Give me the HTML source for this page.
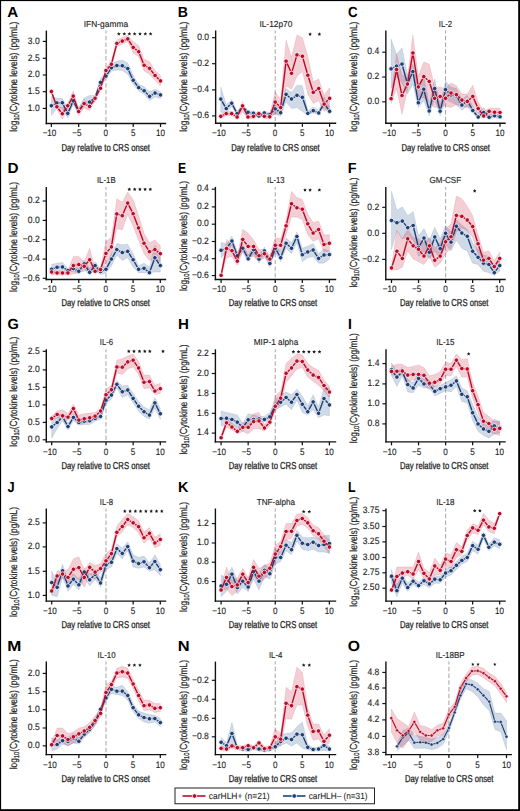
<!DOCTYPE html>
<html><head><meta charset="utf-8"><style>
html,body{margin:0;padding:0;background:#fff;}
svg{display:block;}
text{font-family:"Liberation Sans", sans-serif;fill:#262626;stroke:#262626;stroke-width:0.08px;text-rendering:geometricPrecision;}
</style></head><body>
<svg width="520" height="811" viewBox="0 0 520 811">
<rect x="0" y="0" width="520" height="811" fill="#fff"/>
<text transform="translate(7.37,16.85) scale(1.03,1)" font-size="14.7" text-anchor="start" font-weight="bold" style="fill:#000;stroke:none">A</text>
<text x="105.9" y="26.9" font-size="8.7" text-anchor="middle" font-weight="normal" textLength="44.4" lengthAdjust="spacingAndGlyphs" style="stroke-width:0.14px">IFN-gamma</text>
<line x1="105.95" y1="30.6" x2="105.95" y2="123.5" stroke="#a9a9a9" stroke-width="1.05" stroke-dasharray="4.4,2.35" stroke-dashoffset="1.5"/>
<path d="M51.4,96.5 L56.85,98 L62.31,98.62 L67.77,108 L73.22,98 L78.67,108 L84.13,98 L89.58,95.5 L95.04,95.5 L100.5,78.62 L105.95,73 L111.41,64.25 L116.86,61.12 L122.31,60.25 L127.77,63 L133.22,75.5 L138.68,84.25 L144.13,86.75 L149.59,91.75 L155.05,89.25 L160.5,91.75 L160.5,98.62 L155.05,96.75 L149.59,100.5 L144.13,94.25 L138.68,91.12 L133.22,84.25 L127.77,74.25 L122.31,70.5 L116.86,69.88 L111.41,71.12 L105.95,79.25 L100.5,86.75 L95.04,101.75 L89.58,105.5 L84.13,105.5 L78.67,114.25 L73.22,104.25 L67.77,118 L62.31,108 L56.85,108 L51.4,115.5 Z" fill="rgba(40,80,140,0.22)" stroke="rgba(40,80,140,0.18)" stroke-width="0.7"/>
<path d="M51.4,89.88 L56.85,104.88 L62.31,108 L67.77,103 L73.22,91.12 L78.67,108.62 L84.13,99.25 L89.58,104.25 L95.04,96.12 L100.5,85.5 L105.95,67.38 L111.41,60.5 L116.86,39.88 L122.31,37.38 L127.77,35.5 L133.22,41.75 L138.68,45.5 L144.13,59.25 L149.59,61.75 L155.05,70.5 L160.5,75.5 L160.5,86.12 L155.05,80.5 L149.59,74.25 L144.13,71.12 L138.68,56.75 L133.22,53 L127.77,41.75 L122.31,44.25 L116.86,46.75 L111.41,68 L105.95,73.62 L100.5,90.5 L95.04,100.5 L89.58,110.5 L84.13,108 L78.67,115.5 L73.22,100.5 L67.77,109.25 L62.31,119.25 L56.85,109.25 L51.4,93.62 Z" fill="rgba(200,30,60,0.22)" stroke="rgba(200,30,60,0.18)" stroke-width="0.7"/>
<path d="M51.4,105.75 L56.85,103 L62.31,102.75 L67.77,113.38 L73.22,100.88 L78.67,111.5 L84.13,102.75 L89.58,102.12 L95.04,97.38 L100.5,82.38 L105.95,76.12 L111.41,67.75 L116.86,65.5 L122.31,65.75 L127.77,68.62 L133.22,80.25 L138.68,87.62 L144.13,90.75 L149.59,96.38 L155.05,93 L160.5,94.88" fill="none" stroke="#1c3f78" stroke-width="1.4" stroke-linejoin="round"/>
<circle cx="51.4" cy="105.75" r="2.25" fill="#1c3f78" stroke="#fff" stroke-width="0.75"/>
<circle cx="56.85" cy="103" r="2.25" fill="#1c3f78" stroke="#fff" stroke-width="0.75"/>
<circle cx="62.31" cy="102.75" r="2.25" fill="#1c3f78" stroke="#fff" stroke-width="0.75"/>
<circle cx="67.77" cy="113.38" r="2.25" fill="#1c3f78" stroke="#fff" stroke-width="0.75"/>
<circle cx="73.22" cy="100.88" r="2.25" fill="#1c3f78" stroke="#fff" stroke-width="0.75"/>
<circle cx="78.67" cy="111.5" r="2.25" fill="#1c3f78" stroke="#fff" stroke-width="0.75"/>
<circle cx="84.13" cy="102.75" r="2.25" fill="#1c3f78" stroke="#fff" stroke-width="0.75"/>
<circle cx="89.58" cy="102.12" r="2.25" fill="#1c3f78" stroke="#fff" stroke-width="0.75"/>
<circle cx="95.04" cy="97.38" r="2.25" fill="#1c3f78" stroke="#fff" stroke-width="0.75"/>
<circle cx="100.5" cy="82.38" r="2.25" fill="#1c3f78" stroke="#fff" stroke-width="0.75"/>
<circle cx="105.95" cy="76.12" r="2.25" fill="#1c3f78" stroke="#fff" stroke-width="0.75"/>
<circle cx="111.41" cy="67.75" r="2.25" fill="#1c3f78" stroke="#fff" stroke-width="0.75"/>
<circle cx="116.86" cy="65.5" r="2.25" fill="#1c3f78" stroke="#fff" stroke-width="0.75"/>
<circle cx="122.31" cy="65.75" r="2.25" fill="#1c3f78" stroke="#fff" stroke-width="0.75"/>
<circle cx="127.77" cy="68.62" r="2.25" fill="#1c3f78" stroke="#fff" stroke-width="0.75"/>
<circle cx="133.22" cy="80.25" r="2.25" fill="#1c3f78" stroke="#fff" stroke-width="0.75"/>
<circle cx="138.68" cy="87.62" r="2.25" fill="#1c3f78" stroke="#fff" stroke-width="0.75"/>
<circle cx="144.13" cy="90.75" r="2.25" fill="#1c3f78" stroke="#fff" stroke-width="0.75"/>
<circle cx="149.59" cy="96.38" r="2.25" fill="#1c3f78" stroke="#fff" stroke-width="0.75"/>
<circle cx="155.05" cy="93" r="2.25" fill="#1c3f78" stroke="#fff" stroke-width="0.75"/>
<circle cx="160.5" cy="94.88" r="2.25" fill="#1c3f78" stroke="#fff" stroke-width="0.75"/>
<path d="M51.4,91.5 L56.85,106.75 L62.31,113.75 L67.77,105.75 L73.22,96.12 L78.67,111.5 L84.13,103.62 L89.58,106.38 L95.04,98.25 L100.5,88.25 L105.95,70.5 L111.41,64.25 L116.86,43.38 L122.31,41.12 L127.77,38.88 L133.22,47.38 L138.68,51.75 L144.13,65.25 L149.59,68.38 L155.05,75.5 L160.5,80.88" fill="none" stroke="#bb0a28" stroke-width="1.4" stroke-linejoin="round"/>
<circle cx="51.4" cy="91.5" r="2.25" fill="#bb0a28" stroke="#fff" stroke-width="0.75"/>
<circle cx="56.85" cy="106.75" r="2.25" fill="#bb0a28" stroke="#fff" stroke-width="0.75"/>
<circle cx="62.31" cy="113.75" r="2.25" fill="#bb0a28" stroke="#fff" stroke-width="0.75"/>
<circle cx="67.77" cy="105.75" r="2.25" fill="#bb0a28" stroke="#fff" stroke-width="0.75"/>
<circle cx="73.22" cy="96.12" r="2.25" fill="#bb0a28" stroke="#fff" stroke-width="0.75"/>
<circle cx="78.67" cy="111.5" r="2.25" fill="#bb0a28" stroke="#fff" stroke-width="0.75"/>
<circle cx="84.13" cy="103.62" r="2.25" fill="#bb0a28" stroke="#fff" stroke-width="0.75"/>
<circle cx="89.58" cy="106.38" r="2.25" fill="#bb0a28" stroke="#fff" stroke-width="0.75"/>
<circle cx="95.04" cy="98.25" r="2.25" fill="#bb0a28" stroke="#fff" stroke-width="0.75"/>
<circle cx="100.5" cy="88.25" r="2.25" fill="#bb0a28" stroke="#fff" stroke-width="0.75"/>
<circle cx="105.95" cy="70.5" r="2.25" fill="#bb0a28" stroke="#fff" stroke-width="0.75"/>
<circle cx="111.41" cy="64.25" r="2.25" fill="#bb0a28" stroke="#fff" stroke-width="0.75"/>
<circle cx="116.86" cy="43.38" r="2.25" fill="#bb0a28" stroke="#fff" stroke-width="0.75"/>
<circle cx="122.31" cy="41.12" r="2.25" fill="#bb0a28" stroke="#fff" stroke-width="0.75"/>
<circle cx="127.77" cy="38.88" r="2.25" fill="#bb0a28" stroke="#fff" stroke-width="0.75"/>
<circle cx="133.22" cy="47.38" r="2.25" fill="#bb0a28" stroke="#fff" stroke-width="0.75"/>
<circle cx="138.68" cy="51.75" r="2.25" fill="#bb0a28" stroke="#fff" stroke-width="0.75"/>
<circle cx="144.13" cy="65.25" r="2.25" fill="#bb0a28" stroke="#fff" stroke-width="0.75"/>
<circle cx="149.59" cy="68.38" r="2.25" fill="#bb0a28" stroke="#fff" stroke-width="0.75"/>
<circle cx="155.05" cy="75.5" r="2.25" fill="#bb0a28" stroke="#fff" stroke-width="0.75"/>
<circle cx="160.5" cy="80.88" r="2.25" fill="#bb0a28" stroke="#fff" stroke-width="0.75"/>
<line x1="46.35" y1="30.6" x2="46.35" y2="124.2" stroke="#111" stroke-width="1.4"/>
<line x1="45.65" y1="123.5" x2="166.2" y2="123.5" stroke="#111" stroke-width="1.4"/>
<line x1="51.4" y1="123.5" x2="51.4" y2="127" stroke="#111" stroke-width="1.25"/>
<text transform="translate(49.5,136.45) scale(0.87,1)" font-size="9.3" text-anchor="middle" font-weight="normal" style="stroke-width:0.14px">−10</text>
<line x1="78.67" y1="123.5" x2="78.67" y2="127" stroke="#111" stroke-width="1.25"/>
<text transform="translate(76.77,136.45) scale(0.87,1)" font-size="9.3" text-anchor="middle" font-weight="normal" style="stroke-width:0.14px">−5</text>
<line x1="105.95" y1="123.5" x2="105.95" y2="127" stroke="#111" stroke-width="1.25"/>
<text transform="translate(105.85,136.45) scale(0.87,1)" font-size="9.3" text-anchor="middle" font-weight="normal" style="stroke-width:0.14px">0</text>
<line x1="133.22" y1="123.5" x2="133.22" y2="127" stroke="#111" stroke-width="1.25"/>
<text transform="translate(133.12,136.45) scale(0.87,1)" font-size="9.3" text-anchor="middle" font-weight="normal" style="stroke-width:0.14px">5</text>
<line x1="160.5" y1="123.5" x2="160.5" y2="127" stroke="#111" stroke-width="1.25"/>
<text transform="translate(160.4,136.45) scale(0.87,1)" font-size="9.3" text-anchor="middle" font-weight="normal" style="stroke-width:0.14px">10</text>
<line x1="42.75" y1="41.4" x2="46.35" y2="41.4" stroke="#111" stroke-width="1.15"/>
<text transform="translate(39.75,43.6) scale(0.92,1)" font-size="9.3" text-anchor="end" font-weight="normal" style="stroke-width:0.14px">3.0</text>
<line x1="42.75" y1="58.3" x2="46.35" y2="58.3" stroke="#111" stroke-width="1.15"/>
<text transform="translate(39.75,60.5) scale(0.92,1)" font-size="9.3" text-anchor="end" font-weight="normal" style="stroke-width:0.14px">2.5</text>
<line x1="42.75" y1="75" x2="46.35" y2="75" stroke="#111" stroke-width="1.15"/>
<text transform="translate(39.75,77.2) scale(0.92,1)" font-size="9.3" text-anchor="end" font-weight="normal" style="stroke-width:0.14px">2.0</text>
<line x1="42.75" y1="91.7" x2="46.35" y2="91.7" stroke="#111" stroke-width="1.15"/>
<text transform="translate(39.75,93.9) scale(0.92,1)" font-size="9.3" text-anchor="end" font-weight="normal" style="stroke-width:0.14px">1.5</text>
<line x1="42.75" y1="108.4" x2="46.35" y2="108.4" stroke="#111" stroke-width="1.15"/>
<text transform="translate(39.75,110.6) scale(0.92,1)" font-size="9.3" text-anchor="end" font-weight="normal" style="stroke-width:0.14px">1.0</text>
<text x="105.75" y="150.8" font-size="10" text-anchor="middle" font-weight="normal" textLength="88.5" lengthAdjust="spacingAndGlyphs" style="stroke-width:0.3px">Day relative to CRS onset</text>
<text transform="translate(16.5,76.7) rotate(-90)" font-size="10.4" text-anchor="middle" style="stroke-width:0.22px" textLength="110" lengthAdjust="spacingAndGlyphs">log<tspan font-size="7.2" dy="2.2">10</tspan><tspan dy="-2.2">(Cytokine levels) (pg/mL)</tspan></text>
<path d="M118.8,32.01 L119.36,33.14 L120.61,33.32 L119.7,34.2 L119.92,35.45 L118.8,34.86 L117.68,35.45 L117.9,34.2 L116.99,33.32 L118.24,33.14 Z" fill="#1a1a1a"/>
<path d="M124.3,32.01 L124.86,33.14 L126.11,33.32 L125.2,34.2 L125.42,35.45 L124.3,34.86 L123.18,35.45 L123.4,34.2 L122.49,33.32 L123.74,33.14 Z" fill="#1a1a1a"/>
<path d="M129.4,32.01 L129.96,33.14 L131.21,33.32 L130.3,34.2 L130.52,35.45 L129.4,34.86 L128.28,35.45 L128.5,34.2 L127.59,33.32 L128.84,33.14 Z" fill="#1a1a1a"/>
<path d="M134.6,32.01 L135.16,33.14 L136.41,33.32 L135.5,34.2 L135.72,35.45 L134.6,34.86 L133.48,35.45 L133.7,34.2 L132.79,33.32 L134.04,33.14 Z" fill="#1a1a1a"/>
<path d="M140,32.01 L140.56,33.14 L141.81,33.32 L140.9,34.2 L141.12,35.45 L140,34.86 L138.88,35.45 L139.1,34.2 L138.19,33.32 L139.44,33.14 Z" fill="#1a1a1a"/>
<path d="M145.3,32.01 L145.86,33.14 L147.11,33.32 L146.2,34.2 L146.42,35.45 L145.3,34.86 L144.18,35.45 L144.4,34.2 L143.49,33.32 L144.74,33.14 Z" fill="#1a1a1a"/>
<path d="M150.6,32.01 L151.16,33.14 L152.41,33.32 L151.5,34.2 L151.72,35.45 L150.6,34.86 L149.48,35.45 L149.7,34.2 L148.79,33.32 L150.04,33.14 Z" fill="#1a1a1a"/>
<text transform="translate(177.69,16.85) scale(0.96,1)" font-size="14.7" text-anchor="start" font-weight="bold" style="fill:#000;stroke:none">B</text>
<text x="275.9" y="26.8" font-size="8.7" text-anchor="middle" font-weight="normal" textLength="33" lengthAdjust="spacingAndGlyphs" style="stroke-width:0.14px">IL-12p70</text>
<line x1="275.2" y1="30.5" x2="275.2" y2="123.3" stroke="#a9a9a9" stroke-width="1.05" stroke-dasharray="4.4,2.35" stroke-dashoffset="1.5"/>
<path d="M220.8,87.17 L226.24,104.81 L231.68,99.38 L237.12,111.59 L242.56,104.81 L248,110.23 L253.44,111.32 L258.88,114.03 L264.32,111.05 L269.76,112.67 L275.2,104.81 L280.64,108.88 L286.08,88.53 L291.52,92.6 L296.96,85.14 L302.4,85.82 L307.84,110.91 L313.28,106.84 L318.72,110.23 L324.16,96.67 L329.6,106.16 L329.6,114.57 L324.16,107.52 L318.72,114.57 L313.28,112.94 L307.84,114.98 L302.4,111.59 L296.96,107.52 L291.52,108.6 L286.08,102.09 L280.64,115.66 L275.2,114.3 L269.76,116.47 L264.32,114.84 L258.88,117.83 L253.44,115.11 L248,114.3 L242.56,108.88 L237.12,115.66 L231.68,106.16 L226.24,112.94 L220.8,112.27 Z" fill="rgba(40,80,140,0.22)" stroke="rgba(40,80,140,0.18)" stroke-width="0.7"/>
<path d="M220.8,114.3 L226.24,111.59 L231.68,111.59 L237.12,114.98 L242.56,101.42 L248,114.98 L253.44,114.3 L258.88,111.59 L264.32,114.3 L269.76,114.57 L275.2,91.92 L280.64,99.38 L286.08,40.38 L291.52,57.33 L296.96,34.95 L302.4,37.67 L307.84,56.66 L313.28,81.75 L318.72,79.04 L324.16,95.31 L329.6,87.85 L329.6,108.2 L324.16,111.59 L318.72,100.74 L313.28,103.45 L307.84,93.96 L302.4,71.58 L296.96,76.32 L291.52,89.21 L286.08,85.82 L280.64,115.66 L275.2,112.94 L269.76,118.64 L264.32,118.37 L258.88,115.66 L253.44,118.37 L248,119.05 L242.56,111.59 L237.12,119.05 L231.68,115.66 L226.24,115.66 L220.8,118.37 Z" fill="rgba(200,30,60,0.22)" stroke="rgba(200,30,60,0.18)" stroke-width="0.7"/>
<path d="M220.8,99.11 L226.24,108.6 L231.68,103.18 L237.12,113.62 L242.56,106.84 L248,112.27 L253.44,113.22 L258.88,115.93 L264.32,112.94 L269.76,114.57 L275.2,108.88 L280.64,112.67 L286.08,94.36 L291.52,98.97 L296.96,95.31 L302.4,97.35 L307.84,113.35 L313.28,110.64 L318.72,112.94 L324.16,103.18 L329.6,111.32" fill="none" stroke="#1c3f78" stroke-width="1.4" stroke-linejoin="round"/>
<circle cx="220.8" cy="99.11" r="2.25" fill="#1c3f78" stroke="#fff" stroke-width="0.75"/>
<circle cx="226.24" cy="108.6" r="2.25" fill="#1c3f78" stroke="#fff" stroke-width="0.75"/>
<circle cx="231.68" cy="103.18" r="2.25" fill="#1c3f78" stroke="#fff" stroke-width="0.75"/>
<circle cx="237.12" cy="113.62" r="2.25" fill="#1c3f78" stroke="#fff" stroke-width="0.75"/>
<circle cx="242.56" cy="106.84" r="2.25" fill="#1c3f78" stroke="#fff" stroke-width="0.75"/>
<circle cx="248" cy="112.27" r="2.25" fill="#1c3f78" stroke="#fff" stroke-width="0.75"/>
<circle cx="253.44" cy="113.22" r="2.25" fill="#1c3f78" stroke="#fff" stroke-width="0.75"/>
<circle cx="258.88" cy="115.93" r="2.25" fill="#1c3f78" stroke="#fff" stroke-width="0.75"/>
<circle cx="264.32" cy="112.94" r="2.25" fill="#1c3f78" stroke="#fff" stroke-width="0.75"/>
<circle cx="269.76" cy="114.57" r="2.25" fill="#1c3f78" stroke="#fff" stroke-width="0.75"/>
<circle cx="275.2" cy="108.88" r="2.25" fill="#1c3f78" stroke="#fff" stroke-width="0.75"/>
<circle cx="280.64" cy="112.67" r="2.25" fill="#1c3f78" stroke="#fff" stroke-width="0.75"/>
<circle cx="286.08" cy="94.36" r="2.25" fill="#1c3f78" stroke="#fff" stroke-width="0.75"/>
<circle cx="291.52" cy="98.97" r="2.25" fill="#1c3f78" stroke="#fff" stroke-width="0.75"/>
<circle cx="296.96" cy="95.31" r="2.25" fill="#1c3f78" stroke="#fff" stroke-width="0.75"/>
<circle cx="302.4" cy="97.35" r="2.25" fill="#1c3f78" stroke="#fff" stroke-width="0.75"/>
<circle cx="307.84" cy="113.35" r="2.25" fill="#1c3f78" stroke="#fff" stroke-width="0.75"/>
<circle cx="313.28" cy="110.64" r="2.25" fill="#1c3f78" stroke="#fff" stroke-width="0.75"/>
<circle cx="318.72" cy="112.94" r="2.25" fill="#1c3f78" stroke="#fff" stroke-width="0.75"/>
<circle cx="324.16" cy="103.18" r="2.25" fill="#1c3f78" stroke="#fff" stroke-width="0.75"/>
<circle cx="329.6" cy="111.32" r="2.25" fill="#1c3f78" stroke="#fff" stroke-width="0.75"/>
<path d="M220.8,116.34 L226.24,113.62 L231.68,113.62 L237.12,117.01 L242.56,105.89 L248,117.01 L253.44,116.34 L258.88,113.62 L264.32,116.34 L269.76,116.74 L275.2,102.09 L280.64,107.52 L286.08,61.13 L291.52,73.34 L296.96,54.89 L302.4,56.25 L307.84,75.24 L313.28,92.33 L318.72,88.53 L324.16,104.13 L329.6,98.3" fill="none" stroke="#bb0a28" stroke-width="1.4" stroke-linejoin="round"/>
<circle cx="220.8" cy="116.34" r="2.25" fill="#bb0a28" stroke="#fff" stroke-width="0.75"/>
<circle cx="226.24" cy="113.62" r="2.25" fill="#bb0a28" stroke="#fff" stroke-width="0.75"/>
<circle cx="231.68" cy="113.62" r="2.25" fill="#bb0a28" stroke="#fff" stroke-width="0.75"/>
<circle cx="237.12" cy="117.01" r="2.25" fill="#bb0a28" stroke="#fff" stroke-width="0.75"/>
<circle cx="242.56" cy="105.89" r="2.25" fill="#bb0a28" stroke="#fff" stroke-width="0.75"/>
<circle cx="248" cy="117.01" r="2.25" fill="#bb0a28" stroke="#fff" stroke-width="0.75"/>
<circle cx="253.44" cy="116.34" r="2.25" fill="#bb0a28" stroke="#fff" stroke-width="0.75"/>
<circle cx="258.88" cy="113.62" r="2.25" fill="#bb0a28" stroke="#fff" stroke-width="0.75"/>
<circle cx="264.32" cy="116.34" r="2.25" fill="#bb0a28" stroke="#fff" stroke-width="0.75"/>
<circle cx="269.76" cy="116.74" r="2.25" fill="#bb0a28" stroke="#fff" stroke-width="0.75"/>
<circle cx="275.2" cy="102.09" r="2.25" fill="#bb0a28" stroke="#fff" stroke-width="0.75"/>
<circle cx="280.64" cy="107.52" r="2.25" fill="#bb0a28" stroke="#fff" stroke-width="0.75"/>
<circle cx="286.08" cy="61.13" r="2.25" fill="#bb0a28" stroke="#fff" stroke-width="0.75"/>
<circle cx="291.52" cy="73.34" r="2.25" fill="#bb0a28" stroke="#fff" stroke-width="0.75"/>
<circle cx="296.96" cy="54.89" r="2.25" fill="#bb0a28" stroke="#fff" stroke-width="0.75"/>
<circle cx="302.4" cy="56.25" r="2.25" fill="#bb0a28" stroke="#fff" stroke-width="0.75"/>
<circle cx="307.84" cy="75.24" r="2.25" fill="#bb0a28" stroke="#fff" stroke-width="0.75"/>
<circle cx="313.28" cy="92.33" r="2.25" fill="#bb0a28" stroke="#fff" stroke-width="0.75"/>
<circle cx="318.72" cy="88.53" r="2.25" fill="#bb0a28" stroke="#fff" stroke-width="0.75"/>
<circle cx="324.16" cy="104.13" r="2.25" fill="#bb0a28" stroke="#fff" stroke-width="0.75"/>
<circle cx="329.6" cy="98.3" r="2.25" fill="#bb0a28" stroke="#fff" stroke-width="0.75"/>
<line x1="215.65" y1="30.5" x2="215.65" y2="124" stroke="#111" stroke-width="1.4"/>
<line x1="214.95" y1="123.3" x2="336.2" y2="123.3" stroke="#111" stroke-width="1.4"/>
<line x1="220.8" y1="123.3" x2="220.8" y2="126.8" stroke="#111" stroke-width="1.25"/>
<text transform="translate(218.9,136.25) scale(0.87,1)" font-size="9.3" text-anchor="middle" font-weight="normal" style="stroke-width:0.14px">−10</text>
<line x1="248" y1="123.3" x2="248" y2="126.8" stroke="#111" stroke-width="1.25"/>
<text transform="translate(246.1,136.25) scale(0.87,1)" font-size="9.3" text-anchor="middle" font-weight="normal" style="stroke-width:0.14px">−5</text>
<line x1="275.2" y1="123.3" x2="275.2" y2="126.8" stroke="#111" stroke-width="1.25"/>
<text transform="translate(275.1,136.25) scale(0.87,1)" font-size="9.3" text-anchor="middle" font-weight="normal" style="stroke-width:0.14px">0</text>
<line x1="302.4" y1="123.3" x2="302.4" y2="126.8" stroke="#111" stroke-width="1.25"/>
<text transform="translate(302.3,136.25) scale(0.87,1)" font-size="9.3" text-anchor="middle" font-weight="normal" style="stroke-width:0.14px">5</text>
<line x1="329.6" y1="123.3" x2="329.6" y2="126.8" stroke="#111" stroke-width="1.25"/>
<text transform="translate(329.5,136.25) scale(0.87,1)" font-size="9.3" text-anchor="middle" font-weight="normal" style="stroke-width:0.14px">10</text>
<line x1="212.05" y1="37.7" x2="215.65" y2="37.7" stroke="#111" stroke-width="1.15"/>
<text transform="translate(209.05,39.9) scale(0.92,1)" font-size="9.3" text-anchor="end" font-weight="normal" style="stroke-width:0.14px">0.0</text>
<line x1="212.05" y1="63.7" x2="215.65" y2="63.7" stroke="#111" stroke-width="1.15"/>
<text transform="translate(209.05,65.9) scale(0.92,1)" font-size="9.3" text-anchor="end" font-weight="normal" style="stroke-width:0.14px">−0.2</text>
<line x1="212.05" y1="89.9" x2="215.65" y2="89.9" stroke="#111" stroke-width="1.15"/>
<text transform="translate(209.05,92.1) scale(0.92,1)" font-size="9.3" text-anchor="end" font-weight="normal" style="stroke-width:0.14px">−0.4</text>
<line x1="212.05" y1="115.9" x2="215.65" y2="115.9" stroke="#111" stroke-width="1.15"/>
<text transform="translate(209.05,118.1) scale(0.92,1)" font-size="9.3" text-anchor="end" font-weight="normal" style="stroke-width:0.14px">−0.6</text>
<text x="275.5" y="150.8" font-size="10" text-anchor="middle" font-weight="normal" textLength="88.5" lengthAdjust="spacingAndGlyphs" style="stroke-width:0.3px">Day relative to CRS onset</text>
<text transform="translate(186.7,76.7) rotate(-90)" font-size="10.4" text-anchor="middle" style="stroke-width:0.22px" textLength="110" lengthAdjust="spacingAndGlyphs">log<tspan font-size="7.2" dy="2.2">10</tspan><tspan dy="-2.2">(Cytokine levels) (pg/mL)</tspan></text>
<path d="M310.1,32.3 L310.66,33.43 L311.91,33.61 L311,34.49 L311.22,35.74 L310.1,35.15 L308.98,35.74 L309.2,34.49 L308.29,33.61 L309.54,33.43 Z" fill="#1a1a1a"/>
<path d="M319.4,32.3 L319.96,33.43 L321.21,33.61 L320.3,34.49 L320.52,35.74 L319.4,35.15 L318.28,35.74 L318.5,34.49 L317.59,33.61 L318.84,33.43 Z" fill="#1a1a1a"/>
<text transform="translate(348.03,16.85) scale(0.91,1)" font-size="14.7" text-anchor="start" font-weight="bold" style="fill:#000;stroke:none">C</text>
<text x="445.5" y="26.8" font-size="8.7" text-anchor="middle" font-weight="normal" textLength="13.4" lengthAdjust="spacingAndGlyphs" style="stroke-width:0.14px">IL-2</text>
<line x1="445.55" y1="30.5" x2="445.55" y2="123.3" stroke="#a9a9a9" stroke-width="1.05" stroke-dasharray="4.4,2.35" stroke-dashoffset="1.5"/>
<path d="M391.1,39.02 L396.55,54.62 L401.99,47.84 L407.44,74.97 L412.88,64.12 L418.33,88.53 L423.77,76.32 L429.22,104.81 L434.66,79.04 L440.11,104.81 L445.55,81.07 L451,87.17 L456.44,88.53 L461.88,99.38 L467.33,95.31 L472.77,106.84 L478.22,112.94 L483.67,107.52 L489.11,114.3 L494.56,113.62 L500,114.3 L500,119.05 L494.56,117.69 L489.11,119.05 L483.67,115.66 L478.22,119.05 L472.77,112.94 L467.33,106.16 L461.88,110.23 L456.44,104.81 L451,102.09 L445.55,99.38 L440.11,115.66 L434.66,99.38 L429.22,115.66 L423.77,100.74 L418.33,107.52 L412.88,84.46 L407.44,93.96 L401.99,83.1 L396.55,76.32 L391.1,88.53 Z" fill="rgba(40,80,140,0.22)" stroke="rgba(40,80,140,0.18)" stroke-width="0.7"/>
<path d="M391.1,93.96 L396.55,53.94 L401.99,74.97 L407.44,77.68 L412.88,34.95 L418.33,76.32 L423.77,62.08 L429.22,64.12 L434.66,87.17 L440.11,87.17 L445.55,88.53 L451,83.1 L456.44,85.82 L461.88,93.96 L467.33,93.96 L472.77,85.14 L478.22,102.09 L483.67,111.59 L489.11,108.2 L494.56,108.2 L500,108.2 L500,114.98 L494.56,114.98 L489.11,114.3 L483.67,118.37 L478.22,112.94 L472.77,106.16 L467.33,107.52 L461.88,106.16 L456.44,104.81 L451,107.52 L445.55,106.16 L440.11,106.84 L434.66,107.52 L429.22,102.09 L423.77,98.02 L418.33,96.67 L412.88,70.9 L407.44,89.89 L401.99,114.3 L396.55,88.53 L391.1,103.45 Z" fill="rgba(200,30,60,0.22)" stroke="rgba(200,30,60,0.18)" stroke-width="0.7"/>
<path d="M391.1,68.86 L396.55,66.15 L401.99,64.12 L407.44,83.78 L412.88,71.58 L418.33,102.77 L423.77,89.21 L429.22,110.91 L434.66,88.53 L440.11,111.18 L445.55,89.62 L451,94.91 L456.44,95.99 L461.88,105.08 L467.33,100.74 L472.77,110.5 L478.22,117.01 L483.67,112.54 L489.11,117.28 L494.56,115.66 L500,116.74" fill="none" stroke="#1c3f78" stroke-width="1.4" stroke-linejoin="round"/>
<circle cx="391.1" cy="68.86" r="2.25" fill="#1c3f78" stroke="#fff" stroke-width="0.75"/>
<circle cx="396.55" cy="66.15" r="2.25" fill="#1c3f78" stroke="#fff" stroke-width="0.75"/>
<circle cx="401.99" cy="64.12" r="2.25" fill="#1c3f78" stroke="#fff" stroke-width="0.75"/>
<circle cx="407.44" cy="83.78" r="2.25" fill="#1c3f78" stroke="#fff" stroke-width="0.75"/>
<circle cx="412.88" cy="71.58" r="2.25" fill="#1c3f78" stroke="#fff" stroke-width="0.75"/>
<circle cx="418.33" cy="102.77" r="2.25" fill="#1c3f78" stroke="#fff" stroke-width="0.75"/>
<circle cx="423.77" cy="89.21" r="2.25" fill="#1c3f78" stroke="#fff" stroke-width="0.75"/>
<circle cx="429.22" cy="110.91" r="2.25" fill="#1c3f78" stroke="#fff" stroke-width="0.75"/>
<circle cx="434.66" cy="88.53" r="2.25" fill="#1c3f78" stroke="#fff" stroke-width="0.75"/>
<circle cx="440.11" cy="111.18" r="2.25" fill="#1c3f78" stroke="#fff" stroke-width="0.75"/>
<circle cx="445.55" cy="89.62" r="2.25" fill="#1c3f78" stroke="#fff" stroke-width="0.75"/>
<circle cx="451" cy="94.91" r="2.25" fill="#1c3f78" stroke="#fff" stroke-width="0.75"/>
<circle cx="456.44" cy="95.99" r="2.25" fill="#1c3f78" stroke="#fff" stroke-width="0.75"/>
<circle cx="461.88" cy="105.08" r="2.25" fill="#1c3f78" stroke="#fff" stroke-width="0.75"/>
<circle cx="467.33" cy="100.74" r="2.25" fill="#1c3f78" stroke="#fff" stroke-width="0.75"/>
<circle cx="472.77" cy="110.5" r="2.25" fill="#1c3f78" stroke="#fff" stroke-width="0.75"/>
<circle cx="478.22" cy="117.01" r="2.25" fill="#1c3f78" stroke="#fff" stroke-width="0.75"/>
<circle cx="483.67" cy="112.54" r="2.25" fill="#1c3f78" stroke="#fff" stroke-width="0.75"/>
<circle cx="489.11" cy="117.28" r="2.25" fill="#1c3f78" stroke="#fff" stroke-width="0.75"/>
<circle cx="494.56" cy="115.66" r="2.25" fill="#1c3f78" stroke="#fff" stroke-width="0.75"/>
<circle cx="500" cy="116.74" r="2.25" fill="#1c3f78" stroke="#fff" stroke-width="0.75"/>
<path d="M391.1,98.7 L396.55,69.54 L401.99,95.58 L407.44,84.05 L412.88,52.99 L418.33,86.9 L423.77,76.59 L429.22,81.48 L434.66,98.3 L440.11,96.4 L445.55,98.3 L451,93.01 L456.44,94.63 L461.88,100.06 L467.33,101.42 L472.77,96.4 L478.22,108.6 L483.67,115.93 L489.11,111.32 L494.56,112.27 L500,112.54" fill="none" stroke="#bb0a28" stroke-width="1.4" stroke-linejoin="round"/>
<circle cx="391.1" cy="98.7" r="2.25" fill="#bb0a28" stroke="#fff" stroke-width="0.75"/>
<circle cx="396.55" cy="69.54" r="2.25" fill="#bb0a28" stroke="#fff" stroke-width="0.75"/>
<circle cx="401.99" cy="95.58" r="2.25" fill="#bb0a28" stroke="#fff" stroke-width="0.75"/>
<circle cx="407.44" cy="84.05" r="2.25" fill="#bb0a28" stroke="#fff" stroke-width="0.75"/>
<circle cx="412.88" cy="52.99" r="2.25" fill="#bb0a28" stroke="#fff" stroke-width="0.75"/>
<circle cx="418.33" cy="86.9" r="2.25" fill="#bb0a28" stroke="#fff" stroke-width="0.75"/>
<circle cx="423.77" cy="76.59" r="2.25" fill="#bb0a28" stroke="#fff" stroke-width="0.75"/>
<circle cx="429.22" cy="81.48" r="2.25" fill="#bb0a28" stroke="#fff" stroke-width="0.75"/>
<circle cx="434.66" cy="98.3" r="2.25" fill="#bb0a28" stroke="#fff" stroke-width="0.75"/>
<circle cx="440.11" cy="96.4" r="2.25" fill="#bb0a28" stroke="#fff" stroke-width="0.75"/>
<circle cx="445.55" cy="98.3" r="2.25" fill="#bb0a28" stroke="#fff" stroke-width="0.75"/>
<circle cx="451" cy="93.01" r="2.25" fill="#bb0a28" stroke="#fff" stroke-width="0.75"/>
<circle cx="456.44" cy="94.63" r="2.25" fill="#bb0a28" stroke="#fff" stroke-width="0.75"/>
<circle cx="461.88" cy="100.06" r="2.25" fill="#bb0a28" stroke="#fff" stroke-width="0.75"/>
<circle cx="467.33" cy="101.42" r="2.25" fill="#bb0a28" stroke="#fff" stroke-width="0.75"/>
<circle cx="472.77" cy="96.4" r="2.25" fill="#bb0a28" stroke="#fff" stroke-width="0.75"/>
<circle cx="478.22" cy="108.6" r="2.25" fill="#bb0a28" stroke="#fff" stroke-width="0.75"/>
<circle cx="483.67" cy="115.93" r="2.25" fill="#bb0a28" stroke="#fff" stroke-width="0.75"/>
<circle cx="489.11" cy="111.32" r="2.25" fill="#bb0a28" stroke="#fff" stroke-width="0.75"/>
<circle cx="494.56" cy="112.27" r="2.25" fill="#bb0a28" stroke="#fff" stroke-width="0.75"/>
<circle cx="500" cy="112.54" r="2.25" fill="#bb0a28" stroke="#fff" stroke-width="0.75"/>
<line x1="385.85" y1="30.5" x2="385.85" y2="124" stroke="#111" stroke-width="1.4"/>
<line x1="385.15" y1="123.3" x2="505.7" y2="123.3" stroke="#111" stroke-width="1.4"/>
<line x1="391.1" y1="123.3" x2="391.1" y2="126.8" stroke="#111" stroke-width="1.25"/>
<text transform="translate(389.2,136.25) scale(0.87,1)" font-size="9.3" text-anchor="middle" font-weight="normal" style="stroke-width:0.14px">−10</text>
<line x1="418.33" y1="123.3" x2="418.33" y2="126.8" stroke="#111" stroke-width="1.25"/>
<text transform="translate(416.43,136.25) scale(0.87,1)" font-size="9.3" text-anchor="middle" font-weight="normal" style="stroke-width:0.14px">−5</text>
<line x1="445.55" y1="123.3" x2="445.55" y2="126.8" stroke="#111" stroke-width="1.25"/>
<text transform="translate(445.45,136.25) scale(0.87,1)" font-size="9.3" text-anchor="middle" font-weight="normal" style="stroke-width:0.14px">0</text>
<line x1="472.77" y1="123.3" x2="472.77" y2="126.8" stroke="#111" stroke-width="1.25"/>
<text transform="translate(472.67,136.25) scale(0.87,1)" font-size="9.3" text-anchor="middle" font-weight="normal" style="stroke-width:0.14px">5</text>
<line x1="500" y1="123.3" x2="500" y2="126.8" stroke="#111" stroke-width="1.25"/>
<text transform="translate(499.9,136.25) scale(0.87,1)" font-size="9.3" text-anchor="middle" font-weight="normal" style="stroke-width:0.14px">10</text>
<line x1="382.25" y1="52.2" x2="385.85" y2="52.2" stroke="#111" stroke-width="1.15"/>
<text transform="translate(379.25,54.4) scale(0.92,1)" font-size="9.3" text-anchor="end" font-weight="normal" style="stroke-width:0.14px">0.4</text>
<line x1="382.25" y1="77" x2="385.85" y2="77" stroke="#111" stroke-width="1.15"/>
<text transform="translate(379.25,79.2) scale(0.92,1)" font-size="9.3" text-anchor="end" font-weight="normal" style="stroke-width:0.14px">0.2</text>
<line x1="382.25" y1="101.8" x2="385.85" y2="101.8" stroke="#111" stroke-width="1.15"/>
<text transform="translate(379.25,104) scale(0.92,1)" font-size="9.3" text-anchor="end" font-weight="normal" style="stroke-width:0.14px">0.0</text>
<text x="445.75" y="150.8" font-size="10" text-anchor="middle" font-weight="normal" textLength="88.5" lengthAdjust="spacingAndGlyphs" style="stroke-width:0.3px">Day relative to CRS onset</text>
<text transform="translate(356.7,76.7) rotate(-90)" font-size="10.4" text-anchor="middle" style="stroke-width:0.22px" textLength="110" lengthAdjust="spacingAndGlyphs">log<tspan font-size="7.2" dy="2.2">10</tspan><tspan dy="-2.2">(Cytokine levels) (pg/mL)</tspan></text>
<text transform="translate(7.52,173.4) scale(1.04,1)" font-size="14.7" text-anchor="start" font-weight="bold" style="fill:#000;stroke:none">D</text>
<text x="106.3" y="182.9" font-size="8.7" text-anchor="middle" font-weight="normal" textLength="18.7" lengthAdjust="spacingAndGlyphs" style="stroke-width:0.14px">IL-1B</text>
<line x1="105.95" y1="186.9" x2="105.95" y2="279.5" stroke="#a9a9a9" stroke-width="1.05" stroke-dasharray="4.4,2.35" stroke-dashoffset="1.5"/>
<path d="M51.6,264.52 L57.04,263.16 L62.47,262.48 L67.91,268.59 L73.34,265.88 L78.78,268.59 L84.21,260.45 L89.65,268.59 L95.08,261.81 L100.52,268.59 L105.95,265.88 L111.39,253.67 L116.82,243.5 L122.25,244.85 L127.69,244.17 L133.12,253.67 L138.56,265.88 L144,263.16 L149.43,267.23 L154.87,245.53 L160.3,255.02 L160.3,271.98 L154.87,271.98 L149.43,272.66 L144,272.66 L138.56,272.66 L133.12,267.23 L127.69,257.74 L122.25,260.45 L116.82,255.02 L111.39,265.88 L105.95,272.66 L100.52,274.69 L95.08,269.94 L89.65,275.37 L84.21,268.59 L78.78,274.01 L73.34,271.3 L67.91,272.66 L62.47,271.98 L57.04,272.66 L51.6,275.37 Z" fill="rgba(40,80,140,0.22)" stroke="rgba(40,80,140,0.18)" stroke-width="0.7"/>
<path d="M51.6,269.94 L57.04,271.03 L62.47,271.03 L67.91,271.03 L73.34,256.38 L78.78,256.38 L84.21,261.81 L89.65,248.24 L95.08,268.59 L100.52,267.23 L105.95,241.46 L111.39,237.39 L116.82,198.74 L122.25,202.13 L127.69,191.95 L133.12,199.41 L138.56,215.69 L144,233.32 L149.43,242.82 L154.87,240.1 L160.3,245.53 L160.3,261.81 L154.87,259.09 L149.43,260.45 L144,253.67 L138.56,240.1 L133.12,226.54 L127.69,214.33 L122.25,229.93 L116.82,228.58 L111.39,255.02 L105.95,263.16 L100.52,271.98 L95.08,272.66 L89.65,269.94 L84.21,271.3 L78.78,272.66 L73.34,274.01 L67.91,275.1 L62.47,275.1 L57.04,275.1 L51.6,274.01 Z" fill="rgba(200,30,60,0.22)" stroke="rgba(200,30,60,0.18)" stroke-width="0.7"/>
<path d="M51.6,269.27 L57.04,267.23 L62.47,266.96 L67.91,270.62 L73.34,268.59 L78.78,271.3 L84.21,263.84 L89.65,272.25 L95.08,265.6 L100.52,271.57 L105.95,269.27 L111.39,259.09 L116.82,249.6 L122.25,252.58 L127.69,251.36 L133.12,259.77 L138.56,269.27 L144,268.32 L149.43,272.66 L154.87,257.74 L160.3,265.6" fill="none" stroke="#1c3f78" stroke-width="1.4" stroke-linejoin="round"/>
<circle cx="51.6" cy="269.27" r="2.25" fill="#1c3f78" stroke="#fff" stroke-width="0.75"/>
<circle cx="57.04" cy="267.23" r="2.25" fill="#1c3f78" stroke="#fff" stroke-width="0.75"/>
<circle cx="62.47" cy="266.96" r="2.25" fill="#1c3f78" stroke="#fff" stroke-width="0.75"/>
<circle cx="67.91" cy="270.62" r="2.25" fill="#1c3f78" stroke="#fff" stroke-width="0.75"/>
<circle cx="73.34" cy="268.59" r="2.25" fill="#1c3f78" stroke="#fff" stroke-width="0.75"/>
<circle cx="78.78" cy="271.3" r="2.25" fill="#1c3f78" stroke="#fff" stroke-width="0.75"/>
<circle cx="84.21" cy="263.84" r="2.25" fill="#1c3f78" stroke="#fff" stroke-width="0.75"/>
<circle cx="89.65" cy="272.25" r="2.25" fill="#1c3f78" stroke="#fff" stroke-width="0.75"/>
<circle cx="95.08" cy="265.6" r="2.25" fill="#1c3f78" stroke="#fff" stroke-width="0.75"/>
<circle cx="100.52" cy="271.57" r="2.25" fill="#1c3f78" stroke="#fff" stroke-width="0.75"/>
<circle cx="105.95" cy="269.27" r="2.25" fill="#1c3f78" stroke="#fff" stroke-width="0.75"/>
<circle cx="111.39" cy="259.09" r="2.25" fill="#1c3f78" stroke="#fff" stroke-width="0.75"/>
<circle cx="116.82" cy="249.6" r="2.25" fill="#1c3f78" stroke="#fff" stroke-width="0.75"/>
<circle cx="122.25" cy="252.58" r="2.25" fill="#1c3f78" stroke="#fff" stroke-width="0.75"/>
<circle cx="127.69" cy="251.36" r="2.25" fill="#1c3f78" stroke="#fff" stroke-width="0.75"/>
<circle cx="133.12" cy="259.77" r="2.25" fill="#1c3f78" stroke="#fff" stroke-width="0.75"/>
<circle cx="138.56" cy="269.27" r="2.25" fill="#1c3f78" stroke="#fff" stroke-width="0.75"/>
<circle cx="144" cy="268.32" r="2.25" fill="#1c3f78" stroke="#fff" stroke-width="0.75"/>
<circle cx="149.43" cy="272.66" r="2.25" fill="#1c3f78" stroke="#fff" stroke-width="0.75"/>
<circle cx="154.87" cy="257.74" r="2.25" fill="#1c3f78" stroke="#fff" stroke-width="0.75"/>
<circle cx="160.3" cy="265.6" r="2.25" fill="#1c3f78" stroke="#fff" stroke-width="0.75"/>
<path d="M51.6,271.98 L57.04,272.93 L62.47,272.93 L67.91,272.93 L73.34,265.6 L78.78,264.52 L84.21,266.28 L89.65,259.77 L95.08,271.3 L100.52,269.54 L105.95,253.4 L111.39,246.89 L116.82,213.93 L122.25,215.69 L127.69,203.08 L133.12,213.66 L138.56,227.9 L144,243.22 L149.43,251.63 L154.87,249.6 L160.3,253.67" fill="none" stroke="#bb0a28" stroke-width="1.4" stroke-linejoin="round"/>
<circle cx="51.6" cy="271.98" r="2.25" fill="#bb0a28" stroke="#fff" stroke-width="0.75"/>
<circle cx="57.04" cy="272.93" r="2.25" fill="#bb0a28" stroke="#fff" stroke-width="0.75"/>
<circle cx="62.47" cy="272.93" r="2.25" fill="#bb0a28" stroke="#fff" stroke-width="0.75"/>
<circle cx="67.91" cy="272.93" r="2.25" fill="#bb0a28" stroke="#fff" stroke-width="0.75"/>
<circle cx="73.34" cy="265.6" r="2.25" fill="#bb0a28" stroke="#fff" stroke-width="0.75"/>
<circle cx="78.78" cy="264.52" r="2.25" fill="#bb0a28" stroke="#fff" stroke-width="0.75"/>
<circle cx="84.21" cy="266.28" r="2.25" fill="#bb0a28" stroke="#fff" stroke-width="0.75"/>
<circle cx="89.65" cy="259.77" r="2.25" fill="#bb0a28" stroke="#fff" stroke-width="0.75"/>
<circle cx="95.08" cy="271.3" r="2.25" fill="#bb0a28" stroke="#fff" stroke-width="0.75"/>
<circle cx="100.52" cy="269.54" r="2.25" fill="#bb0a28" stroke="#fff" stroke-width="0.75"/>
<circle cx="105.95" cy="253.4" r="2.25" fill="#bb0a28" stroke="#fff" stroke-width="0.75"/>
<circle cx="111.39" cy="246.89" r="2.25" fill="#bb0a28" stroke="#fff" stroke-width="0.75"/>
<circle cx="116.82" cy="213.93" r="2.25" fill="#bb0a28" stroke="#fff" stroke-width="0.75"/>
<circle cx="122.25" cy="215.69" r="2.25" fill="#bb0a28" stroke="#fff" stroke-width="0.75"/>
<circle cx="127.69" cy="203.08" r="2.25" fill="#bb0a28" stroke="#fff" stroke-width="0.75"/>
<circle cx="133.12" cy="213.66" r="2.25" fill="#bb0a28" stroke="#fff" stroke-width="0.75"/>
<circle cx="138.56" cy="227.9" r="2.25" fill="#bb0a28" stroke="#fff" stroke-width="0.75"/>
<circle cx="144" cy="243.22" r="2.25" fill="#bb0a28" stroke="#fff" stroke-width="0.75"/>
<circle cx="149.43" cy="251.63" r="2.25" fill="#bb0a28" stroke="#fff" stroke-width="0.75"/>
<circle cx="154.87" cy="249.6" r="2.25" fill="#bb0a28" stroke="#fff" stroke-width="0.75"/>
<circle cx="160.3" cy="253.67" r="2.25" fill="#bb0a28" stroke="#fff" stroke-width="0.75"/>
<line x1="46.3" y1="186.9" x2="46.3" y2="280.2" stroke="#111" stroke-width="1.4"/>
<line x1="45.6" y1="279.5" x2="166.2" y2="279.5" stroke="#111" stroke-width="1.4"/>
<line x1="51.6" y1="279.5" x2="51.6" y2="283" stroke="#111" stroke-width="1.25"/>
<text transform="translate(49.7,292.45) scale(0.87,1)" font-size="9.3" text-anchor="middle" font-weight="normal" style="stroke-width:0.14px">−10</text>
<line x1="78.78" y1="279.5" x2="78.78" y2="283" stroke="#111" stroke-width="1.25"/>
<text transform="translate(76.88,292.45) scale(0.87,1)" font-size="9.3" text-anchor="middle" font-weight="normal" style="stroke-width:0.14px">−5</text>
<line x1="105.95" y1="279.5" x2="105.95" y2="283" stroke="#111" stroke-width="1.25"/>
<text transform="translate(105.85,292.45) scale(0.87,1)" font-size="9.3" text-anchor="middle" font-weight="normal" style="stroke-width:0.14px">0</text>
<line x1="133.12" y1="279.5" x2="133.12" y2="283" stroke="#111" stroke-width="1.25"/>
<text transform="translate(133.03,292.45) scale(0.87,1)" font-size="9.3" text-anchor="middle" font-weight="normal" style="stroke-width:0.14px">5</text>
<line x1="160.3" y1="279.5" x2="160.3" y2="283" stroke="#111" stroke-width="1.25"/>
<text transform="translate(160.2,292.45) scale(0.87,1)" font-size="9.3" text-anchor="middle" font-weight="normal" style="stroke-width:0.14px">10</text>
<line x1="42.7" y1="201" x2="46.3" y2="201" stroke="#111" stroke-width="1.15"/>
<text transform="translate(39.7,203.2) scale(0.92,1)" font-size="9.3" text-anchor="end" font-weight="normal" style="stroke-width:0.14px">0.2</text>
<line x1="42.7" y1="220.4" x2="46.3" y2="220.4" stroke="#111" stroke-width="1.15"/>
<text transform="translate(39.7,222.6) scale(0.92,1)" font-size="9.3" text-anchor="end" font-weight="normal" style="stroke-width:0.14px">0.0</text>
<line x1="42.7" y1="239.7" x2="46.3" y2="239.7" stroke="#111" stroke-width="1.15"/>
<text transform="translate(39.7,241.9) scale(0.92,1)" font-size="9.3" text-anchor="end" font-weight="normal" style="stroke-width:0.14px">−0.2</text>
<line x1="42.7" y1="259.1" x2="46.3" y2="259.1" stroke="#111" stroke-width="1.15"/>
<text transform="translate(39.7,261.3) scale(0.92,1)" font-size="9.3" text-anchor="end" font-weight="normal" style="stroke-width:0.14px">−0.4</text>
<line x1="42.7" y1="278.3" x2="46.3" y2="278.3" stroke="#111" stroke-width="1.15"/>
<text transform="translate(39.7,280.5) scale(0.92,1)" font-size="9.3" text-anchor="end" font-weight="normal" style="stroke-width:0.14px">−0.6</text>
<text x="105.75" y="306.3" font-size="10" text-anchor="middle" font-weight="normal" textLength="88.5" lengthAdjust="spacingAndGlyphs" style="stroke-width:0.3px">Day relative to CRS onset</text>
<text transform="translate(16.5,236.9) rotate(-90)" font-size="10.4" text-anchor="middle" style="stroke-width:0.22px" textLength="110" lengthAdjust="spacingAndGlyphs">log<tspan font-size="7.2" dy="2.2">10</tspan><tspan dy="-2.2">(Cytokine levels) (pg/mL)</tspan></text>
<path d="M129.3,187.45 L129.86,188.58 L131.11,188.76 L130.2,189.64 L130.42,190.89 L129.3,190.3 L128.18,190.89 L128.4,189.64 L127.49,188.76 L128.74,188.58 Z" fill="#1a1a1a"/>
<path d="M134.7,187.45 L135.26,188.58 L136.51,188.76 L135.6,189.64 L135.82,190.89 L134.7,190.3 L133.58,190.89 L133.8,189.64 L132.89,188.76 L134.14,188.58 Z" fill="#1a1a1a"/>
<path d="M139.9,187.45 L140.46,188.58 L141.71,188.76 L140.8,189.64 L141.02,190.89 L139.9,190.3 L138.78,190.89 L139,189.64 L138.09,188.76 L139.34,188.58 Z" fill="#1a1a1a"/>
<path d="M145.1,187.45 L145.66,188.58 L146.91,188.76 L146,189.64 L146.22,190.89 L145.1,190.3 L143.98,190.89 L144.2,189.64 L143.29,188.76 L144.54,188.58 Z" fill="#1a1a1a"/>
<path d="M150.3,187.45 L150.86,188.58 L152.11,188.76 L151.2,189.64 L151.42,190.89 L150.3,190.3 L149.18,190.89 L149.4,189.64 L148.49,188.76 L149.74,188.58 Z" fill="#1a1a1a"/>
<text transform="translate(178.11,173.4) scale(0.83,1)" font-size="14.7" text-anchor="start" font-weight="bold" style="fill:#000;stroke:none">E</text>
<text x="275.8" y="182.9" font-size="8.7" text-anchor="middle" font-weight="normal" textLength="17.6" lengthAdjust="spacingAndGlyphs" style="stroke-width:0.14px">IL-13</text>
<line x1="275.25" y1="186.9" x2="275.25" y2="279.5" stroke="#a9a9a9" stroke-width="1.05" stroke-dasharray="4.4,2.35" stroke-dashoffset="1.5"/>
<path d="M221.1,242.14 L226.51,244.17 L231.93,236.04 L237.34,252.31 L242.76,244.17 L248.17,255.02 L253.59,246.21 L259,255.02 L264.42,246.89 L269.83,259.09 L275.25,244.17 L280.66,252.31 L286.08,238.07 L291.5,242.82 L296.91,231.97 L302.32,248.24 L307.74,246.21 L313.15,243.5 L318.57,253.67 L323.99,248.92 L329.4,250.96 L329.4,259.09 L323.99,263.16 L318.57,263.16 L313.15,256.38 L307.74,257.74 L302.32,261.81 L296.91,242.82 L291.5,253.67 L286.08,248.24 L280.66,261.81 L275.25,252.31 L269.83,267.23 L264.42,255.02 L259,263.16 L253.59,253.67 L248.17,261.81 L242.76,252.31 L237.34,259.09 L231.93,245.53 L226.51,252.31 L221.1,257.74 Z" fill="rgba(40,80,140,0.22)" stroke="rgba(40,80,140,0.18)" stroke-width="0.7"/>
<path d="M221.1,273.34 L226.51,239.43 L231.93,245.53 L237.34,256.38 L242.76,229.25 L248.17,233.32 L253.59,240.1 L259,249.6 L264.42,249.6 L269.83,255.02 L275.25,237.39 L280.66,238.75 L286.08,219.76 L291.5,191.28 L296.91,197.38 L302.32,199.41 L307.74,214.33 L313.15,222.47 L318.57,221.12 L323.99,234.68 L329.4,234.68 L329.4,250.96 L323.99,252.31 L318.57,238.75 L313.15,241.46 L307.74,234.68 L302.32,219.76 L296.91,217.05 L291.5,217.05 L286.08,234.68 L280.66,250.96 L275.25,252.31 L269.83,263.16 L264.42,257.74 L259,261.81 L253.59,256.38 L248.17,256.38 L242.76,250.96 L237.34,265.2 L231.93,256.38 L226.51,257.74 L221.1,277.4 Z" fill="rgba(200,30,60,0.22)" stroke="rgba(200,30,60,0.18)" stroke-width="0.7"/>
<path d="M221.1,250.28 L226.51,248.24 L231.93,241.05 L237.34,255.7 L242.76,248.24 L248.17,258.82 L253.59,249.6 L259,259.09 L264.42,250.96 L269.83,263.43 L275.25,248.24 L280.66,257.74 L286.08,243.22 L291.5,248.24 L296.91,236.44 L302.32,254.75 L307.74,251.91 L313.15,250.01 L318.57,258.42 L323.99,255.02 L329.4,254.62" fill="none" stroke="#1c3f78" stroke-width="1.4" stroke-linejoin="round"/>
<circle cx="221.1" cy="250.28" r="2.25" fill="#1c3f78" stroke="#fff" stroke-width="0.75"/>
<circle cx="226.51" cy="248.24" r="2.25" fill="#1c3f78" stroke="#fff" stroke-width="0.75"/>
<circle cx="231.93" cy="241.05" r="2.25" fill="#1c3f78" stroke="#fff" stroke-width="0.75"/>
<circle cx="237.34" cy="255.7" r="2.25" fill="#1c3f78" stroke="#fff" stroke-width="0.75"/>
<circle cx="242.76" cy="248.24" r="2.25" fill="#1c3f78" stroke="#fff" stroke-width="0.75"/>
<circle cx="248.17" cy="258.82" r="2.25" fill="#1c3f78" stroke="#fff" stroke-width="0.75"/>
<circle cx="253.59" cy="249.6" r="2.25" fill="#1c3f78" stroke="#fff" stroke-width="0.75"/>
<circle cx="259" cy="259.09" r="2.25" fill="#1c3f78" stroke="#fff" stroke-width="0.75"/>
<circle cx="264.42" cy="250.96" r="2.25" fill="#1c3f78" stroke="#fff" stroke-width="0.75"/>
<circle cx="269.83" cy="263.43" r="2.25" fill="#1c3f78" stroke="#fff" stroke-width="0.75"/>
<circle cx="275.25" cy="248.24" r="2.25" fill="#1c3f78" stroke="#fff" stroke-width="0.75"/>
<circle cx="280.66" cy="257.74" r="2.25" fill="#1c3f78" stroke="#fff" stroke-width="0.75"/>
<circle cx="286.08" cy="243.22" r="2.25" fill="#1c3f78" stroke="#fff" stroke-width="0.75"/>
<circle cx="291.5" cy="248.24" r="2.25" fill="#1c3f78" stroke="#fff" stroke-width="0.75"/>
<circle cx="296.91" cy="236.44" r="2.25" fill="#1c3f78" stroke="#fff" stroke-width="0.75"/>
<circle cx="302.32" cy="254.75" r="2.25" fill="#1c3f78" stroke="#fff" stroke-width="0.75"/>
<circle cx="307.74" cy="251.91" r="2.25" fill="#1c3f78" stroke="#fff" stroke-width="0.75"/>
<circle cx="313.15" cy="250.01" r="2.25" fill="#1c3f78" stroke="#fff" stroke-width="0.75"/>
<circle cx="318.57" cy="258.42" r="2.25" fill="#1c3f78" stroke="#fff" stroke-width="0.75"/>
<circle cx="323.99" cy="255.02" r="2.25" fill="#1c3f78" stroke="#fff" stroke-width="0.75"/>
<circle cx="329.4" cy="254.62" r="2.25" fill="#1c3f78" stroke="#fff" stroke-width="0.75"/>
<path d="M221.1,275.37 L226.51,248.51 L231.93,250.68 L237.34,261.13 L242.76,239.43 L248.17,246.48 L253.59,246.48 L259,255.7 L264.42,253.67 L269.83,259.09 L275.25,245.26 L280.66,245.26 L286.08,225.86 L291.5,203.75 L296.91,207.82 L302.32,209.18 L307.74,223.83 L313.15,233.05 L318.57,229.53 L323.99,244.45 L329.4,243.22" fill="none" stroke="#bb0a28" stroke-width="1.4" stroke-linejoin="round"/>
<circle cx="221.1" cy="275.37" r="2.25" fill="#bb0a28" stroke="#fff" stroke-width="0.75"/>
<circle cx="226.51" cy="248.51" r="2.25" fill="#bb0a28" stroke="#fff" stroke-width="0.75"/>
<circle cx="231.93" cy="250.68" r="2.25" fill="#bb0a28" stroke="#fff" stroke-width="0.75"/>
<circle cx="237.34" cy="261.13" r="2.25" fill="#bb0a28" stroke="#fff" stroke-width="0.75"/>
<circle cx="242.76" cy="239.43" r="2.25" fill="#bb0a28" stroke="#fff" stroke-width="0.75"/>
<circle cx="248.17" cy="246.48" r="2.25" fill="#bb0a28" stroke="#fff" stroke-width="0.75"/>
<circle cx="253.59" cy="246.48" r="2.25" fill="#bb0a28" stroke="#fff" stroke-width="0.75"/>
<circle cx="259" cy="255.7" r="2.25" fill="#bb0a28" stroke="#fff" stroke-width="0.75"/>
<circle cx="264.42" cy="253.67" r="2.25" fill="#bb0a28" stroke="#fff" stroke-width="0.75"/>
<circle cx="269.83" cy="259.09" r="2.25" fill="#bb0a28" stroke="#fff" stroke-width="0.75"/>
<circle cx="275.25" cy="245.26" r="2.25" fill="#bb0a28" stroke="#fff" stroke-width="0.75"/>
<circle cx="280.66" cy="245.26" r="2.25" fill="#bb0a28" stroke="#fff" stroke-width="0.75"/>
<circle cx="286.08" cy="225.86" r="2.25" fill="#bb0a28" stroke="#fff" stroke-width="0.75"/>
<circle cx="291.5" cy="203.75" r="2.25" fill="#bb0a28" stroke="#fff" stroke-width="0.75"/>
<circle cx="296.91" cy="207.82" r="2.25" fill="#bb0a28" stroke="#fff" stroke-width="0.75"/>
<circle cx="302.32" cy="209.18" r="2.25" fill="#bb0a28" stroke="#fff" stroke-width="0.75"/>
<circle cx="307.74" cy="223.83" r="2.25" fill="#bb0a28" stroke="#fff" stroke-width="0.75"/>
<circle cx="313.15" cy="233.05" r="2.25" fill="#bb0a28" stroke="#fff" stroke-width="0.75"/>
<circle cx="318.57" cy="229.53" r="2.25" fill="#bb0a28" stroke="#fff" stroke-width="0.75"/>
<circle cx="323.99" cy="244.45" r="2.25" fill="#bb0a28" stroke="#fff" stroke-width="0.75"/>
<circle cx="329.4" cy="243.22" r="2.25" fill="#bb0a28" stroke="#fff" stroke-width="0.75"/>
<line x1="215.4" y1="186.9" x2="215.4" y2="280.2" stroke="#111" stroke-width="1.4"/>
<line x1="214.7" y1="279.5" x2="336.2" y2="279.5" stroke="#111" stroke-width="1.4"/>
<line x1="221.1" y1="279.5" x2="221.1" y2="283" stroke="#111" stroke-width="1.25"/>
<text transform="translate(219.2,292.45) scale(0.87,1)" font-size="9.3" text-anchor="middle" font-weight="normal" style="stroke-width:0.14px">−10</text>
<line x1="248.17" y1="279.5" x2="248.17" y2="283" stroke="#111" stroke-width="1.25"/>
<text transform="translate(246.27,292.45) scale(0.87,1)" font-size="9.3" text-anchor="middle" font-weight="normal" style="stroke-width:0.14px">−5</text>
<line x1="275.25" y1="279.5" x2="275.25" y2="283" stroke="#111" stroke-width="1.25"/>
<text transform="translate(275.15,292.45) scale(0.87,1)" font-size="9.3" text-anchor="middle" font-weight="normal" style="stroke-width:0.14px">0</text>
<line x1="302.32" y1="279.5" x2="302.32" y2="283" stroke="#111" stroke-width="1.25"/>
<text transform="translate(302.22,292.45) scale(0.87,1)" font-size="9.3" text-anchor="middle" font-weight="normal" style="stroke-width:0.14px">5</text>
<line x1="329.4" y1="279.5" x2="329.4" y2="283" stroke="#111" stroke-width="1.25"/>
<text transform="translate(329.3,292.45) scale(0.87,1)" font-size="9.3" text-anchor="middle" font-weight="normal" style="stroke-width:0.14px">10</text>
<line x1="211.8" y1="189.2" x2="215.4" y2="189.2" stroke="#111" stroke-width="1.15"/>
<text transform="translate(208.8,191.4) scale(0.92,1)" font-size="9.3" text-anchor="end" font-weight="normal" style="stroke-width:0.14px">0.4</text>
<line x1="211.8" y1="206.9" x2="215.4" y2="206.9" stroke="#111" stroke-width="1.15"/>
<text transform="translate(208.8,209.1) scale(0.92,1)" font-size="9.3" text-anchor="end" font-weight="normal" style="stroke-width:0.14px">0.2</text>
<line x1="211.8" y1="224.2" x2="215.4" y2="224.2" stroke="#111" stroke-width="1.15"/>
<text transform="translate(208.8,226.4) scale(0.92,1)" font-size="9.3" text-anchor="end" font-weight="normal" style="stroke-width:0.14px">0.0</text>
<line x1="211.8" y1="241.5" x2="215.4" y2="241.5" stroke="#111" stroke-width="1.15"/>
<text transform="translate(208.8,243.7) scale(0.92,1)" font-size="9.3" text-anchor="end" font-weight="normal" style="stroke-width:0.14px">−0.2</text>
<line x1="211.8" y1="258.7" x2="215.4" y2="258.7" stroke="#111" stroke-width="1.15"/>
<text transform="translate(208.8,260.9) scale(0.92,1)" font-size="9.3" text-anchor="end" font-weight="normal" style="stroke-width:0.14px">−0.4</text>
<line x1="211.8" y1="275.6" x2="215.4" y2="275.6" stroke="#111" stroke-width="1.15"/>
<text transform="translate(208.8,277.8) scale(0.92,1)" font-size="9.3" text-anchor="end" font-weight="normal" style="stroke-width:0.14px">−0.6</text>
<text x="273" y="306.3" font-size="10" text-anchor="middle" font-weight="normal" textLength="88.5" lengthAdjust="spacingAndGlyphs" style="stroke-width:0.3px">Day relative to CRS onset</text>
<text transform="translate(186.7,236) rotate(-90)" font-size="10.4" text-anchor="middle" style="stroke-width:0.22px" textLength="110" lengthAdjust="spacingAndGlyphs">log<tspan font-size="7.2" dy="2.2">10</tspan><tspan dy="-2.2">(Cytokine levels) (pg/mL)</tspan></text>
<path d="M305,188.15 L305.56,189.28 L306.81,189.46 L305.9,190.34 L306.12,191.59 L305,191 L303.88,191.59 L304.1,190.34 L303.19,189.46 L304.44,189.28 Z" fill="#1a1a1a"/>
<path d="M310.1,188.15 L310.66,189.28 L311.91,189.46 L311,190.34 L311.22,191.59 L310.1,191 L308.98,191.59 L309.2,190.34 L308.29,189.46 L309.54,189.28 Z" fill="#1a1a1a"/>
<path d="M319.4,188.15 L319.96,189.28 L321.21,189.46 L320.3,190.34 L320.52,191.59 L319.4,191 L318.28,191.59 L318.5,190.34 L317.59,189.46 L318.84,189.28 Z" fill="#1a1a1a"/>
<text transform="translate(347.67,173.4) scale(0.98,1)" font-size="14.7" text-anchor="start" font-weight="bold" style="fill:#000;stroke:none">F</text>
<text x="445.3" y="182.9" font-size="8.7" text-anchor="middle" font-weight="normal" textLength="31.7" lengthAdjust="spacingAndGlyphs" style="stroke-width:0.14px">GM-CSF</text>
<line x1="445.6" y1="186.9" x2="445.6" y2="279.5" stroke="#a9a9a9" stroke-width="1.05" stroke-dasharray="4.4,2.35" stroke-dashoffset="1.5"/>
<path d="M391.5,191.28 L396.91,210.27 L402.32,206.87 L407.73,215.69 L413.14,211.62 L418.55,236.04 L423.96,228.58 L429.37,240.1 L434.78,227.22 L440.19,238.75 L445.6,225.18 L451.01,231.97 L456.42,219.76 L461.83,225.18 L467.24,229.25 L472.65,242.82 L478.06,249.6 L483.47,255.02 L488.88,256.38 L494.29,268.59 L499.7,260.45 L499.7,271.3 L494.29,275.37 L488.88,272.66 L483.47,271.3 L478.06,264.52 L472.65,263.16 L467.24,250.96 L461.83,248.24 L456.42,240.1 L451.01,250.96 L445.6,244.17 L440.19,259.09 L434.78,250.96 L429.37,259.09 L423.96,250.96 L418.55,256.38 L413.14,240.1 L407.73,237.39 L402.32,238.75 L396.91,230.61 L391.5,249.6 Z" fill="rgba(40,80,140,0.22)" stroke="rgba(40,80,140,0.18)" stroke-width="0.7"/>
<path d="M391.5,265.88 L396.91,230.61 L402.32,238.75 L407.73,229.25 L413.14,237.39 L418.55,238.75 L423.96,242.82 L429.37,237.39 L434.78,248.24 L440.19,242.82 L445.6,229.25 L451.01,223.83 L456.42,196.02 L461.83,198.74 L467.24,206.2 L472.65,215.69 L478.06,234.68 L483.47,252.31 L488.88,250.96 L494.29,260.45 L499.7,252.31 L499.7,264.52 L494.29,269.94 L488.88,263.16 L483.47,265.88 L478.06,253.67 L472.65,237.39 L467.24,230.61 L461.83,227.9 L456.42,231.97 L451.01,248.24 L445.6,253.67 L440.19,263.16 L434.78,267.23 L429.37,256.38 L423.96,264.52 L418.55,261.81 L413.14,259.09 L407.73,250.96 L402.32,267.23 L396.91,269.94 L391.5,269.94 Z" fill="rgba(200,30,60,0.22)" stroke="rgba(200,30,60,0.18)" stroke-width="0.7"/>
<path d="M391.5,220.44 L396.91,222.74 L402.32,221.12 L407.73,227.63 L413.14,225.46 L418.55,247.56 L423.96,238.07 L429.37,252.31 L434.78,236.99 L440.19,248.65 L445.6,233.32 L451.01,242.14 L456.42,226.27 L461.83,233.05 L467.24,236.31 L472.65,251.23 L478.06,257.33 L483.47,263.16 L488.88,264.52 L494.29,272.66 L499.7,265.6" fill="none" stroke="#1c3f78" stroke-width="1.4" stroke-linejoin="round"/>
<circle cx="391.5" cy="220.44" r="2.25" fill="#1c3f78" stroke="#fff" stroke-width="0.75"/>
<circle cx="396.91" cy="222.74" r="2.25" fill="#1c3f78" stroke="#fff" stroke-width="0.75"/>
<circle cx="402.32" cy="221.12" r="2.25" fill="#1c3f78" stroke="#fff" stroke-width="0.75"/>
<circle cx="407.73" cy="227.63" r="2.25" fill="#1c3f78" stroke="#fff" stroke-width="0.75"/>
<circle cx="413.14" cy="225.46" r="2.25" fill="#1c3f78" stroke="#fff" stroke-width="0.75"/>
<circle cx="418.55" cy="247.56" r="2.25" fill="#1c3f78" stroke="#fff" stroke-width="0.75"/>
<circle cx="423.96" cy="238.07" r="2.25" fill="#1c3f78" stroke="#fff" stroke-width="0.75"/>
<circle cx="429.37" cy="252.31" r="2.25" fill="#1c3f78" stroke="#fff" stroke-width="0.75"/>
<circle cx="434.78" cy="236.99" r="2.25" fill="#1c3f78" stroke="#fff" stroke-width="0.75"/>
<circle cx="440.19" cy="248.65" r="2.25" fill="#1c3f78" stroke="#fff" stroke-width="0.75"/>
<circle cx="445.6" cy="233.32" r="2.25" fill="#1c3f78" stroke="#fff" stroke-width="0.75"/>
<circle cx="451.01" cy="242.14" r="2.25" fill="#1c3f78" stroke="#fff" stroke-width="0.75"/>
<circle cx="456.42" cy="226.27" r="2.25" fill="#1c3f78" stroke="#fff" stroke-width="0.75"/>
<circle cx="461.83" cy="233.05" r="2.25" fill="#1c3f78" stroke="#fff" stroke-width="0.75"/>
<circle cx="467.24" cy="236.31" r="2.25" fill="#1c3f78" stroke="#fff" stroke-width="0.75"/>
<circle cx="472.65" cy="251.23" r="2.25" fill="#1c3f78" stroke="#fff" stroke-width="0.75"/>
<circle cx="478.06" cy="257.33" r="2.25" fill="#1c3f78" stroke="#fff" stroke-width="0.75"/>
<circle cx="483.47" cy="263.16" r="2.25" fill="#1c3f78" stroke="#fff" stroke-width="0.75"/>
<circle cx="488.88" cy="264.52" r="2.25" fill="#1c3f78" stroke="#fff" stroke-width="0.75"/>
<circle cx="494.29" cy="272.66" r="2.25" fill="#1c3f78" stroke="#fff" stroke-width="0.75"/>
<circle cx="499.7" cy="265.6" r="2.25" fill="#1c3f78" stroke="#fff" stroke-width="0.75"/>
<path d="M391.5,267.91 L396.91,251.23 L402.32,258.42 L407.73,238.75 L413.14,245.8 L418.55,249.33 L423.96,256.11 L429.37,245.8 L434.78,260.18 L440.19,256.11 L445.6,241.87 L451.01,236.71 L456.42,215.42 L461.83,216.37 L467.24,220.03 L472.65,226.54 L478.06,243.77 L483.47,260.18 L488.88,258.42 L494.29,266.55 L499.7,258.42" fill="none" stroke="#bb0a28" stroke-width="1.4" stroke-linejoin="round"/>
<circle cx="391.5" cy="267.91" r="2.25" fill="#bb0a28" stroke="#fff" stroke-width="0.75"/>
<circle cx="396.91" cy="251.23" r="2.25" fill="#bb0a28" stroke="#fff" stroke-width="0.75"/>
<circle cx="402.32" cy="258.42" r="2.25" fill="#bb0a28" stroke="#fff" stroke-width="0.75"/>
<circle cx="407.73" cy="238.75" r="2.25" fill="#bb0a28" stroke="#fff" stroke-width="0.75"/>
<circle cx="413.14" cy="245.8" r="2.25" fill="#bb0a28" stroke="#fff" stroke-width="0.75"/>
<circle cx="418.55" cy="249.33" r="2.25" fill="#bb0a28" stroke="#fff" stroke-width="0.75"/>
<circle cx="423.96" cy="256.11" r="2.25" fill="#bb0a28" stroke="#fff" stroke-width="0.75"/>
<circle cx="429.37" cy="245.8" r="2.25" fill="#bb0a28" stroke="#fff" stroke-width="0.75"/>
<circle cx="434.78" cy="260.18" r="2.25" fill="#bb0a28" stroke="#fff" stroke-width="0.75"/>
<circle cx="440.19" cy="256.11" r="2.25" fill="#bb0a28" stroke="#fff" stroke-width="0.75"/>
<circle cx="445.6" cy="241.87" r="2.25" fill="#bb0a28" stroke="#fff" stroke-width="0.75"/>
<circle cx="451.01" cy="236.71" r="2.25" fill="#bb0a28" stroke="#fff" stroke-width="0.75"/>
<circle cx="456.42" cy="215.42" r="2.25" fill="#bb0a28" stroke="#fff" stroke-width="0.75"/>
<circle cx="461.83" cy="216.37" r="2.25" fill="#bb0a28" stroke="#fff" stroke-width="0.75"/>
<circle cx="467.24" cy="220.03" r="2.25" fill="#bb0a28" stroke="#fff" stroke-width="0.75"/>
<circle cx="472.65" cy="226.54" r="2.25" fill="#bb0a28" stroke="#fff" stroke-width="0.75"/>
<circle cx="478.06" cy="243.77" r="2.25" fill="#bb0a28" stroke="#fff" stroke-width="0.75"/>
<circle cx="483.47" cy="260.18" r="2.25" fill="#bb0a28" stroke="#fff" stroke-width="0.75"/>
<circle cx="488.88" cy="258.42" r="2.25" fill="#bb0a28" stroke="#fff" stroke-width="0.75"/>
<circle cx="494.29" cy="266.55" r="2.25" fill="#bb0a28" stroke="#fff" stroke-width="0.75"/>
<circle cx="499.7" cy="258.42" r="2.25" fill="#bb0a28" stroke="#fff" stroke-width="0.75"/>
<line x1="385.8" y1="186.9" x2="385.8" y2="280.2" stroke="#111" stroke-width="1.4"/>
<line x1="385.1" y1="279.5" x2="505.7" y2="279.5" stroke="#111" stroke-width="1.4"/>
<line x1="391.5" y1="279.5" x2="391.5" y2="283" stroke="#111" stroke-width="1.25"/>
<text transform="translate(389.6,292.45) scale(0.87,1)" font-size="9.3" text-anchor="middle" font-weight="normal" style="stroke-width:0.14px">−10</text>
<line x1="418.55" y1="279.5" x2="418.55" y2="283" stroke="#111" stroke-width="1.25"/>
<text transform="translate(416.65,292.45) scale(0.87,1)" font-size="9.3" text-anchor="middle" font-weight="normal" style="stroke-width:0.14px">−5</text>
<line x1="445.6" y1="279.5" x2="445.6" y2="283" stroke="#111" stroke-width="1.25"/>
<text transform="translate(445.5,292.45) scale(0.87,1)" font-size="9.3" text-anchor="middle" font-weight="normal" style="stroke-width:0.14px">0</text>
<line x1="472.65" y1="279.5" x2="472.65" y2="283" stroke="#111" stroke-width="1.25"/>
<text transform="translate(472.55,292.45) scale(0.87,1)" font-size="9.3" text-anchor="middle" font-weight="normal" style="stroke-width:0.14px">5</text>
<line x1="499.7" y1="279.5" x2="499.7" y2="283" stroke="#111" stroke-width="1.25"/>
<text transform="translate(499.6,292.45) scale(0.87,1)" font-size="9.3" text-anchor="middle" font-weight="normal" style="stroke-width:0.14px">10</text>
<line x1="382.2" y1="207.3" x2="385.8" y2="207.3" stroke="#111" stroke-width="1.15"/>
<text transform="translate(379.2,209.5) scale(0.92,1)" font-size="9.3" text-anchor="end" font-weight="normal" style="stroke-width:0.14px">0.2</text>
<line x1="382.2" y1="233.3" x2="385.8" y2="233.3" stroke="#111" stroke-width="1.15"/>
<text transform="translate(379.2,235.5) scale(0.92,1)" font-size="9.3" text-anchor="end" font-weight="normal" style="stroke-width:0.14px">0.0</text>
<line x1="382.2" y1="259.4" x2="385.8" y2="259.4" stroke="#111" stroke-width="1.15"/>
<text transform="translate(379.2,261.6) scale(0.92,1)" font-size="9.3" text-anchor="end" font-weight="normal" style="stroke-width:0.14px">−0.2</text>
<text x="444.25" y="306.3" font-size="10" text-anchor="middle" font-weight="normal" textLength="88.5" lengthAdjust="spacingAndGlyphs" style="stroke-width:0.3px">Day relative to CRS onset</text>
<text transform="translate(356.7,232.5) rotate(-90)" font-size="10.4" text-anchor="middle" style="stroke-width:0.22px" textLength="110" lengthAdjust="spacingAndGlyphs">log<tspan font-size="7.2" dy="2.2">10</tspan><tspan dy="-2.2">(Cytokine levels) (pg/mL)</tspan></text>
<path d="M474.7,189.05 L475.26,190.18 L476.51,190.36 L475.6,191.24 L475.82,192.49 L474.7,191.9 L473.58,192.49 L473.8,191.24 L472.89,190.36 L474.14,190.18 Z" fill="#1a1a1a"/>
<text transform="translate(7.47,329) scale(0.99,1)" font-size="14.7" text-anchor="start" font-weight="bold" style="fill:#000;stroke:none">G</text>
<text x="106.5" y="345.2" font-size="8.7" text-anchor="middle" font-weight="normal" textLength="13.3" lengthAdjust="spacingAndGlyphs" style="stroke-width:0.14px">IL-6</text>
<line x1="106" y1="349.3" x2="106" y2="441.85" stroke="#a9a9a9" stroke-width="1.05" stroke-dasharray="4.4,2.35" stroke-dashoffset="1.5"/>
<path d="M51.7,419.16 L57.13,417.81 L62.56,413.74 L67.99,423.23 L73.42,413.74 L78.85,419.16 L84.28,418.48 L89.71,417.81 L95.14,415.09 L100.57,413.06 L106,396.1 L111.43,391.36 L116.86,380.51 L122.29,385.93 L127.72,385.25 L133.15,393.39 L138.58,401.53 L144.01,406.96 L149.44,409.67 L154.87,397.46 L160.3,408.31 L160.3,419.16 L154.87,408.31 L149.44,419.16 L144.01,416.45 L138.58,411.02 L133.15,402.89 L127.72,394.75 L122.29,397.46 L116.86,387.97 L111.43,398.82 L106,404.24 L100.57,419.16 L95.14,421.2 L89.71,424.59 L84.28,424.59 L78.85,425.27 L73.42,420.52 L67.99,430.01 L62.56,420.52 L57.13,428.66 L51.7,438.15 Z" fill="rgba(40,80,140,0.22)" stroke="rgba(40,80,140,0.18)" stroke-width="0.7"/>
<path d="M51.7,415.77 L57.13,411.02 L62.56,409.67 L67.99,413.74 L73.42,404.24 L78.85,415.09 L84.28,413.74 L89.71,413.06 L95.14,412.38 L100.57,408.31 L106,389.32 L111.43,385.25 L116.86,360.16 L122.29,358.81 L127.72,356.09 L133.15,354.06 L138.58,361.52 L144.01,375.08 L149.44,375.08 L154.87,385.25 L160.3,383.22 L160.3,393.39 L154.87,394.75 L149.44,387.97 L144.01,388.64 L138.58,374.4 L133.15,366.94 L127.72,368.98 L122.29,374.4 L116.86,373.05 L111.43,394.75 L106,398.82 L100.57,413.74 L95.14,419.16 L89.71,421.88 L84.28,423.23 L78.85,424.59 L73.42,413.74 L67.99,420.52 L62.56,419.16 L57.13,417.81 L51.7,421.2 Z" fill="rgba(200,30,60,0.22)" stroke="rgba(200,30,60,0.18)" stroke-width="0.7"/>
<path d="M51.7,426.89 L57.13,422.55 L62.56,416.72 L67.99,426.62 L73.42,417.4 L78.85,422.55 L84.28,421.2 L89.71,420.79 L95.14,418.48 L100.57,416.45 L106,400.17 L111.43,395.02 L116.86,384.3 L122.29,391.76 L127.72,390 L133.15,398.41 L138.58,406.28 L144.01,411.7 L149.44,415.09 L154.87,402.89 L160.3,413.74" fill="none" stroke="#1c3f78" stroke-width="1.4" stroke-linejoin="round"/>
<circle cx="51.7" cy="426.89" r="2.25" fill="#1c3f78" stroke="#fff" stroke-width="0.75"/>
<circle cx="57.13" cy="422.55" r="2.25" fill="#1c3f78" stroke="#fff" stroke-width="0.75"/>
<circle cx="62.56" cy="416.72" r="2.25" fill="#1c3f78" stroke="#fff" stroke-width="0.75"/>
<circle cx="67.99" cy="426.62" r="2.25" fill="#1c3f78" stroke="#fff" stroke-width="0.75"/>
<circle cx="73.42" cy="417.4" r="2.25" fill="#1c3f78" stroke="#fff" stroke-width="0.75"/>
<circle cx="78.85" cy="422.55" r="2.25" fill="#1c3f78" stroke="#fff" stroke-width="0.75"/>
<circle cx="84.28" cy="421.2" r="2.25" fill="#1c3f78" stroke="#fff" stroke-width="0.75"/>
<circle cx="89.71" cy="420.79" r="2.25" fill="#1c3f78" stroke="#fff" stroke-width="0.75"/>
<circle cx="95.14" cy="418.48" r="2.25" fill="#1c3f78" stroke="#fff" stroke-width="0.75"/>
<circle cx="100.57" cy="416.45" r="2.25" fill="#1c3f78" stroke="#fff" stroke-width="0.75"/>
<circle cx="106" cy="400.17" r="2.25" fill="#1c3f78" stroke="#fff" stroke-width="0.75"/>
<circle cx="111.43" cy="395.02" r="2.25" fill="#1c3f78" stroke="#fff" stroke-width="0.75"/>
<circle cx="116.86" cy="384.3" r="2.25" fill="#1c3f78" stroke="#fff" stroke-width="0.75"/>
<circle cx="122.29" cy="391.76" r="2.25" fill="#1c3f78" stroke="#fff" stroke-width="0.75"/>
<circle cx="127.72" cy="390" r="2.25" fill="#1c3f78" stroke="#fff" stroke-width="0.75"/>
<circle cx="133.15" cy="398.41" r="2.25" fill="#1c3f78" stroke="#fff" stroke-width="0.75"/>
<circle cx="138.58" cy="406.28" r="2.25" fill="#1c3f78" stroke="#fff" stroke-width="0.75"/>
<circle cx="144.01" cy="411.7" r="2.25" fill="#1c3f78" stroke="#fff" stroke-width="0.75"/>
<circle cx="149.44" cy="415.09" r="2.25" fill="#1c3f78" stroke="#fff" stroke-width="0.75"/>
<circle cx="154.87" cy="402.89" r="2.25" fill="#1c3f78" stroke="#fff" stroke-width="0.75"/>
<circle cx="160.3" cy="413.74" r="2.25" fill="#1c3f78" stroke="#fff" stroke-width="0.75"/>
<path d="M51.7,418.48 L57.13,414.42 L62.56,415.77 L67.99,417.13 L73.42,408.58 L78.85,420.11 L84.28,418.76 L89.71,417.81 L95.14,416.18 L100.57,411.02 L106,394.75 L111.43,389.73 L116.86,366.94 L122.29,367.21 L127.72,361.92 L133.15,360.16 L138.58,368.03 L144.01,382.27 L149.44,381.59 L154.87,391.09 L160.3,388.64" fill="none" stroke="#bb0a28" stroke-width="1.4" stroke-linejoin="round"/>
<circle cx="51.7" cy="418.48" r="2.25" fill="#bb0a28" stroke="#fff" stroke-width="0.75"/>
<circle cx="57.13" cy="414.42" r="2.25" fill="#bb0a28" stroke="#fff" stroke-width="0.75"/>
<circle cx="62.56" cy="415.77" r="2.25" fill="#bb0a28" stroke="#fff" stroke-width="0.75"/>
<circle cx="67.99" cy="417.13" r="2.25" fill="#bb0a28" stroke="#fff" stroke-width="0.75"/>
<circle cx="73.42" cy="408.58" r="2.25" fill="#bb0a28" stroke="#fff" stroke-width="0.75"/>
<circle cx="78.85" cy="420.11" r="2.25" fill="#bb0a28" stroke="#fff" stroke-width="0.75"/>
<circle cx="84.28" cy="418.76" r="2.25" fill="#bb0a28" stroke="#fff" stroke-width="0.75"/>
<circle cx="89.71" cy="417.81" r="2.25" fill="#bb0a28" stroke="#fff" stroke-width="0.75"/>
<circle cx="95.14" cy="416.18" r="2.25" fill="#bb0a28" stroke="#fff" stroke-width="0.75"/>
<circle cx="100.57" cy="411.02" r="2.25" fill="#bb0a28" stroke="#fff" stroke-width="0.75"/>
<circle cx="106" cy="394.75" r="2.25" fill="#bb0a28" stroke="#fff" stroke-width="0.75"/>
<circle cx="111.43" cy="389.73" r="2.25" fill="#bb0a28" stroke="#fff" stroke-width="0.75"/>
<circle cx="116.86" cy="366.94" r="2.25" fill="#bb0a28" stroke="#fff" stroke-width="0.75"/>
<circle cx="122.29" cy="367.21" r="2.25" fill="#bb0a28" stroke="#fff" stroke-width="0.75"/>
<circle cx="127.72" cy="361.92" r="2.25" fill="#bb0a28" stroke="#fff" stroke-width="0.75"/>
<circle cx="133.15" cy="360.16" r="2.25" fill="#bb0a28" stroke="#fff" stroke-width="0.75"/>
<circle cx="138.58" cy="368.03" r="2.25" fill="#bb0a28" stroke="#fff" stroke-width="0.75"/>
<circle cx="144.01" cy="382.27" r="2.25" fill="#bb0a28" stroke="#fff" stroke-width="0.75"/>
<circle cx="149.44" cy="381.59" r="2.25" fill="#bb0a28" stroke="#fff" stroke-width="0.75"/>
<circle cx="154.87" cy="391.09" r="2.25" fill="#bb0a28" stroke="#fff" stroke-width="0.75"/>
<circle cx="160.3" cy="388.64" r="2.25" fill="#bb0a28" stroke="#fff" stroke-width="0.75"/>
<line x1="46.3" y1="349.3" x2="46.3" y2="442.55" stroke="#111" stroke-width="1.4"/>
<line x1="45.6" y1="441.85" x2="166.2" y2="441.85" stroke="#111" stroke-width="1.4"/>
<line x1="51.7" y1="441.85" x2="51.7" y2="445.35" stroke="#111" stroke-width="1.25"/>
<text transform="translate(49.8,454.8) scale(0.87,1)" font-size="9.3" text-anchor="middle" font-weight="normal" style="stroke-width:0.14px">−10</text>
<line x1="78.85" y1="441.85" x2="78.85" y2="445.35" stroke="#111" stroke-width="1.25"/>
<text transform="translate(76.95,454.8) scale(0.87,1)" font-size="9.3" text-anchor="middle" font-weight="normal" style="stroke-width:0.14px">−5</text>
<line x1="106" y1="441.85" x2="106" y2="445.35" stroke="#111" stroke-width="1.25"/>
<text transform="translate(105.9,454.8) scale(0.87,1)" font-size="9.3" text-anchor="middle" font-weight="normal" style="stroke-width:0.14px">0</text>
<line x1="133.15" y1="441.85" x2="133.15" y2="445.35" stroke="#111" stroke-width="1.25"/>
<text transform="translate(133.05,454.8) scale(0.87,1)" font-size="9.3" text-anchor="middle" font-weight="normal" style="stroke-width:0.14px">5</text>
<line x1="160.3" y1="441.85" x2="160.3" y2="445.35" stroke="#111" stroke-width="1.25"/>
<text transform="translate(160.2,454.8) scale(0.87,1)" font-size="9.3" text-anchor="middle" font-weight="normal" style="stroke-width:0.14px">10</text>
<line x1="42.7" y1="351.3" x2="46.3" y2="351.3" stroke="#111" stroke-width="1.15"/>
<text transform="translate(39.7,353.5) scale(0.92,1)" font-size="9.3" text-anchor="end" font-weight="normal" style="stroke-width:0.14px">2.5</text>
<line x1="42.7" y1="369.9" x2="46.3" y2="369.9" stroke="#111" stroke-width="1.15"/>
<text transform="translate(39.7,372.1) scale(0.92,1)" font-size="9.3" text-anchor="end" font-weight="normal" style="stroke-width:0.14px">2.0</text>
<line x1="42.7" y1="387.3" x2="46.3" y2="387.3" stroke="#111" stroke-width="1.15"/>
<text transform="translate(39.7,389.5) scale(0.92,1)" font-size="9.3" text-anchor="end" font-weight="normal" style="stroke-width:0.14px">1.5</text>
<line x1="42.7" y1="404.9" x2="46.3" y2="404.9" stroke="#111" stroke-width="1.15"/>
<text transform="translate(39.7,407.1) scale(0.92,1)" font-size="9.3" text-anchor="end" font-weight="normal" style="stroke-width:0.14px">1.0</text>
<line x1="42.7" y1="422.4" x2="46.3" y2="422.4" stroke="#111" stroke-width="1.15"/>
<text transform="translate(39.7,424.6) scale(0.92,1)" font-size="9.3" text-anchor="end" font-weight="normal" style="stroke-width:0.14px">0.5</text>
<line x1="42.7" y1="439.8" x2="46.3" y2="439.8" stroke="#111" stroke-width="1.15"/>
<text transform="translate(39.7,442) scale(0.92,1)" font-size="9.3" text-anchor="end" font-weight="normal" style="stroke-width:0.14px">0.0</text>
<text x="105.75" y="468.7" font-size="10" text-anchor="middle" font-weight="normal" textLength="88.5" lengthAdjust="spacingAndGlyphs" style="stroke-width:0.3px">Day relative to CRS onset</text>
<text transform="translate(16.5,391.7) rotate(-90)" font-size="10.4" text-anchor="middle" style="stroke-width:0.22px" textLength="110" lengthAdjust="spacingAndGlyphs">log<tspan font-size="7.2" dy="2.2">10</tspan><tspan dy="-2.2">(Cytokine levels) (pg/mL)</tspan></text>
<path d="M128.8,349.45 L129.36,350.58 L130.61,350.76 L129.7,351.64 L129.92,352.89 L128.8,352.3 L127.68,352.89 L127.9,351.64 L126.99,350.76 L128.24,350.58 Z" fill="#1a1a1a"/>
<path d="M134,349.45 L134.56,350.58 L135.81,350.76 L134.9,351.64 L135.12,352.89 L134,352.3 L132.88,352.89 L133.1,351.64 L132.19,350.76 L133.44,350.58 Z" fill="#1a1a1a"/>
<path d="M139.5,349.45 L140.06,350.58 L141.31,350.76 L140.4,351.64 L140.62,352.89 L139.5,352.3 L138.38,352.89 L138.6,351.64 L137.69,350.76 L138.94,350.58 Z" fill="#1a1a1a"/>
<path d="M144.8,349.45 L145.36,350.58 L146.61,350.76 L145.7,351.64 L145.92,352.89 L144.8,352.3 L143.68,352.89 L143.9,351.64 L142.99,350.76 L144.24,350.58 Z" fill="#1a1a1a"/>
<path d="M149.8,349.45 L150.36,350.58 L151.61,350.76 L150.7,351.64 L150.92,352.89 L149.8,352.3 L148.68,352.89 L148.9,351.64 L147.99,350.76 L149.24,350.58 Z" fill="#1a1a1a"/>
<path d="M163,349.45 L163.56,350.58 L164.81,350.76 L163.9,351.64 L164.12,352.89 L163,352.3 L161.88,352.89 L162.1,351.64 L161.19,350.76 L162.44,350.58 Z" fill="#1a1a1a"/>
<text transform="translate(177.92,329) scale(1.03,1)" font-size="14.7" text-anchor="start" font-weight="bold" style="fill:#000;stroke:none">H</text>
<text x="276" y="345.2" font-size="8.7" text-anchor="middle" font-weight="normal" textLength="44.5" lengthAdjust="spacingAndGlyphs" style="stroke-width:0.14px">MIP-1 alpha</text>
<line x1="275.25" y1="349.3" x2="275.25" y2="441.85" stroke="#a9a9a9" stroke-width="1.05" stroke-dasharray="4.4,2.35" stroke-dashoffset="1.5"/>
<path d="M221.1,411.02 L226.51,412.38 L231.93,413.74 L237.34,415.09 L242.76,423.23 L248.17,413.74 L253.59,415.09 L259,416.45 L264.42,416.45 L269.83,412.38 L275.25,400.17 L280.66,394.75 L286.08,392.04 L291.5,394.75 L296.91,389.32 L302.32,396.1 L307.74,405.6 L313.15,394.75 L318.57,406.96 L323.99,387.97 L329.4,387.97 L329.4,415.77 L323.99,415.09 L318.57,417.81 L313.15,409.67 L307.74,415.09 L302.32,412.38 L296.91,400.17 L291.5,409.67 L286.08,404.24 L280.66,406.96 L275.25,409.67 L269.83,419.16 L264.42,421.88 L259,421.2 L253.59,423.23 L248.17,425.94 L242.76,431.37 L237.34,427.3 L231.93,424.59 L226.51,424.59 L221.1,425.94 Z" fill="rgba(40,80,140,0.22)" stroke="rgba(40,80,140,0.18)" stroke-width="0.7"/>
<path d="M221.1,436.12 L226.51,417.81 L231.93,423.23 L237.34,427.98 L242.76,423.23 L248.17,420.52 L253.59,413.74 L259,412.38 L264.42,424.59 L269.83,417.81 L275.25,396.1 L280.66,391.36 L286.08,363.55 L291.5,358.13 L296.91,354.06 L302.32,354.74 L307.74,363.55 L313.15,367.62 L318.57,370.33 L323.99,379.83 L329.4,386.61 L329.4,397.46 L323.99,390.68 L318.57,385.25 L313.15,381.18 L307.74,377.12 L302.32,367.62 L296.91,368.98 L291.5,375.76 L286.08,382.54 L280.66,404.24 L275.25,411.02 L269.83,425.94 L264.42,431.37 L259,428.66 L253.59,428.66 L248.17,434.08 L242.76,431.37 L237.34,434.08 L231.93,430.01 L226.51,427.3 L221.1,439.51 Z" fill="rgba(200,30,60,0.22)" stroke="rgba(200,30,60,0.18)" stroke-width="0.7"/>
<path d="M221.1,418.48 L226.51,418.21 L231.93,419.43 L237.34,422.15 L242.76,427.57 L248.17,419.84 L253.59,419.43 L259,418.89 L264.42,419.43 L269.83,416.86 L275.25,405.87 L280.66,402.21 L286.08,397.46 L291.5,402.21 L296.91,394.48 L302.32,404.24 L307.74,411.7 L313.15,401.94 L318.57,413.33 L323.99,398.55 L329.4,404.92" fill="none" stroke="#1c3f78" stroke-width="1.4" stroke-linejoin="round"/>
<circle cx="221.1" cy="418.48" r="2.25" fill="#1c3f78" stroke="#fff" stroke-width="0.75"/>
<circle cx="226.51" cy="418.21" r="2.25" fill="#1c3f78" stroke="#fff" stroke-width="0.75"/>
<circle cx="231.93" cy="419.43" r="2.25" fill="#1c3f78" stroke="#fff" stroke-width="0.75"/>
<circle cx="237.34" cy="422.15" r="2.25" fill="#1c3f78" stroke="#fff" stroke-width="0.75"/>
<circle cx="242.76" cy="427.57" r="2.25" fill="#1c3f78" stroke="#fff" stroke-width="0.75"/>
<circle cx="248.17" cy="419.84" r="2.25" fill="#1c3f78" stroke="#fff" stroke-width="0.75"/>
<circle cx="253.59" cy="419.43" r="2.25" fill="#1c3f78" stroke="#fff" stroke-width="0.75"/>
<circle cx="259" cy="418.89" r="2.25" fill="#1c3f78" stroke="#fff" stroke-width="0.75"/>
<circle cx="264.42" cy="419.43" r="2.25" fill="#1c3f78" stroke="#fff" stroke-width="0.75"/>
<circle cx="269.83" cy="416.86" r="2.25" fill="#1c3f78" stroke="#fff" stroke-width="0.75"/>
<circle cx="275.25" cy="405.87" r="2.25" fill="#1c3f78" stroke="#fff" stroke-width="0.75"/>
<circle cx="280.66" cy="402.21" r="2.25" fill="#1c3f78" stroke="#fff" stroke-width="0.75"/>
<circle cx="286.08" cy="397.46" r="2.25" fill="#1c3f78" stroke="#fff" stroke-width="0.75"/>
<circle cx="291.5" cy="402.21" r="2.25" fill="#1c3f78" stroke="#fff" stroke-width="0.75"/>
<circle cx="296.91" cy="394.48" r="2.25" fill="#1c3f78" stroke="#fff" stroke-width="0.75"/>
<circle cx="302.32" cy="404.24" r="2.25" fill="#1c3f78" stroke="#fff" stroke-width="0.75"/>
<circle cx="307.74" cy="411.7" r="2.25" fill="#1c3f78" stroke="#fff" stroke-width="0.75"/>
<circle cx="313.15" cy="401.94" r="2.25" fill="#1c3f78" stroke="#fff" stroke-width="0.75"/>
<circle cx="318.57" cy="413.33" r="2.25" fill="#1c3f78" stroke="#fff" stroke-width="0.75"/>
<circle cx="323.99" cy="398.55" r="2.25" fill="#1c3f78" stroke="#fff" stroke-width="0.75"/>
<circle cx="329.4" cy="404.92" r="2.25" fill="#1c3f78" stroke="#fff" stroke-width="0.75"/>
<path d="M221.1,437.74 L226.51,422.82 L231.93,427.03 L237.34,431.37 L242.76,427.3 L248.17,427.3 L253.59,421.6 L259,420.93 L264.42,427.98 L269.83,422.15 L275.25,406.28 L280.66,398.14 L286.08,373.32 L291.5,367.89 L296.91,361.11 L302.32,361.52 L307.74,370.06 L313.15,375.08 L318.57,377.39 L323.99,385.53 L329.4,392.04" fill="none" stroke="#bb0a28" stroke-width="1.4" stroke-linejoin="round"/>
<circle cx="221.1" cy="437.74" r="2.25" fill="#bb0a28" stroke="#fff" stroke-width="0.75"/>
<circle cx="226.51" cy="422.82" r="2.25" fill="#bb0a28" stroke="#fff" stroke-width="0.75"/>
<circle cx="231.93" cy="427.03" r="2.25" fill="#bb0a28" stroke="#fff" stroke-width="0.75"/>
<circle cx="237.34" cy="431.37" r="2.25" fill="#bb0a28" stroke="#fff" stroke-width="0.75"/>
<circle cx="242.76" cy="427.3" r="2.25" fill="#bb0a28" stroke="#fff" stroke-width="0.75"/>
<circle cx="248.17" cy="427.3" r="2.25" fill="#bb0a28" stroke="#fff" stroke-width="0.75"/>
<circle cx="253.59" cy="421.6" r="2.25" fill="#bb0a28" stroke="#fff" stroke-width="0.75"/>
<circle cx="259" cy="420.93" r="2.25" fill="#bb0a28" stroke="#fff" stroke-width="0.75"/>
<circle cx="264.42" cy="427.98" r="2.25" fill="#bb0a28" stroke="#fff" stroke-width="0.75"/>
<circle cx="269.83" cy="422.15" r="2.25" fill="#bb0a28" stroke="#fff" stroke-width="0.75"/>
<circle cx="275.25" cy="406.28" r="2.25" fill="#bb0a28" stroke="#fff" stroke-width="0.75"/>
<circle cx="280.66" cy="398.14" r="2.25" fill="#bb0a28" stroke="#fff" stroke-width="0.75"/>
<circle cx="286.08" cy="373.32" r="2.25" fill="#bb0a28" stroke="#fff" stroke-width="0.75"/>
<circle cx="291.5" cy="367.89" r="2.25" fill="#bb0a28" stroke="#fff" stroke-width="0.75"/>
<circle cx="296.91" cy="361.11" r="2.25" fill="#bb0a28" stroke="#fff" stroke-width="0.75"/>
<circle cx="302.32" cy="361.52" r="2.25" fill="#bb0a28" stroke="#fff" stroke-width="0.75"/>
<circle cx="307.74" cy="370.06" r="2.25" fill="#bb0a28" stroke="#fff" stroke-width="0.75"/>
<circle cx="313.15" cy="375.08" r="2.25" fill="#bb0a28" stroke="#fff" stroke-width="0.75"/>
<circle cx="318.57" cy="377.39" r="2.25" fill="#bb0a28" stroke="#fff" stroke-width="0.75"/>
<circle cx="323.99" cy="385.53" r="2.25" fill="#bb0a28" stroke="#fff" stroke-width="0.75"/>
<circle cx="329.4" cy="392.04" r="2.25" fill="#bb0a28" stroke="#fff" stroke-width="0.75"/>
<line x1="215.4" y1="349.3" x2="215.4" y2="442.55" stroke="#111" stroke-width="1.4"/>
<line x1="214.7" y1="441.85" x2="336.2" y2="441.85" stroke="#111" stroke-width="1.4"/>
<line x1="221.1" y1="441.85" x2="221.1" y2="445.35" stroke="#111" stroke-width="1.25"/>
<text transform="translate(219.2,454.8) scale(0.87,1)" font-size="9.3" text-anchor="middle" font-weight="normal" style="stroke-width:0.14px">−10</text>
<line x1="248.17" y1="441.85" x2="248.17" y2="445.35" stroke="#111" stroke-width="1.25"/>
<text transform="translate(246.27,454.8) scale(0.87,1)" font-size="9.3" text-anchor="middle" font-weight="normal" style="stroke-width:0.14px">−5</text>
<line x1="275.25" y1="441.85" x2="275.25" y2="445.35" stroke="#111" stroke-width="1.25"/>
<text transform="translate(275.15,454.8) scale(0.87,1)" font-size="9.3" text-anchor="middle" font-weight="normal" style="stroke-width:0.14px">0</text>
<line x1="302.32" y1="441.85" x2="302.32" y2="445.35" stroke="#111" stroke-width="1.25"/>
<text transform="translate(302.22,454.8) scale(0.87,1)" font-size="9.3" text-anchor="middle" font-weight="normal" style="stroke-width:0.14px">5</text>
<line x1="329.4" y1="441.85" x2="329.4" y2="445.35" stroke="#111" stroke-width="1.25"/>
<text transform="translate(329.3,454.8) scale(0.87,1)" font-size="9.3" text-anchor="middle" font-weight="normal" style="stroke-width:0.14px">10</text>
<line x1="211.8" y1="353.6" x2="215.4" y2="353.6" stroke="#111" stroke-width="1.15"/>
<text transform="translate(208.8,355.8) scale(0.92,1)" font-size="9.3" text-anchor="end" font-weight="normal" style="stroke-width:0.14px">2.2</text>
<line x1="211.8" y1="373.5" x2="215.4" y2="373.5" stroke="#111" stroke-width="1.15"/>
<text transform="translate(208.8,375.7) scale(0.92,1)" font-size="9.3" text-anchor="end" font-weight="normal" style="stroke-width:0.14px">2.0</text>
<line x1="211.8" y1="393.4" x2="215.4" y2="393.4" stroke="#111" stroke-width="1.15"/>
<text transform="translate(208.8,395.6) scale(0.92,1)" font-size="9.3" text-anchor="end" font-weight="normal" style="stroke-width:0.14px">1.8</text>
<line x1="211.8" y1="413.3" x2="215.4" y2="413.3" stroke="#111" stroke-width="1.15"/>
<text transform="translate(208.8,415.5) scale(0.92,1)" font-size="9.3" text-anchor="end" font-weight="normal" style="stroke-width:0.14px">1.6</text>
<line x1="211.8" y1="433.1" x2="215.4" y2="433.1" stroke="#111" stroke-width="1.15"/>
<text transform="translate(208.8,435.3) scale(0.92,1)" font-size="9.3" text-anchor="end" font-weight="normal" style="stroke-width:0.14px">1.4</text>
<text x="273" y="468.7" font-size="10" text-anchor="middle" font-weight="normal" textLength="88.5" lengthAdjust="spacingAndGlyphs" style="stroke-width:0.3px">Day relative to CRS onset</text>
<text transform="translate(186.7,399.5) rotate(-90)" font-size="10.4" text-anchor="middle" style="stroke-width:0.22px" textLength="110" lengthAdjust="spacingAndGlyphs">log<tspan font-size="7.2" dy="2.2">10</tspan><tspan dy="-2.2">(Cytokine levels) (pg/mL)</tspan></text>
<path d="M293.4,349.95 L293.96,351.08 L295.21,351.26 L294.3,352.14 L294.52,353.39 L293.4,352.8 L292.28,353.39 L292.5,352.14 L291.59,351.26 L292.84,351.08 Z" fill="#1a1a1a"/>
<path d="M298.5,349.95 L299.06,351.08 L300.31,351.26 L299.4,352.14 L299.62,353.39 L298.5,352.8 L297.38,353.39 L297.6,352.14 L296.69,351.26 L297.94,351.08 Z" fill="#1a1a1a"/>
<path d="M303.7,349.95 L304.26,351.08 L305.51,351.26 L304.6,352.14 L304.82,353.39 L303.7,352.8 L302.58,353.39 L302.8,352.14 L301.89,351.26 L303.14,351.08 Z" fill="#1a1a1a"/>
<path d="M308.9,349.95 L309.46,351.08 L310.71,351.26 L309.8,352.14 L310.02,353.39 L308.9,352.8 L307.78,353.39 L308,352.14 L307.09,351.26 L308.34,351.08 Z" fill="#1a1a1a"/>
<path d="M314.1,349.95 L314.66,351.08 L315.91,351.26 L315,352.14 L315.22,353.39 L314.1,352.8 L312.98,353.39 L313.2,352.14 L312.29,351.26 L313.54,351.08 Z" fill="#1a1a1a"/>
<path d="M319.5,349.95 L320.06,351.08 L321.31,351.26 L320.4,352.14 L320.62,353.39 L319.5,352.8 L318.38,353.39 L318.6,352.14 L317.69,351.26 L318.94,351.08 Z" fill="#1a1a1a"/>
<text transform="translate(348,329) scale(0.95,1)" font-size="14.7" text-anchor="start" font-weight="bold" style="fill:#000;stroke:none">I</text>
<text x="445.4" y="345.2" font-size="8.7" text-anchor="middle" font-weight="normal" textLength="18.4" lengthAdjust="spacingAndGlyphs" style="stroke-width:0.14px">IL-15</text>
<line x1="445.6" y1="349.3" x2="445.6" y2="441.85" stroke="#a9a9a9" stroke-width="1.05" stroke-dasharray="4.4,2.35" stroke-dashoffset="1.5"/>
<path d="M391.5,362.87 L396.91,371.69 L402.32,367.62 L407.73,379.83 L413.14,382.54 L418.55,373.05 L423.96,379.83 L429.37,379.83 L434.78,386.61 L440.19,385.25 L445.6,382.54 L451.01,379.83 L456.42,375.76 L461.83,387.97 L467.24,390.68 L472.65,404.24 L478.06,416.45 L483.47,423.23 L488.88,425.94 L494.29,419.16 L499.7,421.88 L499.7,432.73 L494.29,434.08 L488.88,438.15 L483.47,435.44 L478.06,431.37 L472.65,420.52 L467.24,402.89 L461.83,401.53 L456.42,386.61 L451.01,392.04 L445.6,390.68 L440.19,393.39 L434.78,396.1 L429.37,387.97 L423.96,387.97 L418.55,385.25 L413.14,392.71 L407.73,392.04 L402.32,375.76 L396.91,386.61 L391.5,375.76 Z" fill="rgba(40,80,140,0.22)" stroke="rgba(40,80,140,0.18)" stroke-width="0.7"/>
<path d="M391.5,366.27 L396.91,364.23 L402.32,364.23 L407.73,367.62 L413.14,366.27 L418.55,364.91 L423.96,367.62 L429.37,375.76 L434.78,374.4 L440.19,371.69 L445.6,362.2 L451.01,363.55 L456.42,354.06 L461.83,359.48 L467.24,358.81 L472.65,382.54 L478.06,396.1 L483.47,412.38 L488.88,416.45 L494.29,421.2 L499.7,421.2 L499.7,435.44 L494.29,434.08 L488.88,431.37 L483.47,428.66 L478.06,412.38 L472.65,398.82 L467.24,377.12 L461.83,377.12 L456.42,366.27 L451.01,375.76 L445.6,375.76 L440.19,383.9 L434.78,386.61 L429.37,389.32 L423.96,385.25 L418.55,378.47 L413.14,379.83 L407.73,381.18 L402.32,374.4 L396.91,377.12 L391.5,374.4 Z" fill="rgba(200,30,60,0.22)" stroke="rgba(200,30,60,0.18)" stroke-width="0.7"/>
<path d="M391.5,369.66 L396.91,377.12 L402.32,371.69 L407.73,384.58 L413.14,387.97 L418.55,378.47 L423.96,383.9 L429.37,384.58 L434.78,391.36 L440.19,388.64 L445.6,386.88 L451.01,385.25 L456.42,380.91 L461.83,394.34 L467.24,396.78 L472.65,412.79 L478.06,423.91 L483.47,428.93 L488.88,431.37 L494.29,425.94 L499.7,427.57" fill="none" stroke="#1c3f78" stroke-width="1.4" stroke-linejoin="round"/>
<circle cx="391.5" cy="369.66" r="2.25" fill="#1c3f78" stroke="#fff" stroke-width="0.75"/>
<circle cx="396.91" cy="377.12" r="2.25" fill="#1c3f78" stroke="#fff" stroke-width="0.75"/>
<circle cx="402.32" cy="371.69" r="2.25" fill="#1c3f78" stroke="#fff" stroke-width="0.75"/>
<circle cx="407.73" cy="384.58" r="2.25" fill="#1c3f78" stroke="#fff" stroke-width="0.75"/>
<circle cx="413.14" cy="387.97" r="2.25" fill="#1c3f78" stroke="#fff" stroke-width="0.75"/>
<circle cx="418.55" cy="378.47" r="2.25" fill="#1c3f78" stroke="#fff" stroke-width="0.75"/>
<circle cx="423.96" cy="383.9" r="2.25" fill="#1c3f78" stroke="#fff" stroke-width="0.75"/>
<circle cx="429.37" cy="384.58" r="2.25" fill="#1c3f78" stroke="#fff" stroke-width="0.75"/>
<circle cx="434.78" cy="391.36" r="2.25" fill="#1c3f78" stroke="#fff" stroke-width="0.75"/>
<circle cx="440.19" cy="388.64" r="2.25" fill="#1c3f78" stroke="#fff" stroke-width="0.75"/>
<circle cx="445.6" cy="386.88" r="2.25" fill="#1c3f78" stroke="#fff" stroke-width="0.75"/>
<circle cx="451.01" cy="385.25" r="2.25" fill="#1c3f78" stroke="#fff" stroke-width="0.75"/>
<circle cx="456.42" cy="380.91" r="2.25" fill="#1c3f78" stroke="#fff" stroke-width="0.75"/>
<circle cx="461.83" cy="394.34" r="2.25" fill="#1c3f78" stroke="#fff" stroke-width="0.75"/>
<circle cx="467.24" cy="396.78" r="2.25" fill="#1c3f78" stroke="#fff" stroke-width="0.75"/>
<circle cx="472.65" cy="412.79" r="2.25" fill="#1c3f78" stroke="#fff" stroke-width="0.75"/>
<circle cx="478.06" cy="423.91" r="2.25" fill="#1c3f78" stroke="#fff" stroke-width="0.75"/>
<circle cx="483.47" cy="428.93" r="2.25" fill="#1c3f78" stroke="#fff" stroke-width="0.75"/>
<circle cx="488.88" cy="431.37" r="2.25" fill="#1c3f78" stroke="#fff" stroke-width="0.75"/>
<circle cx="494.29" cy="425.94" r="2.25" fill="#1c3f78" stroke="#fff" stroke-width="0.75"/>
<circle cx="499.7" cy="427.57" r="2.25" fill="#1c3f78" stroke="#fff" stroke-width="0.75"/>
<path d="M391.5,371.42 L396.91,371.28 L402.32,371.01 L407.73,375.08 L413.14,374.4 L418.55,374.4 L423.96,375.35 L429.37,383.22 L434.78,382.27 L440.19,379.56 L445.6,369.25 L451.01,369.25 L456.42,360.16 L461.83,368.57 L467.24,368.98 L472.65,390.68 L478.06,404.65 L483.47,421.2 L488.88,423.5 L494.29,429.34 L499.7,428.39" fill="none" stroke="#bb0a28" stroke-width="1.4" stroke-linejoin="round"/>
<circle cx="391.5" cy="371.42" r="2.25" fill="#bb0a28" stroke="#fff" stroke-width="0.75"/>
<circle cx="396.91" cy="371.28" r="2.25" fill="#bb0a28" stroke="#fff" stroke-width="0.75"/>
<circle cx="402.32" cy="371.01" r="2.25" fill="#bb0a28" stroke="#fff" stroke-width="0.75"/>
<circle cx="407.73" cy="375.08" r="2.25" fill="#bb0a28" stroke="#fff" stroke-width="0.75"/>
<circle cx="413.14" cy="374.4" r="2.25" fill="#bb0a28" stroke="#fff" stroke-width="0.75"/>
<circle cx="418.55" cy="374.4" r="2.25" fill="#bb0a28" stroke="#fff" stroke-width="0.75"/>
<circle cx="423.96" cy="375.35" r="2.25" fill="#bb0a28" stroke="#fff" stroke-width="0.75"/>
<circle cx="429.37" cy="383.22" r="2.25" fill="#bb0a28" stroke="#fff" stroke-width="0.75"/>
<circle cx="434.78" cy="382.27" r="2.25" fill="#bb0a28" stroke="#fff" stroke-width="0.75"/>
<circle cx="440.19" cy="379.56" r="2.25" fill="#bb0a28" stroke="#fff" stroke-width="0.75"/>
<circle cx="445.6" cy="369.25" r="2.25" fill="#bb0a28" stroke="#fff" stroke-width="0.75"/>
<circle cx="451.01" cy="369.25" r="2.25" fill="#bb0a28" stroke="#fff" stroke-width="0.75"/>
<circle cx="456.42" cy="360.16" r="2.25" fill="#bb0a28" stroke="#fff" stroke-width="0.75"/>
<circle cx="461.83" cy="368.57" r="2.25" fill="#bb0a28" stroke="#fff" stroke-width="0.75"/>
<circle cx="467.24" cy="368.98" r="2.25" fill="#bb0a28" stroke="#fff" stroke-width="0.75"/>
<circle cx="472.65" cy="390.68" r="2.25" fill="#bb0a28" stroke="#fff" stroke-width="0.75"/>
<circle cx="478.06" cy="404.65" r="2.25" fill="#bb0a28" stroke="#fff" stroke-width="0.75"/>
<circle cx="483.47" cy="421.2" r="2.25" fill="#bb0a28" stroke="#fff" stroke-width="0.75"/>
<circle cx="488.88" cy="423.5" r="2.25" fill="#bb0a28" stroke="#fff" stroke-width="0.75"/>
<circle cx="494.29" cy="429.34" r="2.25" fill="#bb0a28" stroke="#fff" stroke-width="0.75"/>
<circle cx="499.7" cy="428.39" r="2.25" fill="#bb0a28" stroke="#fff" stroke-width="0.75"/>
<line x1="386" y1="349.3" x2="386" y2="442.55" stroke="#111" stroke-width="1.4"/>
<line x1="385.3" y1="441.85" x2="505.7" y2="441.85" stroke="#111" stroke-width="1.4"/>
<line x1="391.5" y1="441.85" x2="391.5" y2="445.35" stroke="#111" stroke-width="1.25"/>
<text transform="translate(389.6,454.8) scale(0.87,1)" font-size="9.3" text-anchor="middle" font-weight="normal" style="stroke-width:0.14px">−10</text>
<line x1="418.55" y1="441.85" x2="418.55" y2="445.35" stroke="#111" stroke-width="1.25"/>
<text transform="translate(416.65,454.8) scale(0.87,1)" font-size="9.3" text-anchor="middle" font-weight="normal" style="stroke-width:0.14px">−5</text>
<line x1="445.6" y1="441.85" x2="445.6" y2="445.35" stroke="#111" stroke-width="1.25"/>
<text transform="translate(445.5,454.8) scale(0.87,1)" font-size="9.3" text-anchor="middle" font-weight="normal" style="stroke-width:0.14px">0</text>
<line x1="472.65" y1="441.85" x2="472.65" y2="445.35" stroke="#111" stroke-width="1.25"/>
<text transform="translate(472.55,454.8) scale(0.87,1)" font-size="9.3" text-anchor="middle" font-weight="normal" style="stroke-width:0.14px">5</text>
<line x1="499.7" y1="441.85" x2="499.7" y2="445.35" stroke="#111" stroke-width="1.25"/>
<text transform="translate(499.6,454.8) scale(0.87,1)" font-size="9.3" text-anchor="middle" font-weight="normal" style="stroke-width:0.14px">10</text>
<line x1="382.4" y1="363.6" x2="386" y2="363.6" stroke="#111" stroke-width="1.15"/>
<text transform="translate(379.4,365.8) scale(0.92,1)" font-size="9.3" text-anchor="end" font-weight="normal" style="stroke-width:0.14px">1.4</text>
<line x1="382.4" y1="383.9" x2="386" y2="383.9" stroke="#111" stroke-width="1.15"/>
<text transform="translate(379.4,386.1) scale(0.92,1)" font-size="9.3" text-anchor="end" font-weight="normal" style="stroke-width:0.14px">1.2</text>
<line x1="382.4" y1="403.8" x2="386" y2="403.8" stroke="#111" stroke-width="1.15"/>
<text transform="translate(379.4,406) scale(0.92,1)" font-size="9.3" text-anchor="end" font-weight="normal" style="stroke-width:0.14px">1.0</text>
<line x1="382.4" y1="423.9" x2="386" y2="423.9" stroke="#111" stroke-width="1.15"/>
<text transform="translate(379.4,426.1) scale(0.92,1)" font-size="9.3" text-anchor="end" font-weight="normal" style="stroke-width:0.14px">0.8</text>
<text x="444.25" y="468.7" font-size="10" text-anchor="middle" font-weight="normal" textLength="88.5" lengthAdjust="spacingAndGlyphs" style="stroke-width:0.3px">Day relative to CRS onset</text>
<text transform="translate(356.7,388.2) rotate(-90)" font-size="10.4" text-anchor="middle" style="stroke-width:0.22px" textLength="110" lengthAdjust="spacingAndGlyphs">log<tspan font-size="7.2" dy="2.2">10</tspan><tspan dy="-2.2">(Cytokine levels) (pg/mL)</tspan></text>
<path d="M468.65,352 L469.21,353.13 L470.46,353.31 L469.55,354.19 L469.77,355.44 L468.65,354.85 L467.53,355.44 L467.75,354.19 L466.84,353.31 L468.09,353.13 Z" fill="#1a1a1a"/>
<text transform="translate(7.62,492) scale(0.87,1)" font-size="14.7" text-anchor="start" font-weight="bold" style="fill:#000;stroke:none">J</text>
<text x="106.5" y="504.6" font-size="8.7" text-anchor="middle" font-weight="normal" textLength="13.3" lengthAdjust="spacingAndGlyphs" style="stroke-width:0.14px">IL-8</text>
<line x1="106" y1="508.5" x2="106" y2="601.1" stroke="#a9a9a9" stroke-width="1.05" stroke-dasharray="4.4,2.35" stroke-dashoffset="1.5"/>
<path d="M51.7,571.02 L57.13,581.88 L62.56,564.24 L67.99,579.84 L73.42,573.74 L78.85,579.16 L84.28,568.31 L89.71,574.42 L95.14,571.02 L100.57,577.81 L106,560.17 L111.43,557.46 L116.86,543.9 L122.29,547.97 L127.72,541.86 L133.15,554.75 L138.58,557.46 L144.01,556.1 L149.44,562.89 L154.87,554.75 L160.3,564.24 L160.3,575.77 L154.87,569.67 L149.44,571.02 L144.01,566.96 L138.58,568.31 L133.15,566.96 L127.72,550.68 L122.29,558.82 L116.86,553.39 L111.43,566.96 L106,569.67 L100.57,587.3 L95.14,579.16 L89.71,585.94 L84.28,577.81 L78.85,590.01 L73.42,584.59 L67.99,591.37 L62.56,577.81 L57.13,596.8 L51.7,595.44 Z" fill="rgba(40,80,140,0.22)" stroke="rgba(40,80,140,0.18)" stroke-width="0.7"/>
<path d="M51.7,588.66 L57.13,571.02 L62.56,570.35 L67.99,569.67 L73.42,558.82 L78.85,556.78 L84.28,569.67 L89.71,562.21 L95.14,565.6 L100.57,563.56 L106,553.39 L111.43,549.32 L116.86,526.27 L122.29,519.48 L127.72,513.38 L133.15,516.77 L138.58,520.84 L144.01,531.69 L149.44,527.62 L154.87,537.12 L160.3,533.73 L160.3,545.25 L154.87,547.97 L149.44,538.47 L144.01,543.22 L138.58,533.05 L133.15,527.62 L127.72,524.91 L122.29,531.69 L116.86,537.12 L111.43,558.82 L106,566.96 L100.57,572.38 L95.14,579.16 L89.71,573.74 L84.28,587.3 L78.85,579.16 L73.42,579.16 L67.99,583.23 L62.56,577.81 L57.13,583.23 L51.7,594.08 Z" fill="rgba(200,30,60,0.22)" stroke="rgba(200,30,60,0.18)" stroke-width="0.7"/>
<path d="M51.7,582.55 L57.13,587.3 L62.56,570.75 L67.99,585.94 L73.42,579.16 L78.85,584.86 L84.28,571.97 L89.71,579.84 L95.14,574.42 L100.57,582.96 L106,564.92 L111.43,562.21 L116.86,548.64 L122.29,553.39 L127.72,546.61 L133.15,561.12 L138.58,563.56 L144.01,561.8 L149.44,567.63 L154.87,561.53 L160.3,569.67" fill="none" stroke="#1c3f78" stroke-width="1.4" stroke-linejoin="round"/>
<circle cx="51.7" cy="582.55" r="2.25" fill="#1c3f78" stroke="#fff" stroke-width="0.75"/>
<circle cx="57.13" cy="587.3" r="2.25" fill="#1c3f78" stroke="#fff" stroke-width="0.75"/>
<circle cx="62.56" cy="570.75" r="2.25" fill="#1c3f78" stroke="#fff" stroke-width="0.75"/>
<circle cx="67.99" cy="585.94" r="2.25" fill="#1c3f78" stroke="#fff" stroke-width="0.75"/>
<circle cx="73.42" cy="579.16" r="2.25" fill="#1c3f78" stroke="#fff" stroke-width="0.75"/>
<circle cx="78.85" cy="584.86" r="2.25" fill="#1c3f78" stroke="#fff" stroke-width="0.75"/>
<circle cx="84.28" cy="571.97" r="2.25" fill="#1c3f78" stroke="#fff" stroke-width="0.75"/>
<circle cx="89.71" cy="579.84" r="2.25" fill="#1c3f78" stroke="#fff" stroke-width="0.75"/>
<circle cx="95.14" cy="574.42" r="2.25" fill="#1c3f78" stroke="#fff" stroke-width="0.75"/>
<circle cx="100.57" cy="582.96" r="2.25" fill="#1c3f78" stroke="#fff" stroke-width="0.75"/>
<circle cx="106" cy="564.92" r="2.25" fill="#1c3f78" stroke="#fff" stroke-width="0.75"/>
<circle cx="111.43" cy="562.21" r="2.25" fill="#1c3f78" stroke="#fff" stroke-width="0.75"/>
<circle cx="116.86" cy="548.64" r="2.25" fill="#1c3f78" stroke="#fff" stroke-width="0.75"/>
<circle cx="122.29" cy="553.39" r="2.25" fill="#1c3f78" stroke="#fff" stroke-width="0.75"/>
<circle cx="127.72" cy="546.61" r="2.25" fill="#1c3f78" stroke="#fff" stroke-width="0.75"/>
<circle cx="133.15" cy="561.12" r="2.25" fill="#1c3f78" stroke="#fff" stroke-width="0.75"/>
<circle cx="138.58" cy="563.56" r="2.25" fill="#1c3f78" stroke="#fff" stroke-width="0.75"/>
<circle cx="144.01" cy="561.8" r="2.25" fill="#1c3f78" stroke="#fff" stroke-width="0.75"/>
<circle cx="149.44" cy="567.63" r="2.25" fill="#1c3f78" stroke="#fff" stroke-width="0.75"/>
<circle cx="154.87" cy="561.53" r="2.25" fill="#1c3f78" stroke="#fff" stroke-width="0.75"/>
<circle cx="160.3" cy="569.67" r="2.25" fill="#1c3f78" stroke="#fff" stroke-width="0.75"/>
<path d="M51.7,590.96 L57.13,576.04 L62.56,574.01 L67.99,577.4 L73.42,569.26 L78.85,567.63 L84.28,577.4 L89.71,567.36 L95.14,572.11 L100.57,568.58 L106,560.85 L111.43,553.66 L116.86,532.37 L122.29,526.54 L127.72,519.48 L133.15,522.87 L138.58,526.67 L144.01,537.79 L149.44,533.32 L154.87,542.95 L160.3,539.42" fill="none" stroke="#bb0a28" stroke-width="1.4" stroke-linejoin="round"/>
<circle cx="51.7" cy="590.96" r="2.25" fill="#bb0a28" stroke="#fff" stroke-width="0.75"/>
<circle cx="57.13" cy="576.04" r="2.25" fill="#bb0a28" stroke="#fff" stroke-width="0.75"/>
<circle cx="62.56" cy="574.01" r="2.25" fill="#bb0a28" stroke="#fff" stroke-width="0.75"/>
<circle cx="67.99" cy="577.4" r="2.25" fill="#bb0a28" stroke="#fff" stroke-width="0.75"/>
<circle cx="73.42" cy="569.26" r="2.25" fill="#bb0a28" stroke="#fff" stroke-width="0.75"/>
<circle cx="78.85" cy="567.63" r="2.25" fill="#bb0a28" stroke="#fff" stroke-width="0.75"/>
<circle cx="84.28" cy="577.4" r="2.25" fill="#bb0a28" stroke="#fff" stroke-width="0.75"/>
<circle cx="89.71" cy="567.36" r="2.25" fill="#bb0a28" stroke="#fff" stroke-width="0.75"/>
<circle cx="95.14" cy="572.11" r="2.25" fill="#bb0a28" stroke="#fff" stroke-width="0.75"/>
<circle cx="100.57" cy="568.58" r="2.25" fill="#bb0a28" stroke="#fff" stroke-width="0.75"/>
<circle cx="106" cy="560.85" r="2.25" fill="#bb0a28" stroke="#fff" stroke-width="0.75"/>
<circle cx="111.43" cy="553.66" r="2.25" fill="#bb0a28" stroke="#fff" stroke-width="0.75"/>
<circle cx="116.86" cy="532.37" r="2.25" fill="#bb0a28" stroke="#fff" stroke-width="0.75"/>
<circle cx="122.29" cy="526.54" r="2.25" fill="#bb0a28" stroke="#fff" stroke-width="0.75"/>
<circle cx="127.72" cy="519.48" r="2.25" fill="#bb0a28" stroke="#fff" stroke-width="0.75"/>
<circle cx="133.15" cy="522.87" r="2.25" fill="#bb0a28" stroke="#fff" stroke-width="0.75"/>
<circle cx="138.58" cy="526.67" r="2.25" fill="#bb0a28" stroke="#fff" stroke-width="0.75"/>
<circle cx="144.01" cy="537.79" r="2.25" fill="#bb0a28" stroke="#fff" stroke-width="0.75"/>
<circle cx="149.44" cy="533.32" r="2.25" fill="#bb0a28" stroke="#fff" stroke-width="0.75"/>
<circle cx="154.87" cy="542.95" r="2.25" fill="#bb0a28" stroke="#fff" stroke-width="0.75"/>
<circle cx="160.3" cy="539.42" r="2.25" fill="#bb0a28" stroke="#fff" stroke-width="0.75"/>
<line x1="46.3" y1="508.5" x2="46.3" y2="601.8" stroke="#111" stroke-width="1.4"/>
<line x1="45.6" y1="601.1" x2="166.2" y2="601.1" stroke="#111" stroke-width="1.4"/>
<line x1="51.7" y1="601.1" x2="51.7" y2="604.6" stroke="#111" stroke-width="1.25"/>
<text transform="translate(49.8,614.05) scale(0.87,1)" font-size="9.3" text-anchor="middle" font-weight="normal" style="stroke-width:0.14px">−10</text>
<line x1="78.85" y1="601.1" x2="78.85" y2="604.6" stroke="#111" stroke-width="1.25"/>
<text transform="translate(76.95,614.05) scale(0.87,1)" font-size="9.3" text-anchor="middle" font-weight="normal" style="stroke-width:0.14px">−5</text>
<line x1="106" y1="601.1" x2="106" y2="604.6" stroke="#111" stroke-width="1.25"/>
<text transform="translate(105.9,614.05) scale(0.87,1)" font-size="9.3" text-anchor="middle" font-weight="normal" style="stroke-width:0.14px">0</text>
<line x1="133.15" y1="601.1" x2="133.15" y2="604.6" stroke="#111" stroke-width="1.25"/>
<text transform="translate(133.05,614.05) scale(0.87,1)" font-size="9.3" text-anchor="middle" font-weight="normal" style="stroke-width:0.14px">5</text>
<line x1="160.3" y1="601.1" x2="160.3" y2="604.6" stroke="#111" stroke-width="1.25"/>
<text transform="translate(160.2,614.05) scale(0.87,1)" font-size="9.3" text-anchor="middle" font-weight="normal" style="stroke-width:0.14px">10</text>
<line x1="42.7" y1="522.9" x2="46.3" y2="522.9" stroke="#111" stroke-width="1.15"/>
<text transform="translate(39.7,525.1) scale(0.92,1)" font-size="9.3" text-anchor="end" font-weight="normal" style="stroke-width:0.14px">2.5</text>
<line x1="42.7" y1="546.9" x2="46.3" y2="546.9" stroke="#111" stroke-width="1.15"/>
<text transform="translate(39.7,549.1) scale(0.92,1)" font-size="9.3" text-anchor="end" font-weight="normal" style="stroke-width:0.14px">2.0</text>
<line x1="42.7" y1="571.3" x2="46.3" y2="571.3" stroke="#111" stroke-width="1.15"/>
<text transform="translate(39.7,573.5) scale(0.92,1)" font-size="9.3" text-anchor="end" font-weight="normal" style="stroke-width:0.14px">1.5</text>
<line x1="42.7" y1="595.4" x2="46.3" y2="595.4" stroke="#111" stroke-width="1.15"/>
<text transform="translate(39.7,597.6) scale(0.92,1)" font-size="9.3" text-anchor="end" font-weight="normal" style="stroke-width:0.14px">1.0</text>
<text x="105.75" y="628.1" font-size="10" text-anchor="middle" font-weight="normal" textLength="88.5" lengthAdjust="spacingAndGlyphs" style="stroke-width:0.3px">Day relative to CRS onset</text>
<text transform="translate(16.5,562) rotate(-90)" font-size="10.4" text-anchor="middle" style="stroke-width:0.22px" textLength="110" lengthAdjust="spacingAndGlyphs">log<tspan font-size="7.2" dy="2.2">10</tspan><tspan dy="-2.2">(Cytokine levels) (pg/mL)</tspan></text>
<path d="M124.8,509.35 L125.36,510.48 L126.61,510.66 L125.7,511.54 L125.92,512.79 L124.8,512.2 L123.68,512.79 L123.9,511.54 L122.99,510.66 L124.24,510.48 Z" fill="#1a1a1a"/>
<path d="M130.1,509.35 L130.66,510.48 L131.91,510.66 L131,511.54 L131.22,512.79 L130.1,512.2 L128.98,512.79 L129.2,511.54 L128.29,510.66 L129.54,510.48 Z" fill="#1a1a1a"/>
<path d="M135.4,509.35 L135.96,510.48 L137.21,510.66 L136.3,511.54 L136.52,512.79 L135.4,512.2 L134.28,512.79 L134.5,511.54 L133.59,510.66 L134.84,510.48 Z" fill="#1a1a1a"/>
<path d="M140.6,509.35 L141.16,510.48 L142.41,510.66 L141.5,511.54 L141.72,512.79 L140.6,512.2 L139.48,512.79 L139.7,511.54 L138.79,510.66 L140.04,510.48 Z" fill="#1a1a1a"/>
<path d="M145.9,509.35 L146.46,510.48 L147.71,510.66 L146.8,511.54 L147.02,512.79 L145.9,512.2 L144.78,512.79 L145,511.54 L144.09,510.66 L145.34,510.48 Z" fill="#1a1a1a"/>
<path d="M151.2,509.35 L151.76,510.48 L153.01,510.66 L152.1,511.54 L152.32,512.79 L151.2,512.2 L150.08,512.79 L150.3,511.54 L149.39,510.66 L150.64,510.48 Z" fill="#1a1a1a"/>
<path d="M156.5,509.35 L157.06,510.48 L158.31,510.66 L157.4,511.54 L157.62,512.79 L156.5,512.2 L155.38,512.79 L155.6,511.54 L154.69,510.66 L155.94,510.48 Z" fill="#1a1a1a"/>
<path d="M161.8,509.35 L162.36,510.48 L163.61,510.66 L162.7,511.54 L162.92,512.79 L161.8,512.2 L160.68,512.79 L160.9,511.54 L159.99,510.66 L161.24,510.48 Z" fill="#1a1a1a"/>
<text transform="translate(177.97,492) scale(0.98,1)" font-size="14.7" text-anchor="start" font-weight="bold" style="fill:#000;stroke:none">K</text>
<text x="275.9" y="504.6" font-size="8.7" text-anchor="middle" font-weight="normal" textLength="38.4" lengthAdjust="spacingAndGlyphs" style="stroke-width:0.14px">TNF-alpha</text>
<line x1="275.25" y1="508.5" x2="275.25" y2="601.1" stroke="#a9a9a9" stroke-width="1.05" stroke-dasharray="4.4,2.35" stroke-dashoffset="1.5"/>
<path d="M221.1,575.09 L226.51,577.81 L231.93,566.96 L237.34,580.52 L242.76,575.09 L248.17,581.88 L253.59,565.6 L259,573.74 L264.42,564.24 L269.83,568.31 L275.25,549.32 L280.66,552.04 L286.08,539.83 L291.5,542.54 L296.91,530.33 L302.32,537.12 L307.74,537.79 L313.15,537.12 L318.57,538.47 L323.99,535.76 L329.4,535.08 L329.4,553.39 L323.99,552.04 L318.57,552.04 L313.15,549.32 L307.74,550.68 L302.32,549.32 L296.91,541.18 L291.5,554.75 L286.08,550.68 L280.66,561.53 L275.25,564.24 L269.83,579.16 L264.42,576.45 L259,590.01 L253.59,579.16 L248.17,591.37 L242.76,587.3 L237.34,594.08 L231.93,581.88 L226.51,591.37 L221.1,596.8 Z" fill="rgba(40,80,140,0.22)" stroke="rgba(40,80,140,0.18)" stroke-width="0.7"/>
<path d="M221.1,587.98 L226.51,566.96 L231.93,580.52 L237.34,577.81 L242.76,568.31 L248.17,577.81 L253.59,559.5 L259,568.31 L264.42,565.6 L269.83,562.89 L275.25,545.25 L280.66,541.18 L286.08,523.55 L291.5,523.55 L296.91,514.06 L302.32,513.38 L307.74,517.45 L313.15,524.91 L318.57,527.62 L323.99,534.4 L329.4,539.83 L329.4,553.39 L323.99,546.61 L318.57,538.47 L313.15,535.76 L307.74,528.3 L302.32,524.23 L296.91,526.27 L291.5,538.47 L286.08,539.83 L280.66,552.04 L275.25,561.53 L269.83,573.74 L264.42,579.16 L259,583.23 L253.59,575.09 L248.17,591.37 L242.76,580.52 L237.34,591.37 L231.93,595.44 L226.51,588.66 L221.1,592.05 Z" fill="rgba(200,30,60,0.22)" stroke="rgba(200,30,60,0.18)" stroke-width="0.7"/>
<path d="M221.1,585.94 L226.51,584.32 L231.93,574.14 L237.34,587.57 L242.76,581.2 L248.17,587.03 L253.59,571.7 L259,581.2 L264.42,570.35 L269.83,573.74 L275.25,557.46 L280.66,557.46 L286.08,545.25 L291.5,549.73 L296.91,535.35 L302.32,543.22 L307.74,544.58 L313.15,542.27 L318.57,545.53 L323.99,544.58 L329.4,543.49" fill="none" stroke="#1c3f78" stroke-width="1.4" stroke-linejoin="round"/>
<circle cx="221.1" cy="585.94" r="2.25" fill="#1c3f78" stroke="#fff" stroke-width="0.75"/>
<circle cx="226.51" cy="584.32" r="2.25" fill="#1c3f78" stroke="#fff" stroke-width="0.75"/>
<circle cx="231.93" cy="574.14" r="2.25" fill="#1c3f78" stroke="#fff" stroke-width="0.75"/>
<circle cx="237.34" cy="587.57" r="2.25" fill="#1c3f78" stroke="#fff" stroke-width="0.75"/>
<circle cx="242.76" cy="581.2" r="2.25" fill="#1c3f78" stroke="#fff" stroke-width="0.75"/>
<circle cx="248.17" cy="587.03" r="2.25" fill="#1c3f78" stroke="#fff" stroke-width="0.75"/>
<circle cx="253.59" cy="571.7" r="2.25" fill="#1c3f78" stroke="#fff" stroke-width="0.75"/>
<circle cx="259" cy="581.2" r="2.25" fill="#1c3f78" stroke="#fff" stroke-width="0.75"/>
<circle cx="264.42" cy="570.35" r="2.25" fill="#1c3f78" stroke="#fff" stroke-width="0.75"/>
<circle cx="269.83" cy="573.74" r="2.25" fill="#1c3f78" stroke="#fff" stroke-width="0.75"/>
<circle cx="275.25" cy="557.46" r="2.25" fill="#1c3f78" stroke="#fff" stroke-width="0.75"/>
<circle cx="280.66" cy="557.46" r="2.25" fill="#1c3f78" stroke="#fff" stroke-width="0.75"/>
<circle cx="286.08" cy="545.25" r="2.25" fill="#1c3f78" stroke="#fff" stroke-width="0.75"/>
<circle cx="291.5" cy="549.73" r="2.25" fill="#1c3f78" stroke="#fff" stroke-width="0.75"/>
<circle cx="296.91" cy="535.35" r="2.25" fill="#1c3f78" stroke="#fff" stroke-width="0.75"/>
<circle cx="302.32" cy="543.22" r="2.25" fill="#1c3f78" stroke="#fff" stroke-width="0.75"/>
<circle cx="307.74" cy="544.58" r="2.25" fill="#1c3f78" stroke="#fff" stroke-width="0.75"/>
<circle cx="313.15" cy="542.27" r="2.25" fill="#1c3f78" stroke="#fff" stroke-width="0.75"/>
<circle cx="318.57" cy="545.53" r="2.25" fill="#1c3f78" stroke="#fff" stroke-width="0.75"/>
<circle cx="323.99" cy="544.58" r="2.25" fill="#1c3f78" stroke="#fff" stroke-width="0.75"/>
<circle cx="329.4" cy="543.49" r="2.25" fill="#1c3f78" stroke="#fff" stroke-width="0.75"/>
<path d="M221.1,590.01 L226.51,577.4 L231.93,586.62 L237.34,584.86 L242.76,574.14 L248.17,582.55 L253.59,567.36 L259,576.18 L264.42,572.38 L269.83,568.31 L275.25,554.07 L280.66,546.61 L286.08,531.42 L291.5,531.28 L296.91,520.43 L302.32,518.53 L307.74,522.87 L313.15,530.74 L318.57,533.73 L323.99,541.18 L329.4,547.02" fill="none" stroke="#bb0a28" stroke-width="1.4" stroke-linejoin="round"/>
<circle cx="221.1" cy="590.01" r="2.25" fill="#bb0a28" stroke="#fff" stroke-width="0.75"/>
<circle cx="226.51" cy="577.4" r="2.25" fill="#bb0a28" stroke="#fff" stroke-width="0.75"/>
<circle cx="231.93" cy="586.62" r="2.25" fill="#bb0a28" stroke="#fff" stroke-width="0.75"/>
<circle cx="237.34" cy="584.86" r="2.25" fill="#bb0a28" stroke="#fff" stroke-width="0.75"/>
<circle cx="242.76" cy="574.14" r="2.25" fill="#bb0a28" stroke="#fff" stroke-width="0.75"/>
<circle cx="248.17" cy="582.55" r="2.25" fill="#bb0a28" stroke="#fff" stroke-width="0.75"/>
<circle cx="253.59" cy="567.36" r="2.25" fill="#bb0a28" stroke="#fff" stroke-width="0.75"/>
<circle cx="259" cy="576.18" r="2.25" fill="#bb0a28" stroke="#fff" stroke-width="0.75"/>
<circle cx="264.42" cy="572.38" r="2.25" fill="#bb0a28" stroke="#fff" stroke-width="0.75"/>
<circle cx="269.83" cy="568.31" r="2.25" fill="#bb0a28" stroke="#fff" stroke-width="0.75"/>
<circle cx="275.25" cy="554.07" r="2.25" fill="#bb0a28" stroke="#fff" stroke-width="0.75"/>
<circle cx="280.66" cy="546.61" r="2.25" fill="#bb0a28" stroke="#fff" stroke-width="0.75"/>
<circle cx="286.08" cy="531.42" r="2.25" fill="#bb0a28" stroke="#fff" stroke-width="0.75"/>
<circle cx="291.5" cy="531.28" r="2.25" fill="#bb0a28" stroke="#fff" stroke-width="0.75"/>
<circle cx="296.91" cy="520.43" r="2.25" fill="#bb0a28" stroke="#fff" stroke-width="0.75"/>
<circle cx="302.32" cy="518.53" r="2.25" fill="#bb0a28" stroke="#fff" stroke-width="0.75"/>
<circle cx="307.74" cy="522.87" r="2.25" fill="#bb0a28" stroke="#fff" stroke-width="0.75"/>
<circle cx="313.15" cy="530.74" r="2.25" fill="#bb0a28" stroke="#fff" stroke-width="0.75"/>
<circle cx="318.57" cy="533.73" r="2.25" fill="#bb0a28" stroke="#fff" stroke-width="0.75"/>
<circle cx="323.99" cy="541.18" r="2.25" fill="#bb0a28" stroke="#fff" stroke-width="0.75"/>
<circle cx="329.4" cy="547.02" r="2.25" fill="#bb0a28" stroke="#fff" stroke-width="0.75"/>
<line x1="215.4" y1="508.5" x2="215.4" y2="601.8" stroke="#111" stroke-width="1.4"/>
<line x1="214.7" y1="601.1" x2="336.2" y2="601.1" stroke="#111" stroke-width="1.4"/>
<line x1="221.1" y1="601.1" x2="221.1" y2="604.6" stroke="#111" stroke-width="1.25"/>
<text transform="translate(219.2,614.05) scale(0.87,1)" font-size="9.3" text-anchor="middle" font-weight="normal" style="stroke-width:0.14px">−10</text>
<line x1="248.17" y1="601.1" x2="248.17" y2="604.6" stroke="#111" stroke-width="1.25"/>
<text transform="translate(246.27,614.05) scale(0.87,1)" font-size="9.3" text-anchor="middle" font-weight="normal" style="stroke-width:0.14px">−5</text>
<line x1="275.25" y1="601.1" x2="275.25" y2="604.6" stroke="#111" stroke-width="1.25"/>
<text transform="translate(275.15,614.05) scale(0.87,1)" font-size="9.3" text-anchor="middle" font-weight="normal" style="stroke-width:0.14px">0</text>
<line x1="302.32" y1="601.1" x2="302.32" y2="604.6" stroke="#111" stroke-width="1.25"/>
<text transform="translate(302.22,614.05) scale(0.87,1)" font-size="9.3" text-anchor="middle" font-weight="normal" style="stroke-width:0.14px">5</text>
<line x1="329.4" y1="601.1" x2="329.4" y2="604.6" stroke="#111" stroke-width="1.25"/>
<text transform="translate(329.3,614.05) scale(0.87,1)" font-size="9.3" text-anchor="middle" font-weight="normal" style="stroke-width:0.14px">10</text>
<line x1="211.8" y1="523.6" x2="215.4" y2="523.6" stroke="#111" stroke-width="1.15"/>
<text transform="translate(208.8,525.8) scale(0.92,1)" font-size="9.3" text-anchor="end" font-weight="normal" style="stroke-width:0.14px">1.2</text>
<line x1="211.8" y1="543" x2="215.4" y2="543" stroke="#111" stroke-width="1.15"/>
<text transform="translate(208.8,545.2) scale(0.92,1)" font-size="9.3" text-anchor="end" font-weight="normal" style="stroke-width:0.14px">1.0</text>
<line x1="211.8" y1="562.2" x2="215.4" y2="562.2" stroke="#111" stroke-width="1.15"/>
<text transform="translate(208.8,564.4) scale(0.92,1)" font-size="9.3" text-anchor="end" font-weight="normal" style="stroke-width:0.14px">0.8</text>
<line x1="211.8" y1="581.6" x2="215.4" y2="581.6" stroke="#111" stroke-width="1.15"/>
<text transform="translate(208.8,583.8) scale(0.92,1)" font-size="9.3" text-anchor="end" font-weight="normal" style="stroke-width:0.14px">0.6</text>
<text x="273" y="628.1" font-size="10" text-anchor="middle" font-weight="normal" textLength="88.5" lengthAdjust="spacingAndGlyphs" style="stroke-width:0.3px">Day relative to CRS onset</text>
<text transform="translate(186.7,556.9) rotate(-90)" font-size="10.4" text-anchor="middle" style="stroke-width:0.22px" textLength="110" lengthAdjust="spacingAndGlyphs">log<tspan font-size="7.2" dy="2.2">10</tspan><tspan dy="-2.2">(Cytokine levels) (pg/mL)</tspan></text>
<path d="M303.7,509.75 L304.26,510.88 L305.51,511.06 L304.6,511.94 L304.82,513.19 L303.7,512.6 L302.58,513.19 L302.8,511.94 L301.89,511.06 L303.14,510.88 Z" fill="#1a1a1a"/>
<path d="M309.3,509.75 L309.86,510.88 L311.11,511.06 L310.2,511.94 L310.42,513.19 L309.3,512.6 L308.18,513.19 L308.4,511.94 L307.49,511.06 L308.74,510.88 Z" fill="#1a1a1a"/>
<text transform="translate(348.1,492) scale(0.85,1)" font-size="14.7" text-anchor="start" font-weight="bold" style="fill:#000;stroke:none">L</text>
<text x="445.4" y="504.6" font-size="8.7" text-anchor="middle" font-weight="normal" textLength="18.4" lengthAdjust="spacingAndGlyphs" style="stroke-width:0.14px">IL-18</text>
<line x1="445.6" y1="508.5" x2="445.6" y2="601.1" stroke="#a9a9a9" stroke-width="1.05" stroke-dasharray="4.4,2.35" stroke-dashoffset="1.5"/>
<path d="M391.5,569.67 L396.91,584.59 L402.32,574.42 L407.73,583.23 L413.14,577.81 L418.55,581.88 L423.96,577.81 L429.37,580.52 L434.78,575.77 L440.19,576.45 L445.6,568.99 L451.01,566.96 L456.42,561.53 L461.83,556.1 L467.24,553.39 L472.65,541.18 L478.06,545.25 L483.47,531.69 L488.88,543.9 L494.29,537.79 L499.7,539.83 L499.7,548.64 L494.29,545.93 L488.88,550.68 L483.47,538.47 L478.06,554.07 L472.65,550.68 L467.24,561.53 L461.83,564.24 L456.42,569.67 L451.01,575.09 L445.6,577.13 L440.19,583.23 L434.78,583.23 L429.37,587.98 L423.96,584.59 L418.55,588.66 L413.14,584.59 L407.73,591.37 L402.32,583.23 L396.91,596.8 L391.5,583.23 Z" fill="rgba(40,80,140,0.22)" stroke="rgba(40,80,140,0.18)" stroke-width="0.7"/>
<path d="M391.5,587.98 L396.91,566.96 L402.32,566.96 L407.73,566.96 L413.14,566.96 L418.55,552.04 L423.96,568.31 L429.37,572.38 L434.78,558.14 L440.19,565.6 L445.6,552.71 L451.01,554.75 L456.42,542.54 L461.83,546.61 L467.24,530.33 L472.65,523.55 L478.06,526.27 L483.47,513.38 L488.88,520.16 L494.29,523.55 L499.7,512.7 L499.7,514.6 L494.29,533.73 L488.88,531.69 L483.47,524.91 L478.06,534.4 L472.65,533.05 L467.24,539.83 L461.83,554.75 L456.42,557.46 L451.01,568.31 L445.6,566.96 L440.19,575.09 L434.78,575.09 L429.37,583.23 L423.96,579.16 L418.55,569.67 L413.14,579.16 L407.73,575.09 L402.32,577.81 L396.91,585.94 L391.5,592.05 Z" fill="rgba(200,30,60,0.22)" stroke="rgba(200,30,60,0.18)" stroke-width="0.7"/>
<path d="M391.5,576.18 L396.91,590.69 L402.32,578.21 L407.73,587.57 L413.14,581.2 L418.55,585.54 L423.96,580.79 L429.37,583.91 L434.78,579.16 L440.19,579.84 L445.6,573.06 L451.01,570.75 L456.42,565.33 L461.83,560.45 L467.24,557.46 L472.65,545.66 L478.06,549.32 L483.47,535.35 L488.88,547.29 L494.29,542.13 L499.7,544.3" fill="none" stroke="#1c3f78" stroke-width="1.4" stroke-linejoin="round"/>
<circle cx="391.5" cy="576.18" r="2.25" fill="#1c3f78" stroke="#fff" stroke-width="0.75"/>
<circle cx="396.91" cy="590.69" r="2.25" fill="#1c3f78" stroke="#fff" stroke-width="0.75"/>
<circle cx="402.32" cy="578.21" r="2.25" fill="#1c3f78" stroke="#fff" stroke-width="0.75"/>
<circle cx="407.73" cy="587.57" r="2.25" fill="#1c3f78" stroke="#fff" stroke-width="0.75"/>
<circle cx="413.14" cy="581.2" r="2.25" fill="#1c3f78" stroke="#fff" stroke-width="0.75"/>
<circle cx="418.55" cy="585.54" r="2.25" fill="#1c3f78" stroke="#fff" stroke-width="0.75"/>
<circle cx="423.96" cy="580.79" r="2.25" fill="#1c3f78" stroke="#fff" stroke-width="0.75"/>
<circle cx="429.37" cy="583.91" r="2.25" fill="#1c3f78" stroke="#fff" stroke-width="0.75"/>
<circle cx="434.78" cy="579.16" r="2.25" fill="#1c3f78" stroke="#fff" stroke-width="0.75"/>
<circle cx="440.19" cy="579.84" r="2.25" fill="#1c3f78" stroke="#fff" stroke-width="0.75"/>
<circle cx="445.6" cy="573.06" r="2.25" fill="#1c3f78" stroke="#fff" stroke-width="0.75"/>
<circle cx="451.01" cy="570.75" r="2.25" fill="#1c3f78" stroke="#fff" stroke-width="0.75"/>
<circle cx="456.42" cy="565.33" r="2.25" fill="#1c3f78" stroke="#fff" stroke-width="0.75"/>
<circle cx="461.83" cy="560.45" r="2.25" fill="#1c3f78" stroke="#fff" stroke-width="0.75"/>
<circle cx="467.24" cy="557.46" r="2.25" fill="#1c3f78" stroke="#fff" stroke-width="0.75"/>
<circle cx="472.65" cy="545.66" r="2.25" fill="#1c3f78" stroke="#fff" stroke-width="0.75"/>
<circle cx="478.06" cy="549.32" r="2.25" fill="#1c3f78" stroke="#fff" stroke-width="0.75"/>
<circle cx="483.47" cy="535.35" r="2.25" fill="#1c3f78" stroke="#fff" stroke-width="0.75"/>
<circle cx="488.88" cy="547.29" r="2.25" fill="#1c3f78" stroke="#fff" stroke-width="0.75"/>
<circle cx="494.29" cy="542.13" r="2.25" fill="#1c3f78" stroke="#fff" stroke-width="0.75"/>
<circle cx="499.7" cy="544.3" r="2.25" fill="#1c3f78" stroke="#fff" stroke-width="0.75"/>
<path d="M391.5,590.01 L396.91,576.45 L402.32,573.06 L407.73,571.7 L413.14,574.01 L418.55,561.53 L423.96,573.33 L429.37,578.89 L434.78,566.01 L440.19,570.35 L445.6,559.09 L451.01,561.53 L456.42,549.73 L461.83,551.36 L467.24,535.49 L472.65,527.89 L478.06,530.33 L483.47,520.16 L488.88,526.94 L494.29,528.3 L499.7,513.65" fill="none" stroke="#bb0a28" stroke-width="1.4" stroke-linejoin="round"/>
<circle cx="391.5" cy="590.01" r="2.25" fill="#bb0a28" stroke="#fff" stroke-width="0.75"/>
<circle cx="396.91" cy="576.45" r="2.25" fill="#bb0a28" stroke="#fff" stroke-width="0.75"/>
<circle cx="402.32" cy="573.06" r="2.25" fill="#bb0a28" stroke="#fff" stroke-width="0.75"/>
<circle cx="407.73" cy="571.7" r="2.25" fill="#bb0a28" stroke="#fff" stroke-width="0.75"/>
<circle cx="413.14" cy="574.01" r="2.25" fill="#bb0a28" stroke="#fff" stroke-width="0.75"/>
<circle cx="418.55" cy="561.53" r="2.25" fill="#bb0a28" stroke="#fff" stroke-width="0.75"/>
<circle cx="423.96" cy="573.33" r="2.25" fill="#bb0a28" stroke="#fff" stroke-width="0.75"/>
<circle cx="429.37" cy="578.89" r="2.25" fill="#bb0a28" stroke="#fff" stroke-width="0.75"/>
<circle cx="434.78" cy="566.01" r="2.25" fill="#bb0a28" stroke="#fff" stroke-width="0.75"/>
<circle cx="440.19" cy="570.35" r="2.25" fill="#bb0a28" stroke="#fff" stroke-width="0.75"/>
<circle cx="445.6" cy="559.09" r="2.25" fill="#bb0a28" stroke="#fff" stroke-width="0.75"/>
<circle cx="451.01" cy="561.53" r="2.25" fill="#bb0a28" stroke="#fff" stroke-width="0.75"/>
<circle cx="456.42" cy="549.73" r="2.25" fill="#bb0a28" stroke="#fff" stroke-width="0.75"/>
<circle cx="461.83" cy="551.36" r="2.25" fill="#bb0a28" stroke="#fff" stroke-width="0.75"/>
<circle cx="467.24" cy="535.49" r="2.25" fill="#bb0a28" stroke="#fff" stroke-width="0.75"/>
<circle cx="472.65" cy="527.89" r="2.25" fill="#bb0a28" stroke="#fff" stroke-width="0.75"/>
<circle cx="478.06" cy="530.33" r="2.25" fill="#bb0a28" stroke="#fff" stroke-width="0.75"/>
<circle cx="483.47" cy="520.16" r="2.25" fill="#bb0a28" stroke="#fff" stroke-width="0.75"/>
<circle cx="488.88" cy="526.94" r="2.25" fill="#bb0a28" stroke="#fff" stroke-width="0.75"/>
<circle cx="494.29" cy="528.3" r="2.25" fill="#bb0a28" stroke="#fff" stroke-width="0.75"/>
<circle cx="499.7" cy="513.65" r="2.25" fill="#bb0a28" stroke="#fff" stroke-width="0.75"/>
<line x1="386" y1="508.5" x2="386" y2="601.8" stroke="#111" stroke-width="1.4"/>
<line x1="385.3" y1="601.1" x2="505.7" y2="601.1" stroke="#111" stroke-width="1.4"/>
<line x1="391.5" y1="601.1" x2="391.5" y2="604.6" stroke="#111" stroke-width="1.25"/>
<text transform="translate(389.6,614.05) scale(0.87,1)" font-size="9.3" text-anchor="middle" font-weight="normal" style="stroke-width:0.14px">−10</text>
<line x1="418.55" y1="601.1" x2="418.55" y2="604.6" stroke="#111" stroke-width="1.25"/>
<text transform="translate(416.65,614.05) scale(0.87,1)" font-size="9.3" text-anchor="middle" font-weight="normal" style="stroke-width:0.14px">−5</text>
<line x1="445.6" y1="601.1" x2="445.6" y2="604.6" stroke="#111" stroke-width="1.25"/>
<text transform="translate(445.5,614.05) scale(0.87,1)" font-size="9.3" text-anchor="middle" font-weight="normal" style="stroke-width:0.14px">0</text>
<line x1="472.65" y1="601.1" x2="472.65" y2="604.6" stroke="#111" stroke-width="1.25"/>
<text transform="translate(472.55,614.05) scale(0.87,1)" font-size="9.3" text-anchor="middle" font-weight="normal" style="stroke-width:0.14px">5</text>
<line x1="499.7" y1="601.1" x2="499.7" y2="604.6" stroke="#111" stroke-width="1.25"/>
<text transform="translate(499.6,614.05) scale(0.87,1)" font-size="9.3" text-anchor="middle" font-weight="normal" style="stroke-width:0.14px">10</text>
<line x1="382.4" y1="510.7" x2="386" y2="510.7" stroke="#111" stroke-width="1.15"/>
<text transform="translate(379.4,512.9) scale(0.92,1)" font-size="9.3" text-anchor="end" font-weight="normal" style="stroke-width:0.14px">3.75</text>
<line x1="382.4" y1="526.5" x2="386" y2="526.5" stroke="#111" stroke-width="1.15"/>
<text transform="translate(379.4,528.7) scale(0.92,1)" font-size="9.3" text-anchor="end" font-weight="normal" style="stroke-width:0.14px">3.50</text>
<line x1="382.4" y1="541.9" x2="386" y2="541.9" stroke="#111" stroke-width="1.15"/>
<text transform="translate(379.4,544.1) scale(0.92,1)" font-size="9.3" text-anchor="end" font-weight="normal" style="stroke-width:0.14px">3.25</text>
<line x1="382.4" y1="557.5" x2="386" y2="557.5" stroke="#111" stroke-width="1.15"/>
<text transform="translate(379.4,559.7) scale(0.92,1)" font-size="9.3" text-anchor="end" font-weight="normal" style="stroke-width:0.14px">3.00</text>
<line x1="382.4" y1="572.8" x2="386" y2="572.8" stroke="#111" stroke-width="1.15"/>
<text transform="translate(379.4,575) scale(0.92,1)" font-size="9.3" text-anchor="end" font-weight="normal" style="stroke-width:0.14px">2.75</text>
<line x1="382.4" y1="588.2" x2="386" y2="588.2" stroke="#111" stroke-width="1.15"/>
<text transform="translate(379.4,590.4) scale(0.92,1)" font-size="9.3" text-anchor="end" font-weight="normal" style="stroke-width:0.14px">2.50</text>
<text x="444.25" y="628.1" font-size="10" text-anchor="middle" font-weight="normal" textLength="88.5" lengthAdjust="spacingAndGlyphs" style="stroke-width:0.3px">Day relative to CRS onset</text>
<text transform="translate(356.7,551.7) rotate(-90)" font-size="10.4" text-anchor="middle" style="stroke-width:0.22px" textLength="110" lengthAdjust="spacingAndGlyphs">log<tspan font-size="7.2" dy="2.2">10</tspan><tspan dy="-2.2">(Cytokine levels) (pg/mL)</tspan></text>
<path d="M474.7,508.85 L475.26,509.98 L476.51,510.16 L475.6,511.04 L475.82,512.29 L474.7,511.7 L473.58,512.29 L473.8,511.04 L472.89,510.16 L474.14,509.98 Z" fill="#1a1a1a"/>
<path d="M479.9,508.85 L480.46,509.98 L481.71,510.16 L480.8,511.04 L481.02,512.29 L479.9,511.7 L478.78,512.29 L479,511.04 L478.09,510.16 L479.34,509.98 Z" fill="#1a1a1a"/>
<text transform="translate(7.32,651) scale(1.15,1)" font-size="14.7" text-anchor="start" font-weight="bold" style="fill:#000;stroke:none">M</text>
<text x="106.6" y="657.8" font-size="8.7" text-anchor="middle" font-weight="normal" textLength="18" lengthAdjust="spacingAndGlyphs" style="stroke-width:0.14px">IL-10</text>
<line x1="106" y1="661.6" x2="106" y2="754.6" stroke="#a9a9a9" stroke-width="1.05" stroke-dasharray="4.4,2.35" stroke-dashoffset="1.5"/>
<path d="M51.7,737.52 L57.13,740.23 L62.56,736.16 L67.99,737.52 L73.42,733.45 L78.85,737.52 L84.28,730.74 L89.71,725.99 L95.14,718.53 L100.57,706.32 L106,694.12 L111.43,685.98 L116.86,687.33 L122.29,685.3 L127.72,691.4 L133.15,703.61 L138.58,711.07 L144.01,713.1 L149.44,714.46 L154.87,715.14 L160.3,718.53 L160.3,726.67 L154.87,721.92 L149.44,723.28 L144.01,721.92 L138.58,718.53 L133.15,711.75 L127.72,700.22 L122.29,695.47 L116.86,694.79 L111.43,693.44 L106,700.9 L100.57,712.43 L95.14,725.31 L89.71,732.77 L84.28,737.52 L78.85,744.3 L73.42,742.94 L67.99,745.66 L62.56,744.3 L57.13,749.05 L51.7,751.08 Z" fill="rgba(40,80,140,0.22)" stroke="rgba(40,80,140,0.18)" stroke-width="0.7"/>
<path d="M51.7,742.27 L57.13,728.02 L62.56,728.02 L67.99,733.45 L73.42,732.09 L78.85,728.02 L84.28,726.67 L89.71,722.6 L95.14,715.82 L100.57,709.04 L106,684.62 L111.43,681.23 L116.86,668.35 L122.29,666.31 L127.72,668.35 L133.15,679.2 L138.58,690.05 L144.01,700.22 L149.44,700.22 L154.87,703.61 L160.3,703.61 L160.3,711.75 L154.87,712.43 L149.44,709.71 L144.01,710.39 L138.58,700.9 L133.15,688.69 L127.72,678.52 L122.29,677.16 L116.86,677.84 L111.43,688.69 L106,698.18 L100.57,717.17 L95.14,725.31 L89.71,732.09 L84.28,736.16 L78.85,741.59 L73.42,742.94 L67.99,745.66 L62.56,742.94 L57.13,742.94 L51.7,747.01 Z" fill="rgba(200,30,60,0.22)" stroke="rgba(200,30,60,0.18)" stroke-width="0.7"/>
<path d="M51.7,745.25 L57.13,744.57 L62.56,740.64 L67.99,741.59 L73.42,738.2 L78.85,741.32 L84.28,734.13 L89.71,729.38 L95.14,721.92 L100.57,709.31 L106,697.91 L111.43,689.37 L116.86,691.13 L122.29,691.13 L127.72,695.47 L133.15,707.68 L138.58,714.87 L144.01,717.58 L149.44,718.8 L154.87,718.53 L160.3,722.6" fill="none" stroke="#1c3f78" stroke-width="1.4" stroke-linejoin="round"/>
<circle cx="51.7" cy="745.25" r="2.25" fill="#1c3f78" stroke="#fff" stroke-width="0.75"/>
<circle cx="57.13" cy="744.57" r="2.25" fill="#1c3f78" stroke="#fff" stroke-width="0.75"/>
<circle cx="62.56" cy="740.64" r="2.25" fill="#1c3f78" stroke="#fff" stroke-width="0.75"/>
<circle cx="67.99" cy="741.59" r="2.25" fill="#1c3f78" stroke="#fff" stroke-width="0.75"/>
<circle cx="73.42" cy="738.2" r="2.25" fill="#1c3f78" stroke="#fff" stroke-width="0.75"/>
<circle cx="78.85" cy="741.32" r="2.25" fill="#1c3f78" stroke="#fff" stroke-width="0.75"/>
<circle cx="84.28" cy="734.13" r="2.25" fill="#1c3f78" stroke="#fff" stroke-width="0.75"/>
<circle cx="89.71" cy="729.38" r="2.25" fill="#1c3f78" stroke="#fff" stroke-width="0.75"/>
<circle cx="95.14" cy="721.92" r="2.25" fill="#1c3f78" stroke="#fff" stroke-width="0.75"/>
<circle cx="100.57" cy="709.31" r="2.25" fill="#1c3f78" stroke="#fff" stroke-width="0.75"/>
<circle cx="106" cy="697.91" r="2.25" fill="#1c3f78" stroke="#fff" stroke-width="0.75"/>
<circle cx="111.43" cy="689.37" r="2.25" fill="#1c3f78" stroke="#fff" stroke-width="0.75"/>
<circle cx="116.86" cy="691.13" r="2.25" fill="#1c3f78" stroke="#fff" stroke-width="0.75"/>
<circle cx="122.29" cy="691.13" r="2.25" fill="#1c3f78" stroke="#fff" stroke-width="0.75"/>
<circle cx="127.72" cy="695.47" r="2.25" fill="#1c3f78" stroke="#fff" stroke-width="0.75"/>
<circle cx="133.15" cy="707.68" r="2.25" fill="#1c3f78" stroke="#fff" stroke-width="0.75"/>
<circle cx="138.58" cy="714.87" r="2.25" fill="#1c3f78" stroke="#fff" stroke-width="0.75"/>
<circle cx="144.01" cy="717.58" r="2.25" fill="#1c3f78" stroke="#fff" stroke-width="0.75"/>
<circle cx="149.44" cy="718.8" r="2.25" fill="#1c3f78" stroke="#fff" stroke-width="0.75"/>
<circle cx="154.87" cy="718.53" r="2.25" fill="#1c3f78" stroke="#fff" stroke-width="0.75"/>
<circle cx="160.3" cy="722.6" r="2.25" fill="#1c3f78" stroke="#fff" stroke-width="0.75"/>
<path d="M51.7,744.71 L57.13,735.48 L62.56,735.89 L67.99,739.55 L73.42,736.84 L78.85,733.86 L84.28,731.01 L89.71,727.35 L95.14,720.56 L100.57,713.38 L106,692.49 L111.43,684.62 L116.86,673.09 L122.29,671.74 L127.72,673.09 L133.15,683.94 L138.58,695.47 L144.01,705.64 L149.44,704.97 L154.87,708.36 L160.3,707.68" fill="none" stroke="#bb0a28" stroke-width="1.4" stroke-linejoin="round"/>
<circle cx="51.7" cy="744.71" r="2.25" fill="#bb0a28" stroke="#fff" stroke-width="0.75"/>
<circle cx="57.13" cy="735.48" r="2.25" fill="#bb0a28" stroke="#fff" stroke-width="0.75"/>
<circle cx="62.56" cy="735.89" r="2.25" fill="#bb0a28" stroke="#fff" stroke-width="0.75"/>
<circle cx="67.99" cy="739.55" r="2.25" fill="#bb0a28" stroke="#fff" stroke-width="0.75"/>
<circle cx="73.42" cy="736.84" r="2.25" fill="#bb0a28" stroke="#fff" stroke-width="0.75"/>
<circle cx="78.85" cy="733.86" r="2.25" fill="#bb0a28" stroke="#fff" stroke-width="0.75"/>
<circle cx="84.28" cy="731.01" r="2.25" fill="#bb0a28" stroke="#fff" stroke-width="0.75"/>
<circle cx="89.71" cy="727.35" r="2.25" fill="#bb0a28" stroke="#fff" stroke-width="0.75"/>
<circle cx="95.14" cy="720.56" r="2.25" fill="#bb0a28" stroke="#fff" stroke-width="0.75"/>
<circle cx="100.57" cy="713.38" r="2.25" fill="#bb0a28" stroke="#fff" stroke-width="0.75"/>
<circle cx="106" cy="692.49" r="2.25" fill="#bb0a28" stroke="#fff" stroke-width="0.75"/>
<circle cx="111.43" cy="684.62" r="2.25" fill="#bb0a28" stroke="#fff" stroke-width="0.75"/>
<circle cx="116.86" cy="673.09" r="2.25" fill="#bb0a28" stroke="#fff" stroke-width="0.75"/>
<circle cx="122.29" cy="671.74" r="2.25" fill="#bb0a28" stroke="#fff" stroke-width="0.75"/>
<circle cx="127.72" cy="673.09" r="2.25" fill="#bb0a28" stroke="#fff" stroke-width="0.75"/>
<circle cx="133.15" cy="683.94" r="2.25" fill="#bb0a28" stroke="#fff" stroke-width="0.75"/>
<circle cx="138.58" cy="695.47" r="2.25" fill="#bb0a28" stroke="#fff" stroke-width="0.75"/>
<circle cx="144.01" cy="705.64" r="2.25" fill="#bb0a28" stroke="#fff" stroke-width="0.75"/>
<circle cx="149.44" cy="704.97" r="2.25" fill="#bb0a28" stroke="#fff" stroke-width="0.75"/>
<circle cx="154.87" cy="708.36" r="2.25" fill="#bb0a28" stroke="#fff" stroke-width="0.75"/>
<circle cx="160.3" cy="707.68" r="2.25" fill="#bb0a28" stroke="#fff" stroke-width="0.75"/>
<line x1="46.3" y1="661.6" x2="46.3" y2="755.3" stroke="#111" stroke-width="1.4"/>
<line x1="45.6" y1="754.6" x2="166.2" y2="754.6" stroke="#111" stroke-width="1.4"/>
<line x1="51.7" y1="754.6" x2="51.7" y2="758.1" stroke="#111" stroke-width="1.25"/>
<text transform="translate(49.8,767.55) scale(0.87,1)" font-size="9.3" text-anchor="middle" font-weight="normal" style="stroke-width:0.14px">−10</text>
<line x1="78.85" y1="754.6" x2="78.85" y2="758.1" stroke="#111" stroke-width="1.25"/>
<text transform="translate(76.95,767.55) scale(0.87,1)" font-size="9.3" text-anchor="middle" font-weight="normal" style="stroke-width:0.14px">−5</text>
<line x1="106" y1="754.6" x2="106" y2="758.1" stroke="#111" stroke-width="1.25"/>
<text transform="translate(105.9,767.55) scale(0.87,1)" font-size="9.3" text-anchor="middle" font-weight="normal" style="stroke-width:0.14px">0</text>
<line x1="133.15" y1="754.6" x2="133.15" y2="758.1" stroke="#111" stroke-width="1.25"/>
<text transform="translate(133.05,767.55) scale(0.87,1)" font-size="9.3" text-anchor="middle" font-weight="normal" style="stroke-width:0.14px">5</text>
<line x1="160.3" y1="754.6" x2="160.3" y2="758.1" stroke="#111" stroke-width="1.25"/>
<text transform="translate(160.2,767.55) scale(0.87,1)" font-size="9.3" text-anchor="middle" font-weight="normal" style="stroke-width:0.14px">10</text>
<line x1="42.7" y1="673.4" x2="46.3" y2="673.4" stroke="#111" stroke-width="1.15"/>
<text transform="translate(39.7,675.6) scale(0.92,1)" font-size="9.3" text-anchor="end" font-weight="normal" style="stroke-width:0.14px">2.0</text>
<line x1="42.7" y1="691.7" x2="46.3" y2="691.7" stroke="#111" stroke-width="1.15"/>
<text transform="translate(39.7,693.9) scale(0.92,1)" font-size="9.3" text-anchor="end" font-weight="normal" style="stroke-width:0.14px">1.5</text>
<line x1="42.7" y1="709.7" x2="46.3" y2="709.7" stroke="#111" stroke-width="1.15"/>
<text transform="translate(39.7,711.9) scale(0.92,1)" font-size="9.3" text-anchor="end" font-weight="normal" style="stroke-width:0.14px">1.0</text>
<line x1="42.7" y1="728" x2="46.3" y2="728" stroke="#111" stroke-width="1.15"/>
<text transform="translate(39.7,730.2) scale(0.92,1)" font-size="9.3" text-anchor="end" font-weight="normal" style="stroke-width:0.14px">0.5</text>
<line x1="42.7" y1="745.8" x2="46.3" y2="745.8" stroke="#111" stroke-width="1.15"/>
<text transform="translate(39.7,748) scale(0.92,1)" font-size="9.3" text-anchor="end" font-weight="normal" style="stroke-width:0.14px">0.0</text>
<text x="105.75" y="781.5" font-size="10" text-anchor="middle" font-weight="normal" textLength="88.5" lengthAdjust="spacingAndGlyphs" style="stroke-width:0.3px">Day relative to CRS onset</text>
<text transform="translate(16.5,714.3) rotate(-90)" font-size="10.4" text-anchor="middle" style="stroke-width:0.22px" textLength="110" lengthAdjust="spacingAndGlyphs">log<tspan font-size="7.2" dy="2.2">10</tspan><tspan dy="-2.2">(Cytokine levels) (pg/mL)</tspan></text>
<path d="M129.1,663.25 L129.66,664.38 L130.91,664.56 L130,665.44 L130.22,666.69 L129.1,666.1 L127.98,666.69 L128.2,665.44 L127.29,664.56 L128.54,664.38 Z" fill="#1a1a1a"/>
<path d="M134.4,663.25 L134.96,664.38 L136.21,664.56 L135.3,665.44 L135.52,666.69 L134.4,666.1 L133.28,666.69 L133.5,665.44 L132.59,664.56 L133.84,664.38 Z" fill="#1a1a1a"/>
<path d="M139.9,663.25 L140.46,664.38 L141.71,664.56 L140.8,665.44 L141.02,666.69 L139.9,666.1 L138.78,666.69 L139,665.44 L138.09,664.56 L139.34,664.38 Z" fill="#1a1a1a"/>
<text transform="translate(177.84,651) scale(1.12,1)" font-size="14.7" text-anchor="start" font-weight="bold" style="fill:#000;stroke:none">N</text>
<text x="275.7" y="657.8" font-size="8.7" text-anchor="middle" font-weight="normal" textLength="13.6" lengthAdjust="spacingAndGlyphs" style="stroke-width:0.14px">IL-4</text>
<line x1="275.25" y1="661.6" x2="275.25" y2="754.6" stroke="#a9a9a9" stroke-width="1.05" stroke-dasharray="4.4,2.35" stroke-dashoffset="1.5"/>
<path d="M221.1,737.52 L226.51,742.94 L231.93,722.6 L237.34,745.66 L242.76,747.01 L248.17,747.01 L253.59,745.66 L259,747.01 L264.42,747.69 L269.83,747.01 L275.25,744.3 L280.66,734.81 L286.08,733.45 L291.5,732.77 L296.91,726.67 L302.32,721.92 L307.74,744.3 L313.15,747.69 L318.57,747.01 L323.99,742.94 L329.4,746.34 L329.4,751.08 L323.99,750.4 L318.57,751.08 L313.15,751.08 L307.74,749.73 L302.32,748.37 L296.91,742.94 L291.5,746.34 L286.08,742.94 L280.66,745.66 L275.25,749.05 L269.83,751.08 L264.42,751.76 L259,751.08 L253.59,750 L248.17,751.35 L242.76,751.08 L237.34,749.73 L231.93,742.94 L226.51,748.37 L221.1,747.01 Z" fill="rgba(40,80,140,0.22)" stroke="rgba(40,80,140,0.18)" stroke-width="0.7"/>
<path d="M221.1,746.34 L226.51,747.01 L231.93,743.62 L237.34,745.66 L242.76,745.66 L248.17,743.62 L253.59,745.66 L259,740.23 L264.42,746.34 L269.83,745.66 L275.25,728.7 L280.66,733.45 L286.08,687.33 L291.5,691.4 L296.91,666.99 L302.32,672.41 L307.74,707.68 L313.15,723.96 L318.57,723.96 L323.99,734.81 L329.4,728.7 L329.4,742.94 L323.99,745.66 L318.57,738.88 L313.15,740.23 L307.74,726.67 L302.32,704.97 L296.91,704.97 L291.5,719.21 L286.08,718.53 L280.66,745.66 L275.25,744.3 L269.83,749.73 L264.42,751.08 L259,745.66 L253.59,749.73 L248.17,747.69 L242.76,749.73 L237.34,749.73 L231.93,748.37 L226.51,751.08 L221.1,750.4 Z" fill="rgba(200,30,60,0.22)" stroke="rgba(200,30,60,0.18)" stroke-width="0.7"/>
<path d="M221.1,742.27 L226.51,745.66 L231.93,733.45 L237.34,747.69 L242.76,749.05 L248.17,749.45 L253.59,748.1 L259,749.05 L264.42,750 L269.83,749.05 L275.25,746.74 L280.66,741.59 L286.08,738.2 L291.5,739.55 L296.91,734.13 L302.32,734.81 L307.74,747.28 L313.15,749.45 L318.57,749.05 L323.99,745.39 L329.4,749.05" fill="none" stroke="#1c3f78" stroke-width="1.4" stroke-linejoin="round"/>
<circle cx="221.1" cy="742.27" r="2.25" fill="#1c3f78" stroke="#fff" stroke-width="0.75"/>
<circle cx="226.51" cy="745.66" r="2.25" fill="#1c3f78" stroke="#fff" stroke-width="0.75"/>
<circle cx="231.93" cy="733.45" r="2.25" fill="#1c3f78" stroke="#fff" stroke-width="0.75"/>
<circle cx="237.34" cy="747.69" r="2.25" fill="#1c3f78" stroke="#fff" stroke-width="0.75"/>
<circle cx="242.76" cy="749.05" r="2.25" fill="#1c3f78" stroke="#fff" stroke-width="0.75"/>
<circle cx="248.17" cy="749.45" r="2.25" fill="#1c3f78" stroke="#fff" stroke-width="0.75"/>
<circle cx="253.59" cy="748.1" r="2.25" fill="#1c3f78" stroke="#fff" stroke-width="0.75"/>
<circle cx="259" cy="749.05" r="2.25" fill="#1c3f78" stroke="#fff" stroke-width="0.75"/>
<circle cx="264.42" cy="750" r="2.25" fill="#1c3f78" stroke="#fff" stroke-width="0.75"/>
<circle cx="269.83" cy="749.05" r="2.25" fill="#1c3f78" stroke="#fff" stroke-width="0.75"/>
<circle cx="275.25" cy="746.74" r="2.25" fill="#1c3f78" stroke="#fff" stroke-width="0.75"/>
<circle cx="280.66" cy="741.59" r="2.25" fill="#1c3f78" stroke="#fff" stroke-width="0.75"/>
<circle cx="286.08" cy="738.2" r="2.25" fill="#1c3f78" stroke="#fff" stroke-width="0.75"/>
<circle cx="291.5" cy="739.55" r="2.25" fill="#1c3f78" stroke="#fff" stroke-width="0.75"/>
<circle cx="296.91" cy="734.13" r="2.25" fill="#1c3f78" stroke="#fff" stroke-width="0.75"/>
<circle cx="302.32" cy="734.81" r="2.25" fill="#1c3f78" stroke="#fff" stroke-width="0.75"/>
<circle cx="307.74" cy="747.28" r="2.25" fill="#1c3f78" stroke="#fff" stroke-width="0.75"/>
<circle cx="313.15" cy="749.45" r="2.25" fill="#1c3f78" stroke="#fff" stroke-width="0.75"/>
<circle cx="318.57" cy="749.05" r="2.25" fill="#1c3f78" stroke="#fff" stroke-width="0.75"/>
<circle cx="323.99" cy="745.39" r="2.25" fill="#1c3f78" stroke="#fff" stroke-width="0.75"/>
<circle cx="329.4" cy="749.05" r="2.25" fill="#1c3f78" stroke="#fff" stroke-width="0.75"/>
<path d="M221.1,748.37 L226.51,749.05 L231.93,745.93 L237.34,747.69 L242.76,747.69 L248.17,745.66 L253.59,747.69 L259,742.94 L264.42,748.64 L269.83,747.69 L275.25,736.84 L280.66,739.15 L286.08,703.34 L291.5,705.64 L296.91,686.66 L302.32,689.1 L307.74,715.14 L313.15,731.42 L318.57,731.01 L323.99,741.32 L329.4,735.21" fill="none" stroke="#bb0a28" stroke-width="1.4" stroke-linejoin="round"/>
<circle cx="221.1" cy="748.37" r="2.25" fill="#bb0a28" stroke="#fff" stroke-width="0.75"/>
<circle cx="226.51" cy="749.05" r="2.25" fill="#bb0a28" stroke="#fff" stroke-width="0.75"/>
<circle cx="231.93" cy="745.93" r="2.25" fill="#bb0a28" stroke="#fff" stroke-width="0.75"/>
<circle cx="237.34" cy="747.69" r="2.25" fill="#bb0a28" stroke="#fff" stroke-width="0.75"/>
<circle cx="242.76" cy="747.69" r="2.25" fill="#bb0a28" stroke="#fff" stroke-width="0.75"/>
<circle cx="248.17" cy="745.66" r="2.25" fill="#bb0a28" stroke="#fff" stroke-width="0.75"/>
<circle cx="253.59" cy="747.69" r="2.25" fill="#bb0a28" stroke="#fff" stroke-width="0.75"/>
<circle cx="259" cy="742.94" r="2.25" fill="#bb0a28" stroke="#fff" stroke-width="0.75"/>
<circle cx="264.42" cy="748.64" r="2.25" fill="#bb0a28" stroke="#fff" stroke-width="0.75"/>
<circle cx="269.83" cy="747.69" r="2.25" fill="#bb0a28" stroke="#fff" stroke-width="0.75"/>
<circle cx="275.25" cy="736.84" r="2.25" fill="#bb0a28" stroke="#fff" stroke-width="0.75"/>
<circle cx="280.66" cy="739.15" r="2.25" fill="#bb0a28" stroke="#fff" stroke-width="0.75"/>
<circle cx="286.08" cy="703.34" r="2.25" fill="#bb0a28" stroke="#fff" stroke-width="0.75"/>
<circle cx="291.5" cy="705.64" r="2.25" fill="#bb0a28" stroke="#fff" stroke-width="0.75"/>
<circle cx="296.91" cy="686.66" r="2.25" fill="#bb0a28" stroke="#fff" stroke-width="0.75"/>
<circle cx="302.32" cy="689.1" r="2.25" fill="#bb0a28" stroke="#fff" stroke-width="0.75"/>
<circle cx="307.74" cy="715.14" r="2.25" fill="#bb0a28" stroke="#fff" stroke-width="0.75"/>
<circle cx="313.15" cy="731.42" r="2.25" fill="#bb0a28" stroke="#fff" stroke-width="0.75"/>
<circle cx="318.57" cy="731.01" r="2.25" fill="#bb0a28" stroke="#fff" stroke-width="0.75"/>
<circle cx="323.99" cy="741.32" r="2.25" fill="#bb0a28" stroke="#fff" stroke-width="0.75"/>
<circle cx="329.4" cy="735.21" r="2.25" fill="#bb0a28" stroke="#fff" stroke-width="0.75"/>
<line x1="215.4" y1="661.6" x2="215.4" y2="755.3" stroke="#111" stroke-width="1.4"/>
<line x1="214.7" y1="754.6" x2="336.2" y2="754.6" stroke="#111" stroke-width="1.4"/>
<line x1="221.1" y1="754.6" x2="221.1" y2="758.1" stroke="#111" stroke-width="1.25"/>
<text transform="translate(219.2,767.55) scale(0.87,1)" font-size="9.3" text-anchor="middle" font-weight="normal" style="stroke-width:0.14px">−10</text>
<line x1="248.17" y1="754.6" x2="248.17" y2="758.1" stroke="#111" stroke-width="1.25"/>
<text transform="translate(246.27,767.55) scale(0.87,1)" font-size="9.3" text-anchor="middle" font-weight="normal" style="stroke-width:0.14px">−5</text>
<line x1="275.25" y1="754.6" x2="275.25" y2="758.1" stroke="#111" stroke-width="1.25"/>
<text transform="translate(275.15,767.55) scale(0.87,1)" font-size="9.3" text-anchor="middle" font-weight="normal" style="stroke-width:0.14px">0</text>
<line x1="302.32" y1="754.6" x2="302.32" y2="758.1" stroke="#111" stroke-width="1.25"/>
<text transform="translate(302.22,767.55) scale(0.87,1)" font-size="9.3" text-anchor="middle" font-weight="normal" style="stroke-width:0.14px">5</text>
<line x1="329.4" y1="754.6" x2="329.4" y2="758.1" stroke="#111" stroke-width="1.25"/>
<text transform="translate(329.3,767.55) scale(0.87,1)" font-size="9.3" text-anchor="middle" font-weight="normal" style="stroke-width:0.14px">10</text>
<line x1="211.8" y1="680.3" x2="215.4" y2="680.3" stroke="#111" stroke-width="1.15"/>
<text transform="translate(208.8,682.5) scale(0.92,1)" font-size="9.3" text-anchor="end" font-weight="normal" style="stroke-width:0.14px">−0.2</text>
<line x1="211.8" y1="699.3" x2="215.4" y2="699.3" stroke="#111" stroke-width="1.15"/>
<text transform="translate(208.8,701.5) scale(0.92,1)" font-size="9.3" text-anchor="end" font-weight="normal" style="stroke-width:0.14px">−0.4</text>
<line x1="211.8" y1="718.3" x2="215.4" y2="718.3" stroke="#111" stroke-width="1.15"/>
<text transform="translate(208.8,720.5) scale(0.92,1)" font-size="9.3" text-anchor="end" font-weight="normal" style="stroke-width:0.14px">−0.6</text>
<line x1="211.8" y1="736.8" x2="215.4" y2="736.8" stroke="#111" stroke-width="1.15"/>
<text transform="translate(208.8,739) scale(0.92,1)" font-size="9.3" text-anchor="end" font-weight="normal" style="stroke-width:0.14px">−0.8</text>
<text x="273" y="781.5" font-size="10" text-anchor="middle" font-weight="normal" textLength="88.5" lengthAdjust="spacingAndGlyphs" style="stroke-width:0.3px">Day relative to CRS onset</text>
<text transform="translate(186.7,715.1) rotate(-90)" font-size="10.4" text-anchor="middle" style="stroke-width:0.22px" textLength="110" lengthAdjust="spacingAndGlyphs">log<tspan font-size="7.2" dy="2.2">10</tspan><tspan dy="-2.2">(Cytokine levels) (pg/mL)</tspan></text>
<path d="M303.7,663.25 L304.26,664.38 L305.51,664.56 L304.6,665.44 L304.82,666.69 L303.7,666.1 L302.58,666.69 L302.8,665.44 L301.89,664.56 L303.14,664.38 Z" fill="#1a1a1a"/>
<path d="M309.3,663.25 L309.86,664.38 L311.11,664.56 L310.2,665.44 L310.42,666.69 L309.3,666.1 L308.18,666.69 L308.4,665.44 L307.49,664.56 L308.74,664.38 Z" fill="#1a1a1a"/>
<text transform="translate(347.73,651) scale(1.07,1)" font-size="14.7" text-anchor="start" font-weight="bold" style="fill:#000;stroke:none">O</text>
<text x="450.2" y="658.3" font-size="8.7" text-anchor="middle" font-weight="normal" textLength="29" lengthAdjust="spacingAndGlyphs" style="stroke-width:0.14px">IL-18BP</text>
<line x1="448.9" y1="661.5" x2="448.9" y2="754.6" stroke="#a9a9a9" stroke-width="1.05" stroke-dasharray="4.4,2.35" stroke-dashoffset="1.5"/>
<path d="M397.06,744.3 L402.82,730.74 L408.58,728.02 L414.34,734.81 L420.1,736.16 L425.86,737.52 L431.62,738.88 L437.38,737.52 L443.14,734.81 L448.9,723.96 L454.66,709.04 L460.42,691.4 L466.18,679.2 L471.94,679.87 L477.7,683.27 L483.46,688.69 L489.22,691.4 L494.98,713.1 L500.74,713.1 L506.5,720.7 L506.5,749.73 L500.74,732.09 L494.98,729.38 L489.22,710.39 L483.46,704.97 L477.7,696.83 L471.94,691.4 L466.18,688.69 L460.42,699.54 L454.66,715.82 L448.9,732.09 L443.14,744.3 L437.38,748.37 L431.62,749.73 L425.86,748.37 L420.1,748.37 L414.34,748.37 L408.58,740.23 L402.82,745.66 L397.06,750.4 Z" fill="rgba(40,80,140,0.22)" stroke="rgba(40,80,140,0.18)" stroke-width="0.7"/>
<path d="M391.3,709.04 L397.06,718.53 L402.82,722.6 L408.58,726.67 L414.34,711.75 L420.1,725.31 L425.86,726.67 L431.62,729.38 L437.38,725.31 L443.14,723.28 L448.9,709.04 L454.66,702.25 L460.42,683.27 L466.18,673.77 L471.94,666.99 L477.7,666.31 L483.46,668.35 L489.22,673.09 L494.98,676.48 L500.74,683.27 L506.5,692.76 L506.5,702.66 L500.74,694.12 L494.98,685.98 L489.22,681.91 L483.46,677.84 L477.7,674.45 L471.94,675.13 L466.18,681.91 L460.42,692.76 L454.66,710.39 L448.9,719.21 L443.14,734.81 L437.38,736.16 L431.62,741.59 L425.86,742.94 L420.1,740.23 L414.34,732.09 L408.58,740.23 L402.82,748.37 L397.06,742.94 L391.3,732.09 Z" fill="rgba(200,30,60,0.22)" stroke="rgba(200,30,60,0.18)" stroke-width="0.7"/>
<path d="M397.06,746.34 L402.82,737.52 L408.58,732.77 L414.34,742.67 L420.1,742.27 L425.86,742.67 L431.62,744.57 L437.38,742.94 L443.14,739.15 L448.9,728.02 L454.66,712.43 L460.42,695.47 L466.18,683.94 L471.94,684.89 L477.7,689.37 L483.46,695.47 L489.22,701.58 L494.98,721.65 L500.74,721.92 L506.5,736.71" fill="none" stroke="#1c3f78" stroke-width="1.15" stroke-linejoin="round"/>
<circle cx="397.06" cy="746.34" r="1.65" fill="#1c3f78" stroke="#fff" stroke-width="0.55"/>
<circle cx="402.82" cy="737.52" r="1.65" fill="#1c3f78" stroke="#fff" stroke-width="0.55"/>
<circle cx="408.58" cy="732.77" r="1.65" fill="#1c3f78" stroke="#fff" stroke-width="0.55"/>
<circle cx="414.34" cy="742.67" r="1.65" fill="#1c3f78" stroke="#fff" stroke-width="0.55"/>
<circle cx="420.1" cy="742.27" r="1.65" fill="#1c3f78" stroke="#fff" stroke-width="0.55"/>
<circle cx="425.86" cy="742.67" r="1.65" fill="#1c3f78" stroke="#fff" stroke-width="0.55"/>
<circle cx="431.62" cy="744.57" r="1.65" fill="#1c3f78" stroke="#fff" stroke-width="0.55"/>
<circle cx="437.38" cy="742.94" r="1.65" fill="#1c3f78" stroke="#fff" stroke-width="0.55"/>
<circle cx="443.14" cy="739.15" r="1.65" fill="#1c3f78" stroke="#fff" stroke-width="0.55"/>
<circle cx="448.9" cy="728.02" r="1.65" fill="#1c3f78" stroke="#fff" stroke-width="0.55"/>
<circle cx="454.66" cy="712.43" r="1.65" fill="#1c3f78" stroke="#fff" stroke-width="0.55"/>
<circle cx="460.42" cy="695.47" r="1.65" fill="#1c3f78" stroke="#fff" stroke-width="0.55"/>
<circle cx="466.18" cy="683.94" r="1.65" fill="#1c3f78" stroke="#fff" stroke-width="0.55"/>
<circle cx="471.94" cy="684.89" r="1.65" fill="#1c3f78" stroke="#fff" stroke-width="0.55"/>
<circle cx="477.7" cy="689.37" r="1.65" fill="#1c3f78" stroke="#fff" stroke-width="0.55"/>
<circle cx="483.46" cy="695.47" r="1.65" fill="#1c3f78" stroke="#fff" stroke-width="0.55"/>
<circle cx="489.22" cy="701.58" r="1.65" fill="#1c3f78" stroke="#fff" stroke-width="0.55"/>
<circle cx="494.98" cy="721.65" r="1.65" fill="#1c3f78" stroke="#fff" stroke-width="0.55"/>
<circle cx="500.74" cy="721.92" r="1.65" fill="#1c3f78" stroke="#fff" stroke-width="0.55"/>
<circle cx="506.5" cy="736.71" r="1.65" fill="#1c3f78" stroke="#fff" stroke-width="0.55"/>
<path d="M391.3,718.12 L397.06,730.33 L402.82,735.48 L408.58,731.01 L414.34,721.92 L420.1,731.82 L425.86,735.48 L431.62,735.48 L437.38,730.33 L443.14,728.3 L448.9,714.46 L454.66,707 L460.42,688.01 L466.18,678.11 L471.94,671.06 L477.7,670.79 L483.46,673.09 L489.22,677.57 L494.98,681.23 L500.74,688.69 L506.5,696.29" fill="none" stroke="#bb0a28" stroke-width="1.15" stroke-linejoin="round"/>
<circle cx="391.3" cy="718.12" r="1.65" fill="#bb0a28" stroke="#fff" stroke-width="0.55"/>
<circle cx="397.06" cy="730.33" r="1.65" fill="#bb0a28" stroke="#fff" stroke-width="0.55"/>
<circle cx="402.82" cy="735.48" r="1.65" fill="#bb0a28" stroke="#fff" stroke-width="0.55"/>
<circle cx="408.58" cy="731.01" r="1.65" fill="#bb0a28" stroke="#fff" stroke-width="0.55"/>
<circle cx="414.34" cy="721.92" r="1.65" fill="#bb0a28" stroke="#fff" stroke-width="0.55"/>
<circle cx="420.1" cy="731.82" r="1.65" fill="#bb0a28" stroke="#fff" stroke-width="0.55"/>
<circle cx="425.86" cy="735.48" r="1.65" fill="#bb0a28" stroke="#fff" stroke-width="0.55"/>
<circle cx="431.62" cy="735.48" r="1.65" fill="#bb0a28" stroke="#fff" stroke-width="0.55"/>
<circle cx="437.38" cy="730.33" r="1.65" fill="#bb0a28" stroke="#fff" stroke-width="0.55"/>
<circle cx="443.14" cy="728.3" r="1.65" fill="#bb0a28" stroke="#fff" stroke-width="0.55"/>
<circle cx="448.9" cy="714.46" r="1.65" fill="#bb0a28" stroke="#fff" stroke-width="0.55"/>
<circle cx="454.66" cy="707" r="1.65" fill="#bb0a28" stroke="#fff" stroke-width="0.55"/>
<circle cx="460.42" cy="688.01" r="1.65" fill="#bb0a28" stroke="#fff" stroke-width="0.55"/>
<circle cx="466.18" cy="678.11" r="1.65" fill="#bb0a28" stroke="#fff" stroke-width="0.55"/>
<circle cx="471.94" cy="671.06" r="1.65" fill="#bb0a28" stroke="#fff" stroke-width="0.55"/>
<circle cx="477.7" cy="670.79" r="1.65" fill="#bb0a28" stroke="#fff" stroke-width="0.55"/>
<circle cx="483.46" cy="673.09" r="1.65" fill="#bb0a28" stroke="#fff" stroke-width="0.55"/>
<circle cx="489.22" cy="677.57" r="1.65" fill="#bb0a28" stroke="#fff" stroke-width="0.55"/>
<circle cx="494.98" cy="681.23" r="1.65" fill="#bb0a28" stroke="#fff" stroke-width="0.55"/>
<circle cx="500.74" cy="688.69" r="1.65" fill="#bb0a28" stroke="#fff" stroke-width="0.55"/>
<circle cx="506.5" cy="696.29" r="1.65" fill="#bb0a28" stroke="#fff" stroke-width="0.55"/>
<line x1="385.9" y1="661.5" x2="385.9" y2="755.3" stroke="#111" stroke-width="1.4"/>
<line x1="385.2" y1="754.6" x2="511.9" y2="754.6" stroke="#111" stroke-width="1.4"/>
<line x1="391.3" y1="754.6" x2="391.3" y2="758.1" stroke="#111" stroke-width="1.25"/>
<text transform="translate(389.4,767.55) scale(0.87,1)" font-size="9.3" text-anchor="middle" font-weight="normal" style="stroke-width:0.14px">−10</text>
<line x1="420.1" y1="754.6" x2="420.1" y2="758.1" stroke="#111" stroke-width="1.25"/>
<text transform="translate(418.2,767.55) scale(0.87,1)" font-size="9.3" text-anchor="middle" font-weight="normal" style="stroke-width:0.14px">−5</text>
<line x1="448.9" y1="754.6" x2="448.9" y2="758.1" stroke="#111" stroke-width="1.25"/>
<text transform="translate(448.8,767.55) scale(0.87,1)" font-size="9.3" text-anchor="middle" font-weight="normal" style="stroke-width:0.14px">0</text>
<line x1="477.7" y1="754.6" x2="477.7" y2="758.1" stroke="#111" stroke-width="1.25"/>
<text transform="translate(477.6,767.55) scale(0.87,1)" font-size="9.3" text-anchor="middle" font-weight="normal" style="stroke-width:0.14px">5</text>
<line x1="506.5" y1="754.6" x2="506.5" y2="758.1" stroke="#111" stroke-width="1.25"/>
<text transform="translate(506.4,767.55) scale(0.87,1)" font-size="9.3" text-anchor="middle" font-weight="normal" style="stroke-width:0.14px">10</text>
<line x1="382.3" y1="672.4" x2="385.9" y2="672.4" stroke="#111" stroke-width="1.15"/>
<text transform="translate(379.3,674.6) scale(0.92,1)" font-size="9.3" text-anchor="end" font-weight="normal" style="stroke-width:0.14px">4.8</text>
<line x1="382.3" y1="688" x2="385.9" y2="688" stroke="#111" stroke-width="1.15"/>
<text transform="translate(379.3,690.2) scale(0.92,1)" font-size="9.3" text-anchor="end" font-weight="normal" style="stroke-width:0.14px">4.6</text>
<line x1="382.3" y1="703.6" x2="385.9" y2="703.6" stroke="#111" stroke-width="1.15"/>
<text transform="translate(379.3,705.8) scale(0.92,1)" font-size="9.3" text-anchor="end" font-weight="normal" style="stroke-width:0.14px">4.4</text>
<line x1="382.3" y1="719.9" x2="385.9" y2="719.9" stroke="#111" stroke-width="1.15"/>
<text transform="translate(379.3,722.1) scale(0.92,1)" font-size="9.3" text-anchor="end" font-weight="normal" style="stroke-width:0.14px">4.2</text>
<line x1="382.3" y1="736.4" x2="385.9" y2="736.4" stroke="#111" stroke-width="1.15"/>
<text transform="translate(379.3,738.6) scale(0.92,1)" font-size="9.3" text-anchor="end" font-weight="normal" style="stroke-width:0.14px">4.0</text>
<line x1="382.3" y1="752.4" x2="385.9" y2="752.4" stroke="#111" stroke-width="1.15"/>
<text transform="translate(379.3,754.6) scale(0.92,1)" font-size="9.3" text-anchor="end" font-weight="normal" style="stroke-width:0.14px">3.8</text>
<text x="449.25" y="781.5" font-size="10" text-anchor="middle" font-weight="normal" textLength="88.5" lengthAdjust="spacingAndGlyphs" style="stroke-width:0.3px">Day relative to CRS onset</text>
<text transform="translate(356.7,715.1) rotate(-90)" font-size="10.4" text-anchor="middle" style="stroke-width:0.22px" textLength="110" lengthAdjust="spacingAndGlyphs">log<tspan font-size="7.2" dy="2.2">10</tspan><tspan dy="-2.2">(Cytokine levels) (pg/mL)</tspan></text>
<path d="M472.8,662.64 L473.3,663.66 L474.43,663.82 L473.61,664.61 L473.81,665.73 L472.8,665.21 L471.79,665.73 L471.99,664.61 L471.17,663.82 L472.3,663.66 Z" fill="#1a1a1a"/>
<path d="M478,662.64 L478.5,663.66 L479.63,663.82 L478.81,664.61 L479.01,665.73 L478,665.21 L476.99,665.73 L477.19,664.61 L476.37,663.82 L477.5,663.66 Z" fill="#1a1a1a"/>
<path d="M494.8,662.64 L495.3,663.66 L496.43,663.82 L495.61,664.61 L495.81,665.73 L494.8,665.21 L493.79,665.73 L493.99,664.61 L493.17,663.82 L494.3,663.66 Z" fill="#1a1a1a"/>
<rect x="175" y="788" width="199.5" height="15.75" fill="#fff" stroke="#222" stroke-width="1"/>
<line x1="182.5" y1="796" x2="205.5" y2="796" stroke="#bb0a28" stroke-width="1.6"/>
<circle cx="194.5" cy="796" r="2.3" fill="#bb0a28" stroke="#fff" stroke-width="0.8"/>
<text x="208.75" y="799" font-size="9" text-anchor="start" font-weight="normal" textLength="60.75" lengthAdjust="spacingAndGlyphs" >carHLH+ (n=21)</text>
<line x1="283" y1="796" x2="305.5" y2="796" stroke="#1c3f78" stroke-width="1.6"/>
<circle cx="294.25" cy="796" r="2.3" fill="#1c3f78" stroke="#fff" stroke-width="0.8"/>
<text x="308.75" y="799" font-size="9" text-anchor="start" font-weight="normal" textLength="58.75" lengthAdjust="spacingAndGlyphs" >carHLH– (n=31)</text>
<rect x="0" y="0" width="520" height="1.1" fill="#000"/><rect x="0" y="0" width="1.1" height="811" fill="#000"/><rect x="518.2" y="0" width="1.8" height="811" fill="#000"/><rect x="0" y="809.2" width="520" height="1.8" fill="#000"/>
</svg>
</body></html>
